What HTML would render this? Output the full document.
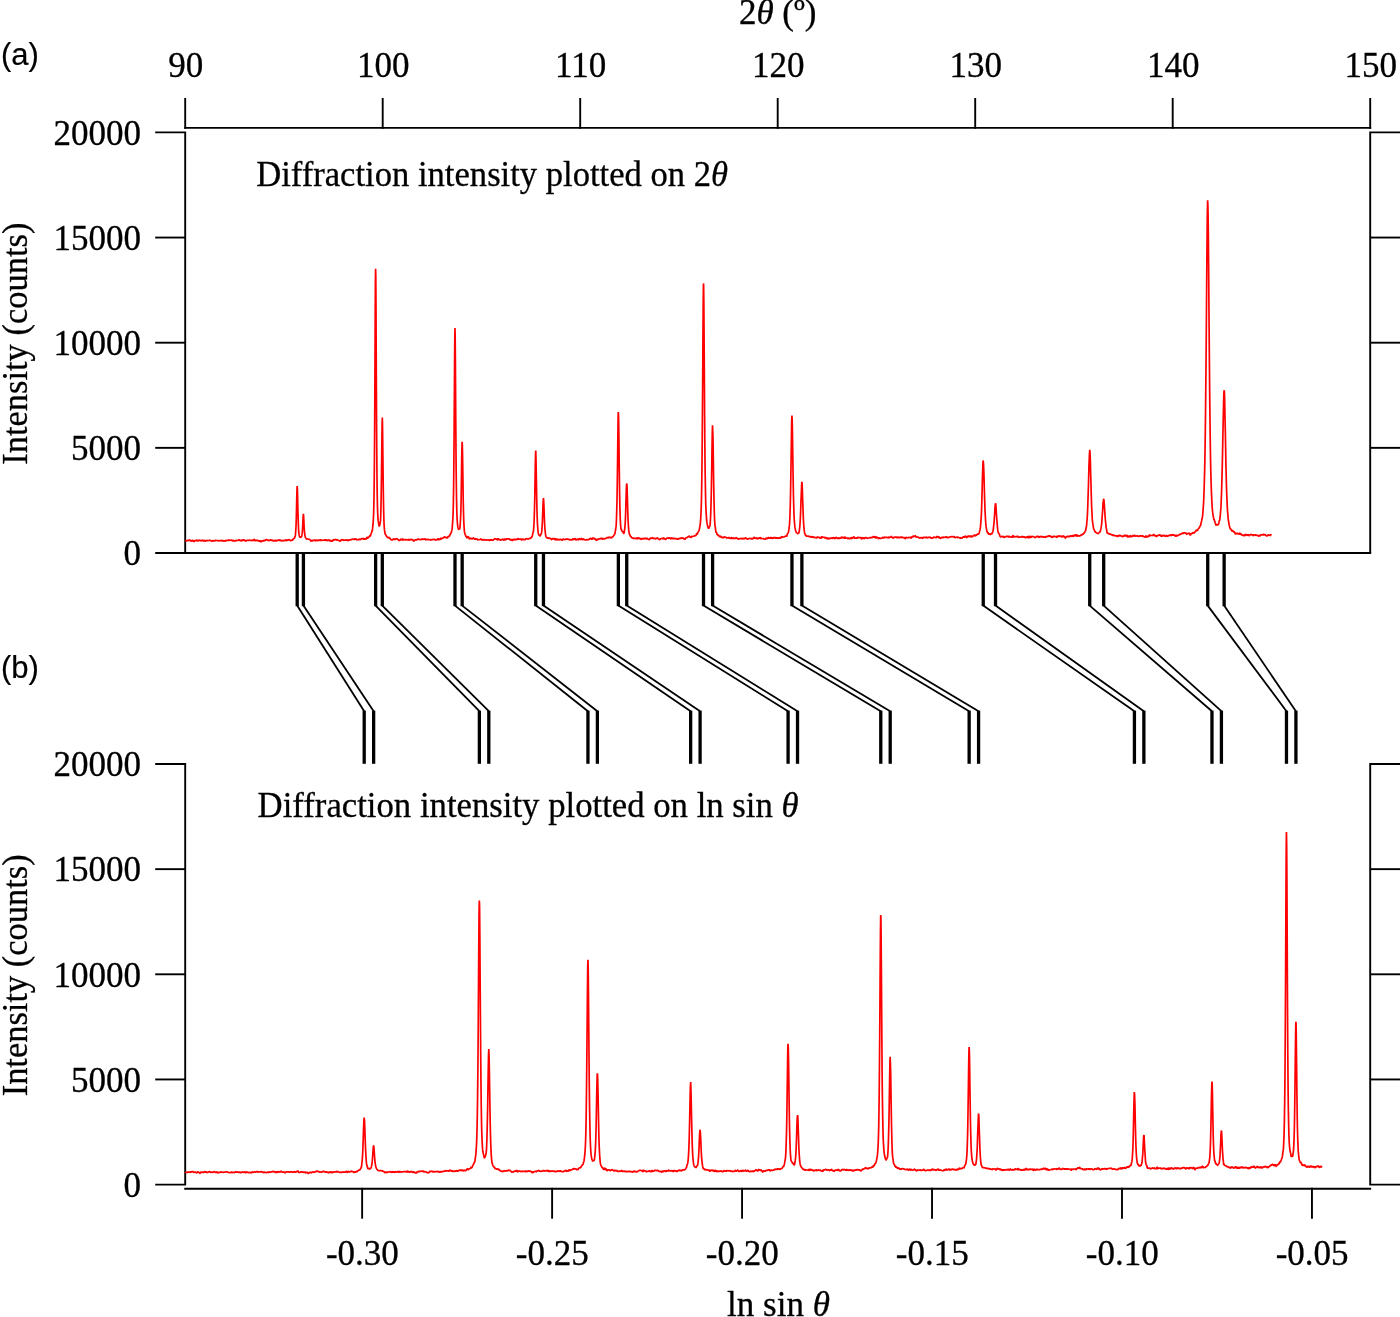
<!DOCTYPE html>
<html lang="en"><head><meta charset="utf-8"><title>Diffraction intensity plotted on 2θ and ln sin θ</title>
<style>html,body{margin:0;padding:0;background:#fff}body{width:1400px;height:1317px;overflow:hidden}svg{display:block}</style>
</head><body>
<svg width="1400" height="1317" viewBox="0 0 1400 1317">
<rect width="1400" height="1317" fill="#fff"/>
<path d="M184.25,127.90 L1371.15,127.90" stroke="#000" stroke-width="1.9" fill="none"/>
<path d="M185.20,128.85 L185.20,98.00" stroke="#000" stroke-width="1.9" fill="none"/>
<path d="M382.70,128.85 L382.70,98.00" stroke="#000" stroke-width="1.9" fill="none"/>
<path d="M580.20,128.85 L580.20,98.00" stroke="#000" stroke-width="1.9" fill="none"/>
<path d="M777.70,128.85 L777.70,98.00" stroke="#000" stroke-width="1.9" fill="none"/>
<path d="M975.20,128.85 L975.20,98.00" stroke="#000" stroke-width="1.9" fill="none"/>
<path d="M1172.70,128.85 L1172.70,98.00" stroke="#000" stroke-width="1.9" fill="none"/>
<path d="M1370.20,128.85 L1370.20,98.00" stroke="#000" stroke-width="1.9" fill="none"/>
<path d="M155.2,132.40 L185.20,132.40 L185.20,553.00" stroke="#000" stroke-width="1.9" fill="none"/>
<path d="M155.20,553.00 L1371.15,553.00" stroke="#000" stroke-width="1.9" fill="none"/>
<path d="M155.20,447.85 L185.20,447.85" stroke="#000" stroke-width="1.9" fill="none"/>
<path d="M155.20,342.70 L185.20,342.70" stroke="#000" stroke-width="1.9" fill="none"/>
<path d="M155.20,237.55 L185.20,237.55" stroke="#000" stroke-width="1.9" fill="none"/>
<path d="M1400,132.40 L1370.20,132.40 L1370.20,553.00" stroke="#000" stroke-width="1.9" fill="none"/>
<path d="M1370.20,447.85 L1400.00,447.85" stroke="#000" stroke-width="1.9" fill="none"/>
<path d="M1370.20,342.70 L1400.00,342.70" stroke="#000" stroke-width="1.9" fill="none"/>
<path d="M1370.20,237.55 L1400.00,237.55" stroke="#000" stroke-width="1.9" fill="none"/>
<path d="M155.2,764.00 L185.20,764.00 L185.20,1184.60 L155.2,1184.60" stroke="#000" stroke-width="1.9" fill="none"/>
<path d="M155.20,1079.45 L185.20,1079.45" stroke="#000" stroke-width="1.9" fill="none"/>
<path d="M155.20,974.30 L185.20,974.30" stroke="#000" stroke-width="1.9" fill="none"/>
<path d="M155.20,869.15 L185.20,869.15" stroke="#000" stroke-width="1.9" fill="none"/>
<path d="M1400,764.00 L1370.20,764.00 L1370.20,1184.60 L1400,1184.60" stroke="#000" stroke-width="1.9" fill="none"/>
<path d="M1370.20,1079.45 L1400.00,1079.45" stroke="#000" stroke-width="1.9" fill="none"/>
<path d="M1370.20,974.30 L1400.00,974.30" stroke="#000" stroke-width="1.9" fill="none"/>
<path d="M1370.20,869.15 L1400.00,869.15" stroke="#000" stroke-width="1.9" fill="none"/>
<path d="M184.25,1188.80 L1371.15,1188.80" stroke="#000" stroke-width="1.9" fill="none"/>
<path d="M362.14,1187.85 L362.14,1218.70" stroke="#000" stroke-width="1.9" fill="none"/>
<path d="M552.11,1187.85 L552.11,1218.70" stroke="#000" stroke-width="1.9" fill="none"/>
<path d="M742.07,1187.85 L742.07,1218.70" stroke="#000" stroke-width="1.9" fill="none"/>
<path d="M932.03,1187.85 L932.03,1218.70" stroke="#000" stroke-width="1.9" fill="none"/>
<path d="M1121.99,1187.85 L1121.99,1218.70" stroke="#000" stroke-width="1.9" fill="none"/>
<path d="M1311.95,1187.85 L1311.95,1218.70" stroke="#000" stroke-width="1.9" fill="none"/>
<path d="M297.19,553.00 L297.19,606.20" stroke="#000" stroke-width="3.3" fill="none"/>
<path d="M364.20,710.60 L364.20,763.80" stroke="#000" stroke-width="3.3" fill="none"/>
<path d="M297.19,605.60 L364.20,711.20" stroke="#000" stroke-width="1.8" fill="none"/>
<path d="M303.42,553.00 L303.42,606.20" stroke="#000" stroke-width="3.3" fill="none"/>
<path d="M373.64,710.60 L373.64,763.80" stroke="#000" stroke-width="3.3" fill="none"/>
<path d="M303.42,605.60 L373.64,711.20" stroke="#000" stroke-width="1.8" fill="none"/>
<path d="M375.62,553.00 L375.62,606.20" stroke="#000" stroke-width="3.3" fill="none"/>
<path d="M479.36,710.60 L479.36,763.80" stroke="#000" stroke-width="3.3" fill="none"/>
<path d="M375.62,605.60 L479.36,711.20" stroke="#000" stroke-width="1.8" fill="none"/>
<path d="M382.30,553.00 L382.30,606.20" stroke="#000" stroke-width="3.3" fill="none"/>
<path d="M488.80,710.60 L488.80,763.80" stroke="#000" stroke-width="3.3" fill="none"/>
<path d="M382.30,605.60 L488.80,711.20" stroke="#000" stroke-width="1.8" fill="none"/>
<path d="M454.99,553.00 L454.99,606.20" stroke="#000" stroke-width="3.3" fill="none"/>
<path d="M587.94,710.60 L587.94,763.80" stroke="#000" stroke-width="3.3" fill="none"/>
<path d="M454.99,605.60 L587.94,711.20" stroke="#000" stroke-width="1.8" fill="none"/>
<path d="M462.17,553.00 L462.17,606.20" stroke="#000" stroke-width="3.3" fill="none"/>
<path d="M597.38,710.60 L597.38,763.80" stroke="#000" stroke-width="3.3" fill="none"/>
<path d="M462.17,605.60 L597.38,711.20" stroke="#000" stroke-width="1.8" fill="none"/>
<path d="M535.73,553.00 L535.73,606.20" stroke="#000" stroke-width="3.3" fill="none"/>
<path d="M690.65,710.60 L690.65,763.80" stroke="#000" stroke-width="3.3" fill="none"/>
<path d="M535.73,605.60 L690.65,711.20" stroke="#000" stroke-width="1.8" fill="none"/>
<path d="M543.46,553.00 L543.46,606.20" stroke="#000" stroke-width="3.3" fill="none"/>
<path d="M700.09,710.60 L700.09,763.80" stroke="#000" stroke-width="3.3" fill="none"/>
<path d="M543.46,605.60 L700.09,711.20" stroke="#000" stroke-width="1.8" fill="none"/>
<path d="M618.36,553.00 L618.36,606.20" stroke="#000" stroke-width="3.3" fill="none"/>
<path d="M788.08,710.60 L788.08,763.80" stroke="#000" stroke-width="3.3" fill="none"/>
<path d="M618.36,605.60 L788.08,711.20" stroke="#000" stroke-width="1.8" fill="none"/>
<path d="M626.73,553.00 L626.73,606.20" stroke="#000" stroke-width="3.3" fill="none"/>
<path d="M797.53,710.60 L797.53,763.80" stroke="#000" stroke-width="3.3" fill="none"/>
<path d="M626.73,605.60 L797.53,711.20" stroke="#000" stroke-width="1.8" fill="none"/>
<path d="M703.51,553.00 L703.51,606.20" stroke="#000" stroke-width="3.3" fill="none"/>
<path d="M880.77,710.60 L880.77,763.80" stroke="#000" stroke-width="3.3" fill="none"/>
<path d="M703.51,605.60 L880.77,711.20" stroke="#000" stroke-width="1.8" fill="none"/>
<path d="M712.60,553.00 L712.60,606.20" stroke="#000" stroke-width="3.3" fill="none"/>
<path d="M890.21,710.60 L890.21,763.80" stroke="#000" stroke-width="3.3" fill="none"/>
<path d="M712.60,605.60 L890.21,711.20" stroke="#000" stroke-width="1.8" fill="none"/>
<path d="M791.95,553.00 L791.95,606.20" stroke="#000" stroke-width="3.3" fill="none"/>
<path d="M969.14,710.60 L969.14,763.80" stroke="#000" stroke-width="3.3" fill="none"/>
<path d="M791.95,605.60 L969.14,711.20" stroke="#000" stroke-width="1.8" fill="none"/>
<path d="M801.88,553.00 L801.88,606.20" stroke="#000" stroke-width="3.3" fill="none"/>
<path d="M978.58,710.60 L978.58,763.80" stroke="#000" stroke-width="3.3" fill="none"/>
<path d="M801.88,605.60 L978.58,711.20" stroke="#000" stroke-width="1.8" fill="none"/>
<path d="M983.24,553.00 L983.24,606.20" stroke="#000" stroke-width="3.3" fill="none"/>
<path d="M1134.42,710.60 L1134.42,763.80" stroke="#000" stroke-width="3.3" fill="none"/>
<path d="M983.24,605.60 L1134.42,711.20" stroke="#000" stroke-width="1.8" fill="none"/>
<path d="M995.51,553.00 L995.51,606.20" stroke="#000" stroke-width="3.3" fill="none"/>
<path d="M1143.87,710.60 L1143.87,763.80" stroke="#000" stroke-width="3.3" fill="none"/>
<path d="M995.51,605.60 L1143.87,711.20" stroke="#000" stroke-width="1.8" fill="none"/>
<path d="M1089.72,553.00 L1089.72,606.20" stroke="#000" stroke-width="3.3" fill="none"/>
<path d="M1211.97,710.60 L1211.97,763.80" stroke="#000" stroke-width="3.3" fill="none"/>
<path d="M1089.72,605.60 L1211.97,711.20" stroke="#000" stroke-width="1.8" fill="none"/>
<path d="M1103.69,553.00 L1103.69,606.20" stroke="#000" stroke-width="3.3" fill="none"/>
<path d="M1221.41,710.60 L1221.41,763.80" stroke="#000" stroke-width="3.3" fill="none"/>
<path d="M1103.69,605.60 L1221.41,711.20" stroke="#000" stroke-width="1.8" fill="none"/>
<path d="M1207.72,553.00 L1207.72,606.20" stroke="#000" stroke-width="3.3" fill="none"/>
<path d="M1286.47,710.60 L1286.47,763.80" stroke="#000" stroke-width="3.3" fill="none"/>
<path d="M1207.72,605.60 L1286.47,711.20" stroke="#000" stroke-width="1.8" fill="none"/>
<path d="M1224.14,553.00 L1224.14,606.20" stroke="#000" stroke-width="3.3" fill="none"/>
<path d="M1295.92,710.60 L1295.92,763.80" stroke="#000" stroke-width="3.3" fill="none"/>
<path d="M1224.14,605.60 L1295.92,711.20" stroke="#000" stroke-width="1.8" fill="none"/>
<path d="M185.20,540.36 L185.40,540.63 L185.60,540.72 L185.79,540.69 L185.99,540.84 L186.19,540.76 L186.39,540.87 L186.58,540.95 L186.78,540.49 L186.98,540.37 L187.18,540.67 L187.37,540.60 L187.57,540.43 L187.77,540.52 L187.97,540.74 L188.16,540.76 L188.36,540.41 L188.56,540.20 L188.76,540.42 L188.95,540.43 L189.15,540.01 L189.35,540.04 L189.55,540.06 L189.74,539.77 L189.94,540.19 L190.14,540.72 L190.34,540.90 L190.53,540.85 L190.73,540.44 L190.93,540.46 L191.13,540.53 L191.32,540.49 L191.52,540.72 L191.72,540.88 L191.92,541.13 L192.11,541.22 L192.31,540.86 L192.51,540.23 L192.71,540.12 L192.90,540.52 L193.10,540.66 L193.30,540.71 L193.50,540.85 L193.69,541.26 L193.89,541.73 L194.09,541.61 L194.29,540.82 L194.48,540.30 L194.68,540.67 L194.88,540.80 L195.08,540.44 L195.27,540.52 L195.47,540.69 L195.67,540.63 L195.87,540.64 L196.06,540.80 L196.26,540.78 L196.46,540.42 L196.66,540.10 L196.85,540.01 L197.05,540.45 L197.25,540.82 L197.45,540.33 L197.64,539.91 L197.84,540.33 L198.04,540.81 L198.24,540.97 L198.43,540.90 L198.63,540.83 L198.83,540.64 L199.03,540.31 L199.22,540.41 L199.42,540.39 L199.62,540.01 L199.82,540.06 L200.01,540.45 L200.21,540.49 L200.41,540.43 L200.61,540.83 L200.80,541.03 L201.00,540.55 L201.20,540.21 L201.40,540.47 L201.59,540.78 L201.79,540.82 L201.99,540.80 L202.19,540.58 L202.38,540.11 L202.58,539.99 L202.78,540.23 L202.98,540.40 L203.17,540.51 L203.37,540.71 L203.57,540.93 L203.77,541.04 L203.96,540.67 L204.16,540.17 L204.36,540.41 L204.56,540.94 L204.75,541.19 L204.95,541.14 L205.15,540.86 L205.35,540.92 L205.54,541.13 L205.74,540.98 L205.94,540.72 L206.14,540.47 L206.33,540.31 L206.53,540.33 L206.73,540.65 L206.93,540.79 L207.12,540.50 L207.32,540.27 L207.52,540.53 L207.72,540.87 L207.91,540.74 L208.11,540.64 L208.31,540.79 L208.51,540.57 L208.70,540.22 L208.90,540.51 L209.10,540.71 L209.30,540.43 L209.49,540.40 L209.69,540.42 L209.89,540.28 L210.09,540.28 L210.28,540.29 L210.48,540.26 L210.68,540.50 L210.88,540.80 L211.07,540.88 L211.27,540.79 L211.47,540.77 L211.67,541.10 L211.86,541.20 L212.06,540.95 L212.26,541.13 L212.46,541.14 L212.65,540.72 L212.85,540.52 L213.05,540.46 L213.25,540.63 L213.44,540.94 L213.64,540.95 L213.84,540.75 L214.04,540.68 L214.23,540.75 L214.43,540.87 L214.63,540.95 L214.83,540.97 L215.02,541.06 L215.22,540.78 L215.42,540.30 L215.62,540.02 L215.81,540.25 L216.01,540.75 L216.21,540.52 L216.41,540.14 L216.60,540.40 L216.80,540.77 L217.00,540.48 L217.20,540.36 L217.39,540.80 L217.59,540.63 L217.79,540.43 L217.99,540.65 L218.18,540.77 L218.38,541.00 L218.58,541.15 L218.78,540.98 L218.97,540.75 L219.17,540.55 L219.37,540.56 L219.57,540.80 L219.76,540.68 L219.96,540.32 L220.16,540.52 L220.36,540.80 L220.55,540.66 L220.75,540.58 L220.95,540.52 L221.15,540.31 L221.34,540.23 L221.54,540.67 L221.74,541.29 L221.94,541.15 L222.13,540.66 L222.33,540.47 L222.53,540.34 L222.73,540.53 L222.92,540.67 L223.12,540.58 L223.32,541.02 L223.52,541.07 L223.71,540.70 L223.91,540.90 L224.11,540.74 L224.31,540.46 L224.50,540.89 L224.70,541.14 L224.90,540.98 L225.10,541.25 L225.29,541.38 L225.49,540.91 L225.69,540.48 L225.89,540.33 L226.08,540.36 L226.28,540.53 L226.48,540.70 L226.68,540.77 L226.87,540.53 L227.07,540.27 L227.27,540.27 L227.47,540.32 L227.66,540.50 L227.86,540.56 L228.06,540.42 L228.26,540.29 L228.45,540.16 L228.65,539.94 L228.85,539.83 L229.05,540.12 L229.24,540.48 L229.44,540.54 L229.64,540.27 L229.84,540.14 L230.03,540.34 L230.23,540.25 L230.43,540.08 L230.63,540.28 L230.82,540.32 L231.02,540.13 L231.22,540.16 L231.42,540.13 L231.61,539.93 L231.81,540.08 L232.01,540.55 L232.21,540.73 L232.40,540.63 L232.60,540.90 L232.80,541.03 L233.00,540.60 L233.19,540.43 L233.39,540.66 L233.59,540.75 L233.79,540.59 L233.98,540.71 L234.18,541.01 L234.38,541.13 L234.58,541.00 L234.77,540.86 L234.97,540.78 L235.17,540.67 L235.37,540.57 L235.56,540.57 L235.76,540.90 L235.96,541.09 L236.16,540.80 L236.35,540.40 L236.55,540.17 L236.75,540.51 L236.95,540.92 L237.14,540.48 L237.34,540.02 L237.54,540.26 L237.74,540.41 L237.93,540.32 L238.13,540.22 L238.33,540.07 L238.53,539.89 L238.72,539.71 L238.92,539.92 L239.12,540.19 L239.32,539.97 L239.51,539.91 L239.71,540.24 L239.91,540.65 L240.11,540.70 L240.30,540.28 L240.50,540.44 L240.70,541.00 L240.90,540.90 L241.09,540.33 L241.29,540.00 L241.49,540.05 L241.69,540.26 L241.88,540.68 L242.08,540.69 L242.28,540.21 L242.48,540.10 L242.67,540.12 L242.87,540.13 L243.07,540.47 L243.27,540.42 L243.46,539.84 L243.66,539.66 L243.86,539.82 L244.06,539.93 L244.25,540.21 L244.45,540.37 L244.65,540.60 L244.85,540.84 L245.04,540.50 L245.24,540.26 L245.44,540.49 L245.64,540.45 L245.83,540.42 L246.03,540.98 L246.23,541.28 L246.43,541.15 L246.62,540.81 L246.82,540.31 L247.02,540.37 L247.22,540.74 L247.41,540.33 L247.61,539.80 L247.81,540.25 L248.01,540.58 L248.20,540.25 L248.40,540.06 L248.60,540.26 L248.80,540.65 L248.99,540.62 L249.19,540.27 L249.39,540.42 L249.59,540.55 L249.78,540.06 L249.98,539.93 L250.18,540.25 L250.38,540.32 L250.57,540.31 L250.77,540.57 L250.97,540.64 L251.17,540.51 L251.36,540.51 L251.56,540.49 L251.76,540.55 L251.96,540.42 L252.15,539.98 L252.35,539.84 L252.55,540.37 L252.75,540.72 L252.94,540.61 L253.14,540.55 L253.34,540.34 L253.54,539.95 L253.73,539.62 L253.93,539.69 L254.13,539.80 L254.33,539.35 L254.52,539.41 L254.72,540.41 L254.92,541.01 L255.12,540.72 L255.31,540.73 L255.51,541.04 L255.71,540.77 L255.91,540.59 L256.10,540.58 L256.30,540.21 L256.50,540.08 L256.70,540.30 L256.89,540.40 L257.09,540.53 L257.29,540.55 L257.49,540.28 L257.68,540.21 L257.88,540.70 L258.08,540.96 L258.28,540.80 L258.47,540.85 L258.67,540.55 L258.87,540.20 L259.07,540.69 L259.26,541.35 L259.46,541.28 L259.66,540.82 L259.86,540.74 L260.05,540.71 L260.25,540.67 L260.45,540.91 L260.65,541.19 L260.84,541.67 L261.04,542.11 L261.24,541.77 L261.44,541.18 L261.63,540.92 L261.83,540.84 L262.03,540.86 L262.23,540.75 L262.42,540.76 L262.62,541.04 L262.82,541.27 L263.02,541.19 L263.21,540.80 L263.41,540.64 L263.61,540.50 L263.81,540.20 L264.00,540.31 L264.20,540.51 L264.40,540.67 L264.60,540.82 L264.79,540.56 L264.99,540.52 L265.19,540.53 L265.39,540.14 L265.58,540.01 L265.78,539.97 L265.98,539.81 L266.18,539.47 L266.37,539.44 L266.57,540.02 L266.77,540.27 L266.97,539.84 L267.16,539.54 L267.36,539.77 L267.56,539.86 L267.76,540.06 L267.95,540.54 L268.15,540.56 L268.35,540.30 L268.55,540.15 L268.74,540.30 L268.94,540.49 L269.14,540.51 L269.34,540.53 L269.53,540.37 L269.73,540.30 L269.93,540.33 L270.13,540.14 L270.32,539.86 L270.52,539.83 L270.72,539.81 L270.92,539.93 L271.11,540.15 L271.31,540.05 L271.51,540.02 L271.71,540.25 L271.90,540.55 L272.10,540.59 L272.30,540.16 L272.50,540.09 L272.69,540.56 L272.89,540.73 L273.09,540.62 L273.29,540.44 L273.48,540.25 L273.68,540.60 L273.88,541.21 L274.08,541.15 L274.27,540.82 L274.47,540.71 L274.67,540.74 L274.87,540.63 L275.06,540.11 L275.26,540.25 L275.46,541.04 L275.66,540.93 L275.85,540.48 L276.05,540.54 L276.25,540.83 L276.45,541.10 L276.64,540.90 L276.84,540.34 L277.04,540.13 L277.24,540.43 L277.43,540.64 L277.63,540.50 L277.83,540.29 L278.03,540.12 L278.22,540.17 L278.42,540.27 L278.62,540.30 L278.82,540.28 L279.01,539.87 L279.21,539.84 L279.41,540.24 L279.61,540.35 L279.80,540.28 L280.00,539.99 L280.20,539.96 L280.40,540.18 L280.59,540.25 L280.79,540.56 L280.99,540.85 L281.19,540.85 L281.38,540.80 L281.58,540.76 L281.78,540.78 L281.98,540.75 L282.17,540.44 L282.37,540.37 L282.57,540.84 L282.77,540.98 L282.96,540.44 L283.16,540.18 L283.36,540.61 L283.56,540.86 L283.75,540.40 L283.95,540.29 L284.15,540.69 L284.35,540.59 L284.54,540.51 L284.74,540.53 L284.94,540.42 L285.14,540.44 L285.33,540.04 L285.53,539.64 L285.73,539.90 L285.93,540.41 L286.12,540.69 L286.32,540.72 L286.52,540.32 L286.72,539.70 L286.91,539.84 L287.11,540.34 L287.31,540.49 L287.51,540.37 L287.70,540.29 L287.90,540.07 L288.10,539.74 L288.30,540.03 L288.49,540.24 L288.69,539.82 L288.89,539.41 L289.09,539.57 L289.28,540.02 L289.48,540.13 L289.68,540.05 L289.88,540.06 L290.07,540.29 L290.27,540.75 L290.47,540.83 L290.67,540.68 L290.86,540.50 L291.06,540.14 L291.26,540.25 L291.46,540.55 L291.65,540.43 L291.85,540.22 L292.05,539.87 L292.25,539.71 L292.44,540.15 L292.64,540.15 L292.84,539.52 L293.04,539.16 L293.23,538.95 L293.43,538.75 L293.63,538.58 L293.83,538.46 L294.02,538.46 L294.22,538.33 L294.42,538.22 L294.62,537.84 L294.81,536.94 L295.01,536.52 L295.21,536.40 L295.41,535.15 L295.60,532.68 L295.80,529.88 L296.00,526.50 L296.20,521.68 L296.39,514.33 L296.59,504.96 L296.79,496.21 L296.99,489.30 L297.18,486.04 L297.38,488.51 L297.58,495.72 L297.78,504.66 L297.97,512.85 L298.17,519.69 L298.37,525.21 L298.57,529.66 L298.76,532.48 L298.96,533.74 L299.16,534.71 L299.36,535.90 L299.55,536.79 L299.75,537.17 L299.95,537.10 L300.15,536.78 L300.34,536.79 L300.54,537.04 L300.74,537.42 L300.94,537.52 L301.13,536.96 L301.33,536.52 L301.53,536.53 L301.73,536.13 L301.92,535.20 L302.12,533.90 L302.32,531.98 L302.52,529.59 L302.71,526.15 L302.91,521.61 L303.11,517.11 L303.31,514.26 L303.50,514.22 L303.70,517.35 L303.90,521.64 L304.10,526.18 L304.29,529.51 L304.49,531.94 L304.69,533.98 L304.89,535.10 L305.08,536.03 L305.28,536.97 L305.48,537.38 L305.68,537.74 L305.87,538.13 L306.07,538.41 L306.27,538.67 L306.47,538.93 L306.66,538.99 L306.86,539.08 L307.06,539.07 L307.26,538.90 L307.45,538.97 L307.65,538.99 L307.85,538.79 L308.05,538.95 L308.24,539.27 L308.44,539.03 L308.64,538.95 L308.84,539.22 L309.03,539.41 L309.23,539.45 L309.43,539.29 L309.63,539.50 L309.82,539.68 L310.02,539.67 L310.22,539.93 L310.42,540.30 L310.61,540.73 L310.81,541.05 L311.01,541.14 L311.21,540.83 L311.40,540.48 L311.60,540.46 L311.80,540.65 L312.00,541.04 L312.19,541.18 L312.39,540.87 L312.59,540.52 L312.79,540.44 L312.98,540.45 L313.18,540.39 L313.38,540.47 L313.58,540.33 L313.77,540.19 L313.97,540.40 L314.17,540.23 L314.37,539.94 L314.56,540.06 L314.76,540.27 L314.96,540.19 L315.16,540.23 L315.35,540.86 L315.55,541.10 L315.75,540.54 L315.95,539.95 L316.14,539.99 L316.34,540.44 L316.54,540.55 L316.74,540.26 L316.93,540.20 L317.13,540.56 L317.33,540.83 L317.53,540.66 L317.72,540.24 L317.92,540.07 L318.12,540.14 L318.32,540.44 L318.51,540.63 L318.71,540.48 L318.91,540.34 L319.11,540.11 L319.30,539.98 L319.50,540.26 L319.70,540.23 L319.90,539.83 L320.09,539.89 L320.29,540.59 L320.49,540.99 L320.69,540.45 L320.88,539.83 L321.08,539.87 L321.28,540.29 L321.48,540.49 L321.67,540.25 L321.87,540.13 L322.07,540.33 L322.27,540.41 L322.46,540.30 L322.66,540.33 L322.86,540.39 L323.06,540.24 L323.25,540.19 L323.45,540.15 L323.65,539.86 L323.85,540.00 L324.04,540.35 L324.24,540.10 L324.44,540.00 L324.64,540.09 L324.83,539.93 L325.03,539.89 L325.23,540.02 L325.43,540.42 L325.62,540.46 L325.82,539.79 L326.02,539.44 L326.22,539.67 L326.41,539.96 L326.61,540.38 L326.81,540.62 L327.01,540.17 L327.20,539.97 L327.40,540.43 L327.60,540.67 L327.80,540.56 L327.99,540.08 L328.19,539.86 L328.39,540.21 L328.59,540.04 L328.78,539.67 L328.98,540.01 L329.18,540.59 L329.38,540.94 L329.57,540.86 L329.77,540.52 L329.97,540.43 L330.17,540.30 L330.36,540.43 L330.56,540.95 L330.76,541.03 L330.96,540.80 L331.15,540.81 L331.35,541.13 L331.55,541.27 L331.75,541.04 L331.94,541.30 L332.14,541.62 L332.34,541.13 L332.54,540.30 L332.73,539.92 L332.93,540.38 L333.13,540.38 L333.33,539.72 L333.52,539.73 L333.72,540.12 L333.92,540.30 L334.12,539.99 L334.31,539.50 L334.51,539.65 L334.71,539.94 L334.91,539.70 L335.10,539.44 L335.30,539.60 L335.50,539.62 L335.70,539.57 L335.89,539.78 L336.09,539.87 L336.29,539.47 L336.49,539.22 L336.68,539.66 L336.88,540.18 L337.08,540.22 L337.28,539.98 L337.47,539.95 L337.67,540.05 L337.87,540.31 L338.07,540.52 L338.26,540.32 L338.46,540.34 L338.66,540.59 L338.86,540.56 L339.05,540.54 L339.25,540.87 L339.45,540.99 L339.65,540.78 L339.84,540.94 L340.04,541.29 L340.24,541.25 L340.44,540.96 L340.63,540.83 L340.83,540.55 L341.03,540.13 L341.23,539.84 L341.42,539.62 L341.62,539.68 L341.82,539.91 L342.02,539.98 L342.21,539.87 L342.41,539.69 L342.61,539.80 L342.81,539.88 L343.00,539.75 L343.20,539.91 L343.40,540.34 L343.60,540.45 L343.79,540.09 L343.99,539.90 L344.19,540.03 L344.39,540.23 L344.58,540.31 L344.78,540.12 L344.98,539.96 L345.18,540.00 L345.37,540.10 L345.57,540.09 L345.77,539.94 L345.97,540.01 L346.16,540.10 L346.36,539.84 L346.56,539.64 L346.76,539.78 L346.95,540.06 L347.15,540.36 L347.35,540.38 L347.55,540.39 L347.74,540.67 L347.94,540.57 L348.14,540.13 L348.34,539.88 L348.53,540.04 L348.73,540.44 L348.93,540.56 L349.13,540.29 L349.32,539.95 L349.52,539.87 L349.72,540.01 L349.92,540.11 L350.11,539.88 L350.31,539.77 L350.51,540.01 L350.71,539.75 L350.90,539.27 L351.10,539.44 L351.30,539.65 L351.50,539.61 L351.69,539.68 L351.89,539.40 L352.09,538.79 L352.29,538.95 L352.48,539.54 L352.68,539.20 L352.88,538.87 L353.08,539.27 L353.27,539.21 L353.47,539.03 L353.67,539.25 L353.87,539.31 L354.06,539.54 L354.26,539.77 L354.46,539.44 L354.66,539.08 L354.85,538.65 L355.05,538.35 L355.25,538.70 L355.45,539.06 L355.64,539.01 L355.84,538.86 L356.04,539.02 L356.24,539.57 L356.43,539.98 L356.63,539.85 L356.83,539.36 L357.03,539.27 L357.22,539.57 L357.42,539.69 L357.62,539.73 L357.82,539.76 L358.01,539.70 L358.21,539.44 L358.41,539.12 L358.61,539.35 L358.80,539.82 L359.00,539.68 L359.20,539.25 L359.40,539.22 L359.59,539.27 L359.79,538.98 L359.99,539.00 L360.19,539.51 L360.38,539.82 L360.58,539.61 L360.78,539.13 L360.98,539.00 L361.17,539.13 L361.37,538.92 L361.57,538.57 L361.77,538.61 L361.96,538.55 L362.16,538.41 L362.36,538.85 L362.56,538.70 L362.75,538.08 L362.95,538.45 L363.15,539.01 L363.35,539.07 L363.54,538.87 L363.74,538.61 L363.94,538.59 L364.14,538.84 L364.33,539.33 L364.53,539.58 L364.73,539.09 L364.93,538.54 L365.12,538.63 L365.32,538.85 L365.52,538.84 L365.72,538.89 L365.91,539.01 L366.11,539.03 L366.31,538.73 L366.51,538.38 L366.70,538.13 L366.90,537.62 L367.10,537.13 L367.30,537.27 L367.49,537.80 L367.69,538.08 L367.89,538.09 L368.09,537.95 L368.28,537.56 L368.48,537.23 L368.68,537.12 L368.88,537.02 L369.07,536.91 L369.27,536.92 L369.47,536.58 L369.67,535.81 L369.86,535.72 L370.06,536.19 L370.26,536.20 L370.46,535.73 L370.65,534.99 L370.85,534.21 L371.05,533.70 L371.25,533.28 L371.44,532.74 L371.64,532.20 L371.84,531.67 L372.04,531.11 L372.23,530.70 L372.43,529.96 L372.63,527.93 L372.83,525.69 L373.02,524.21 L373.22,521.76 L373.42,517.83 L373.62,513.26 L373.81,506.36 L374.01,495.70 L374.21,481.21 L374.41,461.66 L374.60,435.08 L374.80,400.49 L375.00,359.84 L375.20,317.50 L375.39,281.90 L375.59,268.84 L375.79,275.30 L375.99,306.54 L376.18,347.86 L376.38,388.07 L376.58,423.73 L376.78,453.85 L376.97,476.24 L377.17,491.92 L377.37,502.76 L377.57,509.62 L377.76,514.52 L377.96,518.33 L378.16,520.43 L378.36,521.62 L378.55,522.80 L378.75,524.09 L378.95,525.35 L379.15,526.17 L379.34,526.32 L379.54,525.65 L379.74,524.73 L379.94,524.14 L380.13,523.23 L380.33,522.16 L380.53,520.39 L380.73,516.20 L380.92,509.21 L381.12,499.17 L381.32,486.98 L381.52,472.80 L381.71,455.27 L381.91,437.26 L382.11,423.98 L382.31,417.48 L382.50,424.70 L382.70,438.75 L382.90,457.10 L383.10,474.76 L383.29,490.22 L383.49,502.56 L383.69,511.95 L383.89,519.56 L384.08,524.53 L384.28,527.50 L384.48,529.94 L384.68,531.54 L384.87,532.36 L385.07,533.27 L385.27,534.24 L385.47,534.60 L385.66,534.50 L385.86,535.03 L386.06,535.79 L386.26,535.65 L386.45,535.85 L386.65,536.82 L386.85,537.18 L387.05,537.00 L387.24,537.09 L387.44,537.14 L387.64,537.21 L387.84,537.57 L388.03,537.70 L388.23,537.61 L388.43,537.43 L388.63,537.22 L388.82,537.39 L389.02,537.95 L389.22,537.98 L389.42,537.60 L389.61,537.81 L389.81,538.42 L390.01,538.71 L390.21,538.72 L390.40,538.97 L390.60,539.35 L390.80,539.56 L391.00,539.48 L391.19,539.51 L391.39,539.85 L391.59,539.83 L391.79,539.69 L391.98,539.90 L392.18,539.99 L392.38,539.91 L392.58,539.69 L392.77,539.39 L392.97,539.28 L393.17,538.95 L393.37,538.94 L393.56,539.32 L393.76,539.34 L393.96,539.41 L394.16,539.56 L394.35,539.44 L394.55,539.19 L394.75,538.88 L394.95,538.97 L395.14,539.41 L395.34,539.37 L395.54,538.89 L395.74,539.03 L395.93,539.36 L396.13,538.96 L396.33,538.54 L396.53,538.47 L396.72,538.78 L396.92,539.00 L397.12,538.66 L397.32,538.41 L397.51,538.96 L397.71,539.45 L397.91,539.37 L398.11,539.64 L398.30,539.96 L398.50,540.17 L398.70,540.45 L398.90,540.48 L399.09,540.39 L399.29,540.26 L399.49,540.16 L399.69,540.36 L399.88,540.55 L400.08,540.19 L400.28,539.68 L400.48,539.62 L400.67,539.75 L400.87,539.65 L401.07,539.40 L401.27,539.14 L401.46,539.20 L401.66,539.64 L401.86,539.60 L402.06,539.03 L402.25,538.70 L402.45,539.16 L402.65,539.89 L402.85,540.22 L403.04,540.20 L403.24,539.63 L403.44,539.30 L403.64,539.47 L403.83,539.40 L404.03,539.34 L404.23,539.49 L404.43,539.49 L404.62,539.54 L404.82,539.70 L405.02,539.79 L405.22,540.05 L405.41,540.17 L405.61,539.81 L405.81,539.63 L406.01,539.69 L406.20,539.49 L406.40,539.56 L406.60,539.93 L406.80,539.92 L406.99,539.89 L407.19,539.89 L407.39,539.78 L407.59,539.91 L407.78,539.90 L407.98,539.70 L408.18,539.63 L408.38,539.42 L408.57,539.32 L408.77,539.75 L408.97,540.16 L409.17,540.24 L409.36,539.90 L409.56,539.47 L409.76,539.59 L409.96,540.01 L410.15,539.91 L410.35,539.57 L410.55,539.53 L410.75,539.64 L410.94,539.64 L411.14,539.26 L411.34,539.08 L411.54,539.43 L411.73,539.76 L411.93,539.74 L412.13,539.60 L412.33,539.65 L412.52,539.85 L412.72,539.98 L412.92,539.84 L413.12,540.04 L413.31,540.83 L413.51,541.22 L413.71,541.10 L413.91,541.04 L414.10,540.87 L414.30,540.39 L414.50,540.16 L414.70,540.29 L414.89,540.25 L415.09,539.99 L415.29,539.77 L415.49,539.80 L415.68,539.81 L415.88,539.80 L416.08,539.76 L416.28,539.83 L416.47,540.24 L416.67,540.17 L416.87,539.67 L417.07,539.48 L417.26,539.36 L417.46,539.23 L417.66,539.23 L417.86,538.96 L418.05,539.00 L418.25,539.33 L418.45,539.08 L418.65,538.77 L418.84,539.35 L419.04,539.94 L419.24,539.58 L419.44,539.62 L419.63,539.93 L419.83,539.78 L420.03,539.77 L420.23,539.61 L420.42,539.48 L420.62,539.49 L420.82,539.44 L421.02,539.51 L421.21,539.46 L421.41,539.41 L421.61,539.09 L421.81,538.69 L422.00,539.06 L422.20,539.50 L422.40,539.49 L422.60,539.43 L422.79,539.30 L422.99,539.17 L423.19,539.17 L423.39,539.26 L423.58,539.28 L423.78,538.99 L423.98,538.89 L424.18,539.17 L424.37,539.21 L424.57,538.92 L424.77,538.61 L424.97,538.76 L425.16,539.22 L425.36,539.52 L425.56,539.84 L425.76,539.85 L425.95,539.50 L426.15,539.22 L426.35,539.29 L426.55,539.78 L426.74,540.04 L426.94,539.80 L427.14,539.64 L427.34,539.60 L427.53,539.51 L427.73,539.40 L427.93,539.31 L428.13,539.45 L428.32,539.59 L428.52,539.59 L428.72,539.74 L428.92,539.57 L429.11,539.25 L429.31,539.67 L429.51,539.97 L429.71,539.56 L429.90,539.34 L430.10,539.53 L430.30,539.77 L430.50,539.95 L430.69,540.15 L430.89,540.03 L431.09,539.71 L431.29,539.90 L431.48,540.14 L431.68,539.78 L431.88,539.22 L432.08,539.29 L432.27,539.68 L432.47,539.64 L432.67,539.35 L432.87,539.48 L433.06,539.75 L433.26,539.54 L433.46,539.57 L433.66,539.83 L433.85,539.67 L434.05,539.21 L434.25,539.04 L434.45,539.34 L434.64,539.68 L434.84,539.86 L435.04,539.67 L435.24,539.73 L435.43,540.20 L435.63,540.06 L435.83,539.90 L436.03,540.20 L436.22,539.99 L436.42,539.80 L436.62,540.07 L436.82,539.91 L437.01,539.44 L437.21,539.40 L437.41,539.50 L437.61,539.21 L437.80,538.94 L438.00,538.77 L438.20,538.74 L438.40,538.92 L438.59,539.27 L438.79,539.78 L438.99,539.89 L439.19,539.60 L439.38,539.15 L439.58,539.03 L439.78,539.36 L439.98,539.44 L440.17,539.51 L440.37,539.27 L440.57,538.62 L440.77,538.34 L440.96,538.13 L441.16,538.31 L441.36,539.08 L441.56,539.03 L441.75,538.32 L441.95,538.50 L442.15,538.71 L442.35,538.26 L442.54,538.16 L442.74,538.31 L442.94,538.14 L443.14,537.83 L443.33,537.57 L443.53,537.44 L443.73,537.56 L443.93,537.50 L444.12,537.18 L444.32,536.95 L444.52,536.91 L444.72,537.14 L444.91,537.43 L445.11,537.32 L445.31,537.13 L445.51,537.38 L445.70,537.54 L445.90,537.50 L446.10,537.31 L446.30,537.44 L446.49,537.95 L446.69,538.18 L446.89,538.01 L447.09,537.60 L447.28,537.83 L447.48,538.25 L447.68,537.75 L447.88,536.84 L448.07,536.33 L448.27,536.45 L448.47,536.77 L448.67,536.37 L448.86,535.86 L449.06,536.03 L449.26,536.15 L449.46,536.12 L449.65,535.73 L449.85,534.92 L450.05,534.54 L450.25,534.42 L450.44,534.04 L450.64,533.43 L450.84,533.01 L451.04,532.97 L451.23,532.84 L451.43,532.04 L451.63,530.85 L451.83,530.21 L452.02,529.43 L452.22,527.63 L452.42,525.29 L452.62,522.47 L452.81,519.38 L453.01,515.65 L453.21,509.59 L453.41,500.57 L453.60,487.93 L453.80,470.07 L454.00,447.21 L454.20,421.08 L454.39,392.39 L454.59,361.63 L454.79,336.95 L454.99,328.11 L455.18,336.81 L455.38,359.82 L455.58,391.21 L455.78,422.09 L455.97,448.72 L456.17,470.86 L456.37,487.73 L456.57,500.05 L456.76,509.11 L456.96,515.20 L457.16,519.49 L457.36,522.58 L457.55,524.49 L457.75,526.19 L457.95,527.58 L458.15,528.10 L458.34,528.52 L458.54,529.40 L458.74,529.82 L458.94,529.28 L459.13,528.87 L459.33,528.85 L459.53,528.96 L459.73,528.77 L459.92,527.80 L460.12,525.81 L460.32,523.00 L460.52,519.77 L460.71,515.33 L460.91,509.13 L461.11,500.19 L461.31,487.93 L461.50,473.72 L461.70,459.64 L461.90,448.77 L462.10,441.75 L462.29,443.32 L462.49,451.51 L462.69,463.47 L462.89,476.99 L463.08,490.79 L463.28,502.81 L463.48,511.90 L463.68,517.92 L463.87,522.81 L464.07,526.84 L464.27,529.69 L464.47,531.69 L464.66,533.06 L464.86,533.87 L465.06,534.37 L465.26,534.70 L465.45,534.98 L465.65,535.57 L465.85,536.18 L466.05,536.28 L466.24,536.34 L466.44,536.75 L466.64,537.22 L466.84,537.84 L467.03,537.87 L467.23,537.46 L467.43,537.01 L467.63,536.26 L467.82,536.57 L468.02,537.82 L468.22,538.22 L468.42,537.68 L468.61,537.15 L468.81,537.25 L469.01,537.90 L469.21,538.51 L469.40,538.92 L469.60,539.26 L469.80,538.96 L470.00,538.23 L470.19,538.19 L470.39,538.59 L470.59,538.33 L470.79,537.97 L470.98,538.29 L471.18,538.57 L471.38,538.44 L471.58,538.44 L471.77,538.70 L471.97,538.95 L472.17,538.96 L472.37,538.91 L472.56,538.77 L472.76,538.40 L472.96,538.25 L473.16,538.15 L473.35,537.94 L473.55,537.98 L473.75,538.26 L473.95,538.67 L474.14,538.64 L474.34,538.45 L474.54,538.94 L474.74,539.39 L474.93,539.30 L475.13,539.01 L475.33,538.72 L475.53,538.70 L475.72,539.18 L475.92,539.51 L476.12,539.07 L476.32,538.75 L476.51,538.98 L476.71,539.11 L476.91,538.87 L477.11,538.80 L477.30,539.35 L477.50,539.88 L477.70,539.84 L477.90,539.89 L478.09,539.99 L478.29,539.76 L478.49,539.68 L478.69,539.61 L478.88,539.60 L479.08,539.51 L479.28,539.33 L479.48,539.66 L479.67,539.83 L479.87,539.46 L480.07,539.26 L480.27,539.52 L480.46,539.66 L480.66,539.32 L480.86,538.91 L481.06,538.84 L481.25,539.22 L481.45,539.55 L481.65,539.86 L481.85,540.04 L482.04,539.65 L482.24,539.50 L482.44,539.88 L482.64,540.13 L482.83,539.87 L483.03,539.51 L483.23,539.52 L483.43,539.64 L483.62,539.71 L483.82,539.72 L484.02,540.00 L484.22,540.22 L484.41,539.71 L484.61,539.61 L484.81,540.02 L485.01,539.92 L485.20,539.85 L485.40,539.99 L485.60,540.13 L485.80,540.23 L485.99,539.76 L486.19,539.58 L486.39,539.99 L486.59,539.82 L486.78,539.45 L486.98,539.71 L487.18,540.15 L487.38,540.22 L487.57,540.03 L487.77,539.88 L487.97,540.03 L488.17,540.18 L488.36,539.97 L488.56,539.89 L488.76,540.00 L488.96,540.32 L489.15,540.56 L489.35,540.49 L489.55,540.42 L489.75,540.16 L489.94,539.73 L490.14,539.57 L490.34,539.84 L490.54,540.14 L490.73,540.05 L490.93,539.65 L491.13,539.54 L491.33,539.82 L491.52,540.04 L491.72,540.05 L491.92,539.76 L492.12,539.95 L492.31,540.49 L492.51,540.26 L492.71,540.30 L492.91,540.54 L493.10,540.11 L493.30,539.77 L493.50,539.90 L493.70,539.77 L493.89,539.24 L494.09,539.28 L494.29,539.31 L494.49,538.87 L494.68,538.72 L494.88,538.65 L495.08,538.91 L495.28,539.21 L495.47,538.88 L495.67,538.85 L495.87,538.90 L496.07,538.91 L496.26,539.19 L496.46,539.12 L496.66,539.02 L496.86,539.15 L497.05,539.45 L497.25,539.93 L497.45,540.12 L497.65,539.85 L497.84,538.96 L498.04,538.29 L498.24,538.84 L498.44,539.42 L498.63,539.30 L498.83,539.03 L499.03,539.22 L499.23,539.48 L499.42,539.31 L499.62,539.21 L499.82,539.56 L500.02,540.21 L500.21,540.24 L500.41,539.97 L500.61,540.09 L500.81,539.88 L501.00,539.66 L501.20,539.74 L501.40,539.75 L501.60,539.74 L501.79,539.84 L501.99,540.00 L502.19,539.59 L502.39,538.94 L502.58,539.08 L502.78,539.47 L502.98,539.73 L503.18,539.90 L503.37,539.83 L503.57,539.64 L503.77,539.60 L503.97,540.13 L504.16,540.52 L504.36,540.01 L504.56,539.13 L504.76,538.61 L504.95,538.99 L505.15,539.58 L505.35,539.68 L505.55,539.60 L505.74,539.53 L505.94,539.67 L506.14,539.63 L506.34,539.15 L506.53,538.95 L506.73,538.99 L506.93,538.65 L507.13,538.36 L507.32,538.71 L507.52,538.92 L507.72,538.97 L507.92,539.14 L508.11,539.02 L508.31,539.10 L508.51,539.19 L508.71,538.72 L508.90,538.52 L509.10,538.78 L509.30,538.78 L509.50,539.03 L509.69,539.37 L509.89,539.31 L510.09,539.67 L510.29,540.09 L510.48,540.07 L510.68,539.86 L510.88,539.73 L511.08,539.65 L511.27,539.43 L511.47,539.63 L511.67,540.09 L511.87,540.10 L512.06,540.11 L512.26,540.58 L512.46,540.70 L512.66,540.10 L512.85,539.49 L513.05,539.35 L513.25,539.43 L513.45,539.73 L513.64,540.00 L513.84,539.94 L514.04,539.72 L514.24,539.32 L514.43,539.24 L514.63,539.35 L514.83,539.29 L515.03,539.31 L515.22,539.38 L515.42,539.53 L515.62,539.91 L515.82,540.02 L516.01,539.50 L516.21,538.99 L516.41,539.09 L516.61,539.33 L516.80,539.36 L517.00,539.37 L517.20,539.37 L517.40,539.39 L517.59,539.03 L517.79,538.55 L517.99,538.53 L518.19,538.82 L518.38,539.35 L518.58,539.58 L518.78,539.33 L518.98,539.20 L519.17,539.19 L519.37,539.19 L519.57,539.19 L519.77,538.93 L519.96,539.05 L520.16,539.43 L520.36,539.34 L520.56,539.12 L520.75,539.07 L520.95,539.18 L521.15,539.10 L521.35,539.35 L521.54,540.09 L521.74,540.01 L521.94,539.35 L522.14,538.98 L522.33,538.80 L522.53,539.08 L522.73,539.39 L522.93,539.31 L523.12,539.33 L523.32,539.39 L523.52,539.30 L523.72,539.36 L523.91,539.71 L524.11,540.04 L524.31,539.70 L524.51,539.05 L524.70,539.28 L524.90,539.70 L525.10,539.65 L525.30,539.47 L525.49,539.14 L525.69,538.82 L525.89,538.74 L526.09,538.85 L526.28,538.98 L526.48,538.76 L526.68,538.49 L526.88,538.60 L527.07,539.02 L527.27,539.28 L527.47,538.93 L527.67,538.50 L527.86,538.82 L528.06,539.41 L528.26,539.19 L528.46,538.77 L528.65,538.77 L528.85,538.76 L529.05,538.47 L529.25,538.21 L529.44,538.29 L529.64,538.39 L529.84,538.36 L530.04,538.26 L530.23,538.19 L530.43,538.46 L530.63,538.36 L530.83,537.89 L531.02,537.92 L531.22,537.87 L531.42,537.58 L531.62,537.26 L531.81,536.83 L532.01,536.39 L532.21,536.12 L532.41,535.64 L532.60,534.47 L532.80,533.38 L533.00,532.79 L533.20,532.26 L533.39,531.29 L533.59,529.39 L533.79,526.93 L533.99,523.74 L534.18,519.09 L534.38,513.12 L534.58,505.63 L534.78,496.44 L534.97,485.32 L535.17,472.85 L535.37,461.33 L535.57,453.90 L535.76,450.44 L535.96,457.24 L536.16,466.70 L536.36,478.54 L536.55,489.44 L536.75,499.78 L536.95,509.33 L537.15,516.53 L537.34,521.66 L537.54,525.32 L537.74,527.85 L537.94,530.37 L538.13,532.39 L538.33,533.21 L538.53,534.01 L538.73,534.74 L538.92,535.05 L539.12,535.20 L539.32,535.18 L539.52,535.13 L539.71,535.40 L539.91,535.93 L540.11,536.19 L540.31,535.84 L540.50,535.16 L540.70,534.45 L540.90,534.26 L541.10,534.45 L541.29,533.90 L541.49,532.88 L541.69,531.57 L541.89,529.60 L542.08,527.09 L542.28,523.90 L542.48,519.62 L542.68,514.09 L542.87,507.91 L543.07,502.76 L543.27,499.96 L543.47,498.11 L543.66,500.57 L543.86,504.21 L544.06,509.16 L544.26,514.89 L544.45,520.29 L544.65,524.75 L544.85,527.98 L545.05,530.00 L545.24,531.79 L545.44,533.57 L545.64,535.03 L545.84,536.26 L546.03,536.89 L546.23,537.03 L546.43,537.11 L546.63,537.06 L546.82,537.46 L547.02,537.99 L547.22,538.10 L547.42,537.96 L547.61,537.65 L547.81,537.75 L548.01,538.11 L548.21,538.23 L548.40,538.24 L548.60,538.33 L548.80,538.35 L549.00,538.14 L549.19,538.06 L549.39,538.17 L549.59,538.30 L549.79,538.49 L549.98,538.25 L550.18,537.89 L550.38,538.51 L550.58,538.89 L550.77,538.45 L550.97,538.49 L551.17,539.17 L551.37,539.68 L551.56,539.67 L551.76,539.50 L551.96,539.30 L552.16,538.93 L552.35,538.51 L552.55,538.57 L552.75,538.90 L552.95,538.78 L553.14,538.47 L553.34,538.53 L553.54,539.01 L553.74,539.23 L553.93,538.83 L554.13,538.75 L554.33,538.92 L554.53,538.59 L554.72,538.62 L554.92,539.43 L555.12,539.97 L555.32,539.86 L555.51,539.54 L555.71,539.57 L555.91,539.49 L556.11,538.67 L556.30,538.57 L556.50,539.63 L556.70,540.18 L556.90,539.83 L557.09,539.34 L557.29,539.13 L557.49,539.34 L557.69,539.96 L557.88,540.25 L558.08,539.76 L558.28,539.46 L558.48,539.64 L558.67,539.61 L558.87,539.58 L559.07,539.80 L559.27,539.86 L559.46,539.78 L559.66,539.63 L559.86,539.37 L560.06,539.39 L560.25,539.47 L560.45,539.45 L560.65,539.39 L560.85,539.30 L561.04,539.37 L561.24,539.78 L561.44,540.04 L561.64,539.82 L561.83,539.85 L562.03,540.10 L562.23,540.19 L562.43,540.12 L562.62,539.83 L562.82,539.65 L563.02,539.23 L563.22,538.76 L563.41,539.02 L563.61,539.24 L563.81,539.21 L564.01,539.43 L564.20,539.43 L564.40,539.04 L564.60,539.32 L564.80,540.00 L564.99,539.79 L565.19,539.46 L565.39,539.27 L565.59,539.02 L565.78,539.04 L565.98,539.06 L566.18,539.20 L566.38,539.17 L566.57,539.00 L566.77,539.15 L566.97,539.30 L567.17,539.45 L567.36,539.30 L567.56,538.85 L567.76,538.94 L567.96,539.50 L568.15,539.30 L568.35,538.79 L568.55,539.28 L568.75,539.69 L568.94,539.62 L569.14,539.82 L569.34,539.79 L569.54,539.43 L569.73,539.45 L569.93,539.59 L570.13,539.56 L570.33,539.78 L570.52,539.98 L570.72,539.96 L570.92,539.87 L571.12,539.68 L571.31,539.74 L571.51,539.89 L571.71,539.81 L571.91,539.82 L572.10,539.81 L572.30,539.47 L572.50,539.13 L572.70,538.99 L572.89,538.75 L573.09,538.73 L573.29,539.20 L573.49,539.61 L573.68,539.59 L573.88,539.24 L574.08,538.82 L574.28,538.94 L574.47,539.33 L574.67,539.08 L574.87,538.52 L575.07,538.42 L575.26,538.87 L575.46,539.45 L575.66,539.80 L575.86,539.85 L576.05,539.84 L576.25,539.86 L576.45,539.92 L576.65,539.90 L576.84,539.54 L577.04,539.16 L577.24,539.11 L577.44,539.14 L577.63,538.92 L577.83,539.11 L578.03,539.64 L578.23,539.78 L578.42,539.83 L578.62,539.73 L578.82,539.41 L579.02,539.13 L579.21,538.66 L579.41,538.53 L579.61,539.02 L579.81,539.43 L580.00,539.50 L580.20,539.38 L580.40,539.38 L580.60,539.45 L580.79,539.34 L580.99,539.14 L581.19,538.78 L581.39,538.38 L581.58,538.42 L581.78,538.99 L581.98,539.58 L582.18,539.60 L582.37,539.39 L582.57,539.55 L582.77,539.61 L582.97,539.42 L583.16,539.24 L583.36,538.76 L583.56,538.56 L583.76,539.00 L583.95,539.49 L584.15,539.76 L584.35,539.70 L584.55,539.79 L584.74,540.16 L584.94,539.96 L585.14,539.56 L585.34,539.94 L585.53,540.13 L585.73,539.73 L585.93,539.51 L586.13,539.54 L586.32,539.77 L586.52,539.87 L586.72,539.64 L586.92,539.80 L587.11,539.89 L587.31,539.50 L587.51,539.39 L587.71,539.58 L587.90,539.97 L588.10,540.08 L588.30,539.82 L588.50,539.47 L588.69,539.32 L588.89,539.51 L589.09,539.48 L589.29,539.29 L589.48,539.00 L589.68,538.90 L589.88,538.69 L590.08,538.26 L590.27,538.28 L590.47,538.56 L590.67,538.87 L590.87,538.81 L591.06,538.55 L591.26,538.57 L591.46,538.77 L591.66,539.30 L591.85,539.66 L592.05,539.32 L592.25,538.97 L592.45,538.67 L592.64,538.07 L592.84,537.77 L593.04,537.99 L593.24,538.16 L593.43,538.21 L593.63,538.29 L593.83,538.48 L594.03,538.80 L594.22,538.92 L594.42,538.61 L594.62,538.32 L594.82,538.36 L595.01,538.76 L595.21,539.31 L595.41,539.33 L595.61,539.11 L595.80,539.38 L596.00,540.01 L596.20,540.48 L596.40,540.42 L596.59,539.60 L596.79,538.89 L596.99,539.30 L597.19,539.77 L597.38,539.60 L597.58,539.46 L597.78,539.47 L597.98,539.65 L598.17,539.82 L598.37,539.50 L598.57,539.06 L598.77,538.84 L598.96,538.94 L599.16,539.13 L599.36,538.98 L599.56,538.92 L599.75,538.84 L599.95,538.68 L600.15,538.82 L600.35,538.80 L600.54,538.57 L600.74,538.42 L600.94,538.24 L601.14,538.13 L601.33,538.37 L601.53,538.32 L601.73,537.97 L601.93,538.21 L602.12,538.63 L602.32,539.12 L602.52,539.53 L602.72,539.26 L602.91,538.80 L603.11,538.67 L603.31,538.67 L603.51,538.52 L603.70,538.37 L603.90,538.49 L604.10,538.74 L604.30,538.87 L604.49,538.99 L604.69,538.82 L604.89,538.56 L605.09,538.73 L605.28,538.63 L605.48,538.61 L605.68,538.72 L605.88,538.29 L606.07,538.01 L606.27,538.00 L606.47,538.18 L606.67,538.30 L606.86,537.95 L607.06,537.58 L607.26,537.40 L607.46,537.74 L607.65,538.05 L607.85,537.62 L608.05,537.32 L608.25,537.42 L608.44,537.67 L608.64,537.85 L608.84,537.76 L609.04,537.31 L609.23,536.88 L609.43,537.38 L609.63,537.91 L609.83,537.50 L610.02,537.13 L610.22,537.73 L610.42,538.00 L610.62,537.32 L610.81,537.24 L611.01,537.50 L611.21,537.52 L611.41,537.87 L611.60,537.84 L611.80,537.41 L612.00,537.28 L612.20,537.15 L612.39,536.88 L612.59,536.65 L612.79,536.89 L612.99,537.05 L613.18,536.51 L613.38,536.00 L613.58,535.63 L613.78,535.19 L613.97,534.88 L614.17,535.18 L614.37,535.37 L614.57,534.52 L614.76,533.61 L614.96,533.19 L615.16,532.32 L615.36,531.08 L615.55,530.00 L615.75,528.61 L615.95,527.19 L616.15,525.41 L616.34,522.01 L616.54,516.85 L616.74,510.42 L616.94,502.72 L617.13,492.69 L617.33,479.53 L617.53,464.16 L617.73,447.81 L617.92,430.77 L618.12,416.58 L618.32,412.10 L618.52,414.91 L618.71,424.13 L618.91,437.75 L619.11,454.65 L619.31,471.82 L619.50,486.91 L619.70,498.64 L619.90,507.06 L620.10,513.89 L620.29,519.59 L620.49,523.23 L620.69,525.70 L620.89,528.08 L621.08,529.38 L621.28,529.60 L621.48,529.92 L621.68,530.41 L621.87,530.63 L622.07,530.84 L622.27,531.50 L622.47,531.87 L622.66,531.53 L622.86,531.55 L623.06,532.25 L623.26,532.79 L623.45,533.08 L623.65,533.32 L623.85,533.33 L624.05,533.12 L624.24,532.04 L624.44,530.62 L624.64,529.31 L624.84,527.58 L625.03,525.59 L625.23,522.83 L625.43,518.71 L625.63,513.43 L625.82,507.06 L626.02,499.56 L626.22,492.34 L626.42,487.32 L626.61,484.30 L626.81,483.54 L627.01,485.48 L627.21,491.49 L627.40,498.64 L627.60,505.28 L627.80,512.20 L628.00,518.44 L628.19,522.13 L628.39,525.11 L628.59,528.23 L628.79,530.52 L628.98,531.86 L629.18,533.07 L629.38,534.19 L629.58,534.58 L629.77,534.75 L629.97,534.98 L630.17,535.49 L630.37,536.13 L630.56,536.32 L630.76,536.37 L630.96,536.52 L631.16,536.78 L631.35,537.29 L631.55,537.64 L631.75,537.74 L631.95,537.89 L632.14,537.76 L632.34,537.72 L632.54,538.19 L632.74,538.19 L632.93,537.84 L633.13,537.95 L633.33,538.26 L633.53,538.60 L633.72,538.69 L633.92,538.24 L634.12,537.80 L634.32,538.24 L634.51,538.77 L634.71,538.45 L634.91,538.08 L635.11,538.38 L635.30,538.82 L635.50,538.44 L635.70,538.06 L635.90,538.40 L636.09,538.57 L636.29,538.72 L636.49,538.83 L636.69,538.40 L636.88,537.79 L637.08,537.80 L637.28,538.29 L637.48,538.53 L637.67,538.78 L637.87,538.83 L638.07,538.13 L638.27,537.53 L638.46,537.73 L638.66,538.09 L638.86,537.93 L639.06,537.98 L639.25,538.40 L639.45,538.59 L639.65,538.57 L639.85,538.24 L640.04,538.11 L640.24,538.73 L640.44,538.93 L640.64,538.52 L640.83,538.77 L641.03,539.35 L641.23,539.38 L641.43,539.21 L641.62,539.02 L641.82,538.65 L642.02,538.51 L642.22,538.71 L642.41,538.92 L642.61,538.88 L642.81,538.44 L643.01,538.31 L643.20,538.77 L643.40,538.72 L643.60,538.12 L643.80,538.27 L643.99,539.04 L644.19,539.29 L644.39,538.75 L644.59,538.34 L644.78,538.55 L644.98,538.71 L645.18,538.55 L645.38,538.13 L645.57,538.13 L645.77,538.64 L645.97,538.74 L646.17,538.66 L646.36,538.89 L646.56,538.88 L646.76,538.55 L646.96,538.45 L647.15,538.37 L647.35,538.43 L647.55,538.82 L647.75,539.05 L647.94,539.23 L648.14,539.27 L648.34,539.21 L648.54,539.49 L648.73,539.50 L648.93,538.98 L649.13,539.06 L649.33,539.70 L649.52,539.79 L649.72,539.12 L649.92,538.45 L650.12,538.13 L650.31,538.15 L650.51,538.30 L650.71,538.43 L650.91,538.57 L651.10,538.20 L651.30,537.89 L651.50,538.09 L651.70,538.11 L651.89,537.94 L652.09,537.70 L652.29,537.70 L652.49,537.93 L652.68,538.02 L652.88,538.39 L653.08,538.68 L653.28,538.59 L653.47,538.54 L653.67,538.48 L653.87,538.38 L654.07,538.11 L654.26,537.86 L654.46,538.19 L654.66,538.57 L654.86,538.47 L655.05,538.45 L655.25,538.77 L655.45,539.10 L655.65,538.98 L655.84,538.54 L656.04,538.23 L656.24,538.29 L656.44,538.38 L656.63,538.40 L656.83,538.49 L657.03,538.25 L657.23,537.87 L657.42,537.79 L657.62,538.05 L657.82,538.48 L658.02,538.80 L658.21,538.86 L658.41,538.75 L658.61,539.06 L658.81,539.46 L659.00,539.30 L659.20,539.38 L659.40,539.90 L659.60,539.71 L659.79,539.06 L659.99,538.99 L660.19,539.36 L660.39,539.33 L660.58,538.67 L660.78,538.35 L660.98,538.69 L661.18,538.92 L661.37,538.51 L661.57,538.22 L661.77,538.45 L661.97,538.59 L662.16,538.43 L662.36,538.24 L662.56,538.32 L662.76,538.63 L662.95,539.02 L663.15,538.91 L663.35,538.16 L663.55,537.77 L663.74,537.87 L663.94,538.17 L664.14,538.67 L664.34,538.83 L664.53,538.80 L664.73,538.71 L664.93,538.76 L665.13,539.29 L665.32,539.51 L665.52,539.40 L665.72,539.25 L665.92,539.24 L666.11,539.34 L666.31,538.83 L666.51,538.46 L666.71,538.42 L666.90,537.97 L667.10,537.75 L667.30,538.04 L667.50,538.13 L667.69,538.02 L667.89,538.08 L668.09,538.30 L668.29,538.26 L668.48,538.04 L668.68,537.95 L668.88,537.73 L669.08,537.78 L669.27,538.09 L669.47,538.13 L669.67,538.19 L669.87,538.16 L670.06,538.04 L670.26,538.18 L670.46,538.63 L670.66,538.88 L670.85,538.77 L671.05,538.85 L671.25,538.55 L671.45,537.81 L671.64,537.78 L671.84,538.49 L672.04,538.81 L672.24,538.57 L672.43,538.46 L672.63,538.62 L672.83,538.66 L673.03,538.15 L673.22,538.12 L673.42,538.82 L673.62,539.03 L673.82,538.67 L674.01,538.58 L674.21,538.77 L674.41,538.52 L674.61,538.34 L674.80,538.29 L675.00,538.29 L675.20,538.76 L675.40,538.92 L675.59,538.53 L675.79,538.27 L675.99,538.56 L676.19,538.81 L676.38,538.79 L676.58,539.05 L676.78,539.31 L676.98,539.24 L677.17,538.75 L677.37,538.56 L677.57,539.12 L677.77,539.31 L677.96,539.20 L678.16,538.96 L678.36,538.48 L678.56,538.35 L678.75,538.55 L678.95,538.84 L679.15,538.85 L679.35,538.57 L679.54,538.53 L679.74,538.46 L679.94,538.36 L680.14,538.62 L680.33,538.51 L680.53,538.12 L680.73,538.05 L680.93,538.19 L681.12,538.32 L681.32,538.32 L681.52,538.25 L681.72,537.98 L681.91,537.93 L682.11,537.99 L682.31,537.94 L682.51,538.31 L682.70,538.47 L682.90,538.18 L683.10,538.10 L683.30,538.19 L683.49,538.24 L683.69,538.40 L683.89,538.89 L684.09,539.32 L684.28,539.10 L684.48,538.87 L684.68,539.29 L684.88,539.55 L685.07,539.13 L685.27,538.51 L685.47,538.33 L685.67,538.35 L685.86,538.04 L686.06,537.71 L686.26,537.45 L686.46,537.53 L686.65,537.81 L686.85,537.73 L687.05,537.52 L687.25,537.33 L687.44,537.25 L687.64,537.15 L687.84,536.98 L688.04,536.88 L688.23,536.79 L688.43,536.84 L688.63,536.75 L688.83,536.38 L689.02,536.09 L689.22,536.04 L689.42,536.27 L689.62,536.54 L689.81,536.55 L690.01,536.81 L690.21,537.33 L690.41,537.08 L690.60,536.48 L690.80,537.05 L691.00,537.79 L691.20,537.40 L691.39,537.16 L691.59,537.03 L691.79,536.35 L691.99,536.19 L692.18,536.56 L692.38,536.73 L692.58,536.52 L692.78,536.25 L692.97,536.35 L693.17,536.51 L693.37,536.31 L693.57,536.08 L693.76,536.16 L693.96,536.27 L694.16,536.06 L694.36,535.85 L694.55,535.77 L694.75,535.94 L694.95,536.02 L695.15,535.49 L695.34,535.38 L695.54,535.73 L695.74,535.64 L695.94,535.46 L696.13,535.04 L696.33,534.40 L696.53,533.88 L696.73,533.57 L696.92,533.90 L697.12,534.14 L697.32,534.08 L697.52,533.73 L697.71,532.69 L697.91,532.12 L698.11,531.99 L698.31,531.84 L698.50,531.68 L698.70,531.25 L698.90,530.78 L699.10,530.06 L699.29,529.31 L699.49,528.39 L699.69,527.20 L699.89,526.24 L700.08,525.01 L700.28,523.78 L700.48,522.06 L700.68,519.11 L700.87,515.81 L701.07,511.85 L701.27,506.45 L701.47,498.90 L701.66,488.65 L701.86,475.42 L702.06,457.75 L702.26,436.32 L702.45,411.99 L702.65,383.21 L702.85,351.89 L703.05,322.34 L703.24,298.19 L703.44,283.40 L703.64,284.96 L703.84,302.10 L704.03,328.79 L704.23,357.69 L704.43,387.46 L704.63,416.71 L704.82,442.16 L705.02,461.60 L705.22,475.77 L705.42,487.78 L705.61,498.30 L705.81,505.75 L706.01,510.38 L706.21,513.82 L706.40,516.78 L706.60,519.44 L706.80,521.40 L707.00,522.71 L707.19,523.92 L707.39,524.96 L707.59,525.69 L707.79,526.65 L707.98,527.34 L708.18,527.35 L708.38,527.93 L708.58,528.66 L708.77,528.36 L708.97,527.83 L709.17,527.21 L709.37,526.63 L709.56,526.61 L709.76,526.37 L709.96,525.69 L710.16,524.10 L710.35,521.28 L710.55,517.73 L710.75,513.11 L710.95,506.90 L711.14,499.09 L711.34,489.97 L711.54,479.32 L711.74,467.15 L711.93,454.11 L712.13,440.96 L712.33,430.74 L712.53,425.24 L712.72,430.28 L712.92,435.30 L713.12,444.24 L713.32,458.61 L713.51,473.17 L713.71,484.86 L713.91,494.89 L714.11,503.98 L714.30,511.73 L714.50,517.54 L714.70,521.60 L714.90,524.49 L715.09,526.12 L715.29,527.19 L715.49,528.78 L715.69,530.57 L715.88,531.89 L716.08,532.45 L716.28,532.41 L716.48,532.48 L716.67,532.85 L716.87,533.56 L717.07,534.55 L717.27,534.81 L717.46,534.49 L717.66,534.42 L717.86,534.70 L718.06,535.56 L718.25,536.02 L718.45,535.78 L718.65,535.46 L718.85,535.47 L719.04,535.74 L719.24,535.98 L719.44,536.38 L719.64,536.65 L719.83,536.77 L720.03,536.81 L720.23,536.72 L720.43,536.11 L720.62,535.88 L720.82,536.82 L721.02,537.20 L721.22,536.98 L721.41,536.94 L721.61,537.09 L721.81,537.43 L722.01,537.54 L722.20,537.52 L722.40,537.37 L722.60,537.28 L722.80,537.43 L722.99,537.79 L723.19,538.10 L723.39,537.73 L723.59,537.16 L723.78,536.98 L723.98,537.10 L724.18,537.26 L724.38,536.95 L724.57,537.06 L724.77,537.63 L724.97,537.18 L725.17,536.79 L725.36,537.15 L725.56,537.22 L725.76,537.16 L725.96,537.27 L726.15,537.60 L726.35,537.86 L726.55,537.81 L726.75,537.79 L726.94,537.91 L727.14,537.75 L727.34,537.49 L727.54,537.81 L727.73,538.22 L727.93,538.06 L728.13,538.03 L728.33,538.25 L728.52,537.85 L728.72,537.35 L728.92,537.45 L729.12,537.98 L729.31,538.25 L729.51,538.07 L729.71,537.81 L729.91,537.70 L730.10,538.00 L730.30,538.47 L730.50,538.65 L730.70,538.40 L730.89,537.97 L731.09,537.74 L731.29,537.69 L731.49,537.48 L731.68,537.61 L731.88,538.26 L732.08,538.60 L732.28,538.46 L732.47,538.38 L732.67,538.30 L732.87,537.98 L733.07,537.73 L733.26,537.74 L733.46,538.07 L733.66,538.33 L733.86,538.40 L734.05,538.54 L734.25,538.57 L734.45,538.42 L734.65,538.55 L734.84,538.87 L735.04,538.38 L735.24,537.97 L735.44,538.15 L735.63,538.17 L735.83,537.98 L736.03,537.62 L736.23,537.60 L736.42,537.81 L736.62,537.94 L736.82,538.25 L737.02,538.32 L737.21,538.46 L737.41,538.76 L737.61,538.74 L737.81,538.62 L738.00,538.61 L738.20,539.03 L738.40,539.47 L738.60,539.27 L738.79,538.78 L738.99,538.49 L739.19,538.58 L739.39,538.65 L739.58,538.54 L739.78,538.63 L739.98,538.54 L740.18,538.29 L740.37,538.69 L740.57,538.97 L740.77,538.58 L740.97,538.48 L741.16,538.48 L741.36,538.36 L741.56,538.53 L741.76,538.55 L741.95,538.20 L742.15,538.24 L742.35,538.90 L742.55,538.96 L742.74,538.53 L742.94,538.49 L743.14,538.82 L743.34,538.76 L743.53,538.41 L743.73,538.47 L743.93,538.50 L744.13,538.36 L744.32,538.47 L744.52,538.73 L744.72,538.63 L744.92,538.32 L745.11,538.04 L745.31,537.81 L745.51,537.83 L745.71,538.01 L745.90,538.03 L746.10,538.05 L746.30,538.38 L746.50,538.77 L746.69,539.10 L746.89,538.97 L747.09,538.56 L747.29,538.86 L747.48,539.30 L747.68,539.10 L747.88,539.04 L748.08,539.12 L748.27,538.89 L748.47,538.79 L748.67,538.62 L748.87,538.49 L749.06,538.53 L749.26,538.42 L749.46,538.54 L749.66,538.49 L749.85,538.16 L750.05,538.31 L750.25,538.62 L750.45,538.60 L750.64,538.69 L750.84,538.82 L751.04,538.54 L751.24,538.61 L751.43,539.02 L751.63,538.84 L751.83,538.56 L752.03,538.41 L752.22,538.17 L752.42,538.38 L752.62,538.82 L752.82,539.00 L753.01,538.67 L753.21,538.21 L753.41,537.93 L753.61,537.86 L753.80,537.62 L754.00,537.12 L754.20,537.35 L754.40,537.82 L754.59,538.21 L754.79,538.70 L754.99,538.30 L755.19,537.77 L755.38,538.01 L755.58,538.33 L755.78,538.40 L755.98,538.19 L756.17,538.18 L756.37,538.22 L756.57,537.90 L756.77,537.71 L756.96,538.23 L757.16,538.78 L757.36,538.53 L757.56,538.43 L757.75,538.88 L757.95,538.98 L758.15,538.60 L758.35,538.28 L758.54,538.20 L758.74,538.15 L758.94,537.89 L759.14,537.76 L759.33,537.78 L759.53,537.81 L759.73,538.16 L759.93,538.41 L760.12,538.04 L760.32,537.38 L760.52,537.52 L760.72,538.51 L760.91,538.88 L761.11,538.67 L761.31,538.62 L761.51,538.70 L761.70,538.49 L761.90,538.37 L762.10,538.68 L762.30,538.52 L762.49,538.06 L762.69,538.41 L762.89,538.74 L763.09,538.46 L763.28,538.60 L763.48,538.84 L763.68,538.93 L763.88,539.09 L764.07,538.99 L764.27,538.85 L764.47,539.14 L764.67,539.39 L764.86,539.17 L765.06,539.19 L765.26,539.27 L765.46,538.93 L765.65,538.71 L765.85,538.36 L766.05,538.04 L766.25,538.13 L766.44,538.28 L766.64,538.47 L766.84,538.77 L767.04,538.83 L767.23,538.50 L767.43,538.56 L767.63,538.73 L767.83,538.02 L768.02,537.43 L768.22,537.46 L768.42,537.62 L768.62,538.05 L768.81,538.33 L769.01,538.19 L769.21,538.28 L769.41,538.25 L769.60,537.86 L769.80,537.90 L770.00,538.14 L770.20,538.05 L770.39,537.91 L770.59,537.59 L770.79,537.52 L770.99,538.11 L771.18,538.23 L771.38,537.42 L771.58,537.20 L771.78,537.98 L771.97,538.55 L772.17,538.51 L772.37,538.19 L772.57,538.03 L772.76,537.96 L772.96,537.93 L773.16,538.22 L773.36,538.48 L773.55,538.24 L773.75,537.60 L773.95,537.25 L774.15,537.53 L774.34,537.78 L774.54,537.59 L774.74,537.49 L774.94,537.52 L775.13,537.60 L775.33,537.83 L775.53,538.09 L775.73,538.30 L775.92,538.15 L776.12,538.03 L776.32,538.08 L776.52,537.69 L776.71,537.46 L776.91,537.92 L777.11,538.36 L777.31,538.31 L777.50,537.83 L777.70,537.51 L777.90,537.81 L778.10,538.30 L778.29,538.49 L778.49,538.18 L778.69,538.02 L778.89,538.21 L779.08,538.32 L779.28,538.22 L779.48,537.78 L779.68,537.49 L779.87,537.61 L780.07,537.71 L780.27,537.85 L780.47,538.05 L780.66,538.03 L780.86,537.76 L781.06,537.46 L781.26,537.17 L781.45,536.84 L781.65,536.60 L781.85,536.47 L782.05,536.69 L782.24,537.02 L782.44,537.31 L782.64,537.27 L782.84,536.86 L783.03,537.00 L783.23,536.92 L783.43,536.63 L783.63,537.06 L783.82,537.24 L784.02,537.05 L784.22,536.98 L784.42,536.79 L784.61,536.53 L784.81,536.45 L785.01,536.44 L785.21,536.39 L785.40,536.35 L785.60,536.01 L785.80,536.00 L786.00,536.42 L786.19,536.13 L786.39,535.87 L786.59,536.39 L786.79,536.27 L786.98,535.24 L787.18,534.46 L787.38,533.95 L787.58,533.63 L787.77,533.46 L787.97,533.09 L788.17,532.71 L788.37,532.37 L788.56,531.50 L788.76,530.30 L788.96,529.19 L789.16,527.73 L789.35,525.92 L789.55,523.72 L789.75,520.25 L789.95,515.50 L790.14,509.78 L790.34,502.77 L790.54,493.94 L790.74,482.52 L790.93,469.78 L791.13,457.22 L791.33,443.90 L791.53,430.32 L791.72,420.31 L791.92,415.53 L792.12,418.35 L792.32,425.25 L792.51,437.18 L792.71,450.82 L792.91,463.92 L793.11,476.96 L793.30,488.43 L793.50,497.58 L793.70,505.28 L793.90,511.57 L794.09,516.63 L794.29,520.10 L794.49,522.52 L794.69,524.82 L794.88,526.66 L795.08,527.92 L795.28,528.99 L795.48,529.99 L795.67,530.83 L795.87,531.23 L796.07,531.58 L796.27,532.29 L796.46,532.83 L796.66,533.16 L796.86,533.03 L797.06,533.05 L797.25,533.34 L797.45,533.28 L797.65,533.67 L797.85,533.81 L798.04,533.53 L798.24,533.28 L798.44,532.65 L798.64,532.66 L798.83,533.15 L799.03,532.52 L799.23,531.03 L799.43,529.67 L799.62,528.48 L799.82,526.44 L800.02,523.68 L800.22,520.65 L800.41,516.92 L800.61,512.19 L800.81,505.95 L801.01,499.93 L801.20,495.50 L801.40,491.09 L801.60,485.81 L801.80,482.32 L801.99,482.13 L802.19,485.37 L802.39,491.17 L802.59,497.43 L802.78,502.79 L802.98,508.21 L803.18,514.03 L803.38,518.96 L803.57,522.37 L803.77,525.14 L803.97,527.56 L804.17,529.68 L804.36,531.29 L804.56,532.68 L804.76,533.81 L804.96,533.84 L805.15,533.73 L805.35,534.48 L805.55,535.51 L805.75,535.78 L805.94,535.50 L806.14,535.77 L806.34,536.07 L806.54,536.15 L806.73,536.35 L806.93,536.16 L807.13,536.01 L807.33,536.09 L807.52,535.95 L807.72,536.10 L807.92,536.29 L808.12,536.14 L808.31,536.05 L808.51,536.11 L808.71,536.43 L808.91,536.54 L809.10,536.34 L809.30,536.68 L809.50,536.93 L809.70,536.59 L809.89,536.55 L810.09,536.80 L810.29,536.82 L810.49,536.47 L810.68,536.31 L810.88,536.87 L811.08,537.41 L811.28,537.21 L811.47,536.89 L811.67,537.01 L811.87,537.04 L812.07,536.71 L812.26,536.64 L812.46,536.86 L812.66,537.00 L812.86,537.20 L813.05,537.29 L813.25,537.36 L813.45,537.38 L813.65,537.11 L813.84,537.06 L814.04,537.19 L814.24,537.11 L814.44,537.19 L814.63,537.49 L814.83,537.67 L815.03,537.46 L815.23,537.37 L815.42,537.76 L815.62,537.63 L815.82,537.42 L816.02,537.81 L816.21,538.02 L816.41,538.07 L816.61,537.80 L816.81,537.19 L817.00,537.22 L817.20,537.55 L817.40,537.36 L817.60,537.10 L817.79,537.19 L817.99,537.23 L818.19,537.13 L818.39,537.31 L818.58,537.36 L818.78,537.35 L818.98,537.51 L819.18,537.63 L819.37,537.37 L819.57,537.08 L819.77,537.45 L819.97,537.90 L820.16,538.30 L820.36,538.51 L820.56,538.31 L820.76,538.22 L820.95,538.18 L821.15,537.90 L821.35,537.37 L821.55,536.83 L821.74,536.85 L821.94,537.05 L822.14,536.76 L822.34,536.81 L822.53,537.42 L822.73,537.62 L822.93,537.16 L823.13,536.80 L823.32,537.13 L823.52,537.24 L823.72,537.02 L823.92,537.25 L824.11,537.38 L824.31,537.24 L824.51,537.65 L824.71,538.31 L824.90,538.09 L825.10,537.70 L825.30,537.70 L825.50,537.48 L825.69,537.50 L825.89,537.67 L826.09,538.00 L826.29,538.52 L826.48,538.64 L826.68,538.48 L826.88,538.04 L827.08,537.79 L827.27,538.12 L827.47,538.63 L827.67,538.98 L827.87,538.83 L828.06,538.58 L828.26,538.45 L828.46,538.11 L828.66,537.97 L828.85,538.20 L829.05,538.56 L829.25,538.73 L829.45,538.45 L829.64,538.54 L829.84,538.82 L830.04,538.60 L830.24,538.33 L830.43,538.06 L830.63,538.02 L830.83,537.96 L831.03,537.79 L831.22,538.09 L831.42,538.32 L831.62,538.19 L831.82,538.23 L832.01,538.26 L832.21,537.99 L832.41,537.96 L832.61,538.41 L832.80,538.48 L833.00,537.85 L833.20,537.52 L833.40,537.66 L833.59,537.63 L833.79,537.64 L833.99,537.80 L834.19,537.92 L834.38,538.38 L834.58,538.73 L834.78,538.63 L834.98,538.48 L835.17,538.08 L835.37,537.76 L835.57,537.84 L835.77,537.65 L835.96,537.23 L836.16,537.34 L836.36,537.91 L836.56,537.90 L836.75,537.58 L836.95,538.15 L837.15,538.82 L837.35,538.49 L837.54,537.99 L837.74,538.16 L837.94,538.24 L838.14,537.90 L838.33,537.96 L838.53,538.43 L838.73,538.47 L838.93,538.12 L839.12,538.06 L839.32,538.33 L839.52,538.49 L839.72,538.33 L839.91,537.95 L840.11,537.89 L840.31,538.04 L840.51,538.14 L840.70,538.25 L840.90,538.13 L841.10,538.03 L841.30,537.77 L841.49,537.09 L841.69,536.82 L841.89,537.29 L842.09,537.73 L842.28,537.72 L842.48,537.62 L842.68,537.61 L842.88,537.36 L843.07,537.19 L843.27,537.52 L843.47,537.76 L843.67,537.74 L843.86,538.10 L844.06,538.14 L844.26,537.28 L844.46,536.66 L844.65,536.93 L844.85,537.94 L845.05,538.69 L845.25,538.19 L845.44,537.60 L845.64,537.49 L845.84,537.51 L846.04,537.77 L846.23,537.80 L846.43,537.74 L846.63,538.05 L846.83,538.37 L847.02,538.19 L847.22,538.01 L847.42,538.30 L847.62,538.58 L847.81,538.57 L848.01,538.45 L848.21,538.10 L848.41,537.89 L848.60,538.04 L848.80,538.26 L849.00,538.40 L849.20,538.72 L849.39,539.01 L849.59,538.60 L849.79,538.24 L849.99,538.31 L850.18,538.41 L850.38,538.57 L850.58,538.39 L850.78,538.05 L850.97,537.85 L851.17,537.46 L851.37,537.61 L851.57,538.56 L851.76,538.66 L851.96,537.99 L852.16,537.69 L852.36,537.73 L852.55,537.91 L852.75,538.09 L852.95,538.05 L853.15,537.51 L853.34,537.09 L853.54,536.93 L853.74,536.54 L853.94,536.80 L854.13,537.38 L854.33,537.33 L854.53,537.54 L854.73,538.33 L854.92,538.41 L855.12,538.00 L855.32,538.06 L855.52,537.96 L855.71,538.14 L855.91,538.56 L856.11,538.26 L856.31,537.86 L856.50,537.86 L856.70,538.06 L856.90,538.10 L857.10,538.11 L857.29,537.97 L857.49,537.55 L857.69,537.32 L857.89,537.35 L858.08,537.42 L858.28,537.59 L858.48,537.97 L858.68,537.88 L858.87,537.46 L859.07,537.55 L859.27,537.65 L859.47,537.73 L859.66,537.89 L859.86,537.58 L860.06,537.36 L860.26,537.70 L860.45,537.68 L860.65,537.20 L860.85,537.45 L861.05,538.07 L861.24,538.37 L861.44,538.68 L861.64,538.94 L861.84,538.88 L862.03,538.42 L862.23,537.86 L862.43,537.72 L862.63,537.76 L862.82,537.64 L863.02,537.87 L863.22,538.43 L863.42,538.45 L863.61,538.04 L863.81,537.72 L864.01,537.92 L864.21,538.68 L864.40,538.63 L864.60,537.88 L864.80,537.77 L865.00,537.85 L865.19,538.14 L865.39,538.27 L865.59,537.78 L865.79,537.48 L865.98,537.45 L866.18,537.80 L866.38,538.27 L866.58,538.09 L866.77,537.91 L866.97,538.14 L867.17,538.00 L867.37,537.93 L867.56,538.36 L867.76,538.37 L867.96,537.94 L868.16,537.76 L868.35,538.02 L868.55,538.14 L868.75,538.01 L868.95,538.00 L869.14,537.87 L869.34,537.80 L869.54,537.80 L869.74,537.50 L869.93,537.58 L870.13,537.95 L870.33,537.82 L870.53,537.72 L870.72,537.74 L870.92,537.43 L871.12,537.19 L871.32,537.40 L871.51,537.75 L871.71,537.87 L871.91,537.64 L872.11,537.56 L872.30,537.71 L872.50,537.53 L872.70,537.05 L872.90,536.89 L873.09,536.89 L873.29,536.60 L873.49,536.55 L873.69,536.77 L873.88,536.93 L874.08,537.23 L874.28,537.45 L874.48,537.40 L874.67,537.30 L874.87,537.09 L875.07,536.65 L875.27,536.58 L875.46,536.94 L875.66,537.33 L875.86,538.01 L876.06,538.42 L876.25,538.06 L876.45,537.56 L876.65,537.07 L876.85,536.96 L877.04,537.33 L877.24,537.41 L877.44,537.50 L877.64,537.75 L877.83,537.82 L878.03,537.74 L878.23,537.88 L878.43,538.70 L878.62,539.11 L878.82,538.47 L879.02,537.85 L879.22,537.91 L879.41,538.17 L879.61,538.22 L879.81,538.17 L880.01,538.12 L880.20,538.35 L880.40,538.32 L880.60,538.07 L880.80,538.41 L880.99,538.43 L881.19,537.87 L881.39,538.06 L881.59,538.33 L881.78,537.99 L881.98,538.06 L882.18,538.13 L882.38,537.60 L882.57,537.23 L882.77,537.38 L882.97,537.56 L883.17,537.62 L883.36,537.84 L883.56,538.06 L883.76,537.97 L883.96,537.94 L884.15,537.90 L884.35,537.40 L884.55,537.01 L884.75,537.14 L884.94,537.26 L885.14,537.31 L885.34,537.46 L885.54,537.26 L885.73,537.07 L885.93,537.23 L886.13,537.31 L886.33,537.32 L886.52,537.43 L886.72,537.31 L886.92,537.40 L887.12,537.62 L887.31,537.24 L887.51,537.10 L887.71,537.51 L887.91,537.86 L888.10,537.92 L888.30,537.70 L888.50,537.33 L888.70,537.03 L888.89,536.98 L889.09,537.45 L889.29,537.98 L889.49,537.80 L889.68,537.28 L889.88,537.19 L890.08,537.38 L890.28,537.19 L890.47,537.01 L890.67,537.11 L890.87,536.75 L891.07,536.35 L891.26,536.43 L891.46,536.51 L891.66,536.95 L891.86,537.38 L892.05,537.37 L892.25,537.49 L892.45,537.91 L892.65,538.16 L892.84,537.89 L893.04,537.54 L893.24,537.32 L893.44,537.42 L893.63,537.79 L893.83,537.88 L894.03,537.69 L894.23,537.69 L894.42,537.46 L894.62,537.03 L894.82,537.08 L895.02,536.99 L895.21,536.83 L895.41,537.04 L895.61,537.16 L895.81,537.11 L896.00,537.05 L896.20,537.10 L896.40,537.22 L896.60,537.40 L896.79,537.60 L896.99,537.67 L897.19,537.56 L897.39,537.15 L897.58,536.99 L897.78,537.41 L897.98,537.68 L898.18,537.59 L898.37,537.21 L898.57,536.97 L898.77,537.14 L898.97,537.56 L899.16,537.96 L899.36,537.65 L899.56,537.35 L899.76,537.76 L899.95,537.94 L900.15,537.57 L900.35,537.15 L900.55,537.01 L900.74,537.34 L900.94,537.58 L901.14,537.49 L901.34,537.64 L901.53,537.65 L901.73,537.10 L901.93,536.98 L902.13,537.38 L902.32,537.44 L902.52,537.26 L902.72,537.33 L902.92,537.58 L903.11,537.59 L903.31,537.55 L903.51,537.71 L903.71,537.84 L903.90,537.86 L904.10,538.00 L904.30,538.23 L904.50,538.08 L904.69,537.60 L904.89,537.42 L905.09,538.14 L905.29,539.00 L905.48,538.65 L905.68,537.62 L905.88,537.07 L906.08,537.25 L906.27,537.77 L906.47,538.05 L906.67,537.79 L906.87,537.40 L907.06,537.69 L907.26,537.96 L907.46,537.58 L907.66,537.71 L907.85,538.31 L908.05,538.02 L908.25,537.28 L908.45,537.32 L908.64,537.72 L908.84,537.50 L909.04,537.10 L909.24,537.32 L909.43,537.67 L909.63,537.50 L909.83,537.16 L910.03,537.31 L910.22,537.29 L910.42,536.85 L910.62,537.24 L910.82,537.89 L911.01,538.15 L911.21,538.37 L911.41,538.00 L911.61,537.11 L911.80,536.56 L912.00,536.77 L912.20,536.92 L912.40,536.77 L912.59,536.90 L912.79,536.83 L912.99,536.39 L913.19,536.09 L913.38,535.88 L913.58,536.09 L913.78,536.60 L913.98,536.68 L914.17,536.53 L914.37,536.35 L914.57,536.17 L914.77,536.31 L914.96,536.25 L915.16,535.70 L915.36,535.63 L915.56,536.26 L915.75,536.78 L915.95,536.92 L916.15,537.01 L916.35,537.18 L916.54,537.15 L916.74,536.90 L916.94,536.78 L917.14,537.03 L917.33,537.32 L917.53,536.99 L917.73,536.65 L917.93,537.09 L918.12,537.15 L918.32,536.76 L918.52,537.23 L918.72,537.72 L918.91,537.72 L919.11,537.98 L919.31,537.97 L919.51,537.80 L919.70,538.22 L919.90,538.41 L920.10,537.88 L920.30,537.83 L920.49,538.28 L920.69,538.06 L920.89,537.57 L921.09,537.47 L921.28,537.51 L921.48,537.71 L921.68,537.93 L921.88,537.88 L922.07,537.66 L922.27,537.84 L922.47,538.43 L922.67,538.29 L922.86,537.47 L923.06,537.14 L923.26,537.29 L923.46,537.41 L923.65,537.64 L923.85,537.64 L924.05,537.26 L924.25,537.17 L924.44,537.47 L924.64,537.61 L924.84,537.40 L925.04,537.34 L925.23,537.47 L925.43,537.58 L925.63,537.58 L925.83,537.45 L926.02,537.22 L926.22,536.94 L926.42,537.09 L926.62,537.76 L926.81,538.05 L927.01,537.86 L927.21,537.63 L927.41,537.61 L927.60,537.99 L927.80,537.80 L928.00,537.26 L928.20,537.27 L928.39,537.24 L928.59,537.27 L928.79,537.37 L928.99,537.35 L929.18,537.54 L929.38,537.26 L929.58,536.79 L929.78,537.03 L929.97,537.42 L930.17,537.43 L930.37,537.30 L930.57,537.62 L930.76,537.91 L930.96,537.94 L931.16,538.12 L931.36,538.18 L931.55,537.98 L931.75,537.84 L931.95,537.90 L932.15,538.10 L932.34,538.12 L932.54,537.89 L932.74,537.83 L932.94,537.91 L933.13,537.79 L933.33,537.50 L933.53,537.19 L933.73,537.11 L933.92,537.11 L934.12,537.20 L934.32,537.29 L934.52,537.11 L934.71,537.24 L934.91,537.46 L935.11,537.50 L935.31,537.36 L935.50,536.93 L935.70,537.17 L935.90,537.79 L936.10,537.79 L936.29,537.50 L936.49,537.22 L936.69,536.82 L936.89,536.48 L937.08,536.42 L937.28,536.72 L937.48,536.91 L937.68,536.52 L937.87,536.66 L938.07,537.38 L938.27,537.44 L938.47,537.28 L938.66,537.16 L938.86,536.83 L939.06,536.85 L939.26,537.29 L939.45,537.90 L939.65,538.23 L939.85,538.07 L940.05,537.95 L940.24,538.18 L940.44,538.49 L940.64,538.37 L940.84,537.86 L941.03,537.60 L941.23,537.68 L941.43,537.68 L941.63,537.57 L941.82,537.35 L942.02,537.26 L942.22,537.51 L942.42,537.73 L942.61,537.67 L942.81,537.24 L943.01,536.97 L943.21,537.08 L943.40,537.31 L943.60,537.64 L943.80,537.74 L944.00,537.26 L944.19,537.29 L944.39,537.64 L944.59,537.28 L944.79,537.16 L944.98,537.34 L945.18,537.43 L945.38,537.29 L945.58,537.07 L945.77,536.94 L945.97,536.77 L946.17,536.91 L946.37,537.18 L946.56,537.44 L946.76,537.57 L946.96,537.39 L947.16,536.94 L947.35,536.71 L947.55,537.22 L947.75,537.75 L947.95,537.87 L948.14,537.73 L948.34,537.38 L948.54,537.40 L948.74,537.68 L948.93,537.43 L949.13,537.01 L949.33,537.08 L949.53,537.24 L949.72,537.03 L949.92,537.05 L950.12,537.24 L950.32,536.89 L950.51,536.69 L950.71,536.97 L950.91,536.91 L951.11,536.79 L951.30,536.72 L951.50,536.65 L951.70,536.74 L951.90,536.82 L952.09,536.71 L952.29,536.51 L952.49,536.76 L952.69,537.08 L952.88,536.71 L953.08,536.28 L953.28,536.42 L953.48,537.02 L953.67,537.40 L953.87,537.03 L954.07,536.58 L954.27,536.72 L954.46,537.23 L954.66,537.44 L954.86,537.40 L955.06,537.60 L955.25,537.81 L955.45,537.66 L955.65,537.47 L955.85,537.17 L956.04,536.91 L956.24,537.25 L956.44,537.30 L956.64,537.07 L956.83,537.09 L957.03,536.94 L957.23,537.07 L957.43,537.53 L957.62,537.60 L957.82,537.43 L958.02,537.38 L958.22,537.46 L958.41,537.45 L958.61,537.40 L958.81,537.59 L959.01,537.69 L959.20,537.75 L959.40,537.91 L959.60,537.81 L959.80,537.86 L959.99,538.30 L960.19,538.19 L960.39,537.62 L960.59,537.65 L960.78,537.96 L960.98,537.81 L961.18,537.54 L961.38,538.01 L961.57,538.43 L961.77,538.22 L961.97,538.10 L962.17,537.96 L962.36,537.66 L962.56,537.37 L962.76,537.44 L962.96,537.44 L963.15,536.74 L963.35,536.47 L963.55,536.90 L963.75,536.92 L963.94,536.80 L964.14,537.06 L964.34,537.43 L964.54,537.18 L964.73,536.56 L964.93,536.62 L965.13,536.61 L965.33,536.07 L965.52,535.94 L965.72,536.42 L965.92,536.88 L966.12,536.67 L966.31,536.67 L966.51,537.51 L966.71,537.86 L966.91,537.38 L967.10,536.92 L967.30,536.89 L967.50,536.99 L967.70,537.04 L967.89,536.90 L968.09,536.16 L968.29,535.66 L968.49,536.01 L968.68,536.37 L968.88,536.36 L969.08,536.14 L969.28,536.18 L969.47,536.41 L969.67,536.58 L969.87,536.71 L970.07,536.74 L970.26,536.89 L970.46,536.59 L970.66,535.93 L970.86,535.82 L971.05,535.97 L971.25,536.35 L971.45,536.80 L971.65,536.80 L971.84,536.85 L972.04,536.84 L972.24,536.56 L972.44,536.35 L972.63,536.28 L972.83,536.30 L973.03,536.32 L973.23,536.05 L973.42,535.43 L973.62,535.06 L973.82,535.40 L974.02,535.83 L974.21,535.71 L974.41,535.39 L974.61,535.20 L974.81,535.06 L975.00,535.09 L975.20,535.37 L975.40,535.83 L975.60,535.83 L975.79,535.19 L975.99,535.07 L976.19,535.37 L976.39,535.31 L976.58,535.24 L976.78,534.90 L976.98,534.48 L977.18,534.28 L977.37,534.06 L977.57,534.44 L977.77,534.80 L977.97,534.10 L978.16,533.46 L978.36,533.60 L978.56,533.99 L978.76,534.01 L978.95,533.48 L979.15,533.02 L979.35,532.17 L979.55,531.15 L979.74,530.60 L979.94,529.89 L980.14,529.07 L980.34,527.91 L980.53,525.93 L980.73,523.66 L980.93,521.37 L981.13,518.66 L981.32,515.42 L981.52,510.89 L981.72,504.79 L981.92,498.12 L982.11,490.78 L982.31,482.87 L982.51,475.92 L982.71,469.89 L982.90,464.13 L983.10,460.47 L983.30,461.44 L983.50,463.93 L983.69,467.82 L983.89,472.68 L984.09,479.27 L984.29,487.25 L984.48,494.48 L984.68,500.15 L984.88,506.05 L985.08,511.45 L985.27,515.33 L985.47,518.76 L985.67,522.04 L985.87,524.72 L986.06,526.39 L986.26,527.50 L986.46,528.63 L986.66,529.93 L986.85,531.15 L987.05,531.66 L987.25,531.88 L987.45,532.56 L987.64,533.17 L987.84,532.89 L988.04,532.44 L988.24,532.90 L988.43,533.63 L988.63,534.12 L988.83,534.26 L989.03,534.15 L989.22,534.28 L989.42,534.21 L989.62,533.80 L989.82,533.69 L990.01,534.22 L990.21,534.87 L990.41,534.62 L990.61,534.26 L990.80,534.32 L991.00,534.05 L991.20,533.81 L991.40,533.79 L991.59,534.03 L991.79,534.25 L991.99,533.65 L992.19,532.77 L992.38,532.71 L992.58,532.47 L992.78,531.72 L992.98,531.18 L993.17,530.04 L993.37,528.38 L993.57,526.76 L993.77,524.98 L993.96,523.51 L994.16,521.55 L994.36,518.16 L994.56,514.73 L994.75,511.63 L994.95,508.36 L995.15,505.78 L995.35,504.07 L995.54,503.83 L995.74,503.36 L995.94,506.09 L996.14,509.64 L996.33,512.74 L996.53,515.68 L996.73,518.56 L996.93,520.56 L997.12,522.96 L997.32,525.71 L997.52,527.71 L997.72,529.66 L997.91,530.97 L998.11,531.69 L998.31,532.59 L998.51,533.19 L998.70,533.35 L998.90,533.49 L999.10,533.78 L999.30,533.98 L999.49,534.51 L999.69,535.42 L999.89,536.13 L1000.09,536.30 L1000.28,536.33 L1000.48,536.68 L1000.68,536.84 L1000.88,536.84 L1001.07,536.40 L1001.27,536.03 L1001.47,536.34 L1001.67,536.56 L1001.86,536.45 L1002.06,536.57 L1002.26,536.83 L1002.46,536.72 L1002.65,536.76 L1002.85,537.13 L1003.05,536.96 L1003.25,536.38 L1003.44,536.25 L1003.64,536.62 L1003.84,536.97 L1004.04,537.15 L1004.23,537.42 L1004.43,537.48 L1004.63,537.14 L1004.83,537.04 L1005.02,537.21 L1005.22,537.02 L1005.42,536.61 L1005.62,536.75 L1005.81,536.63 L1006.01,536.25 L1006.21,536.54 L1006.41,536.71 L1006.60,536.55 L1006.80,536.34 L1007.00,536.16 L1007.20,536.17 L1007.39,536.51 L1007.59,536.61 L1007.79,536.33 L1007.99,536.54 L1008.18,536.86 L1008.38,537.02 L1008.58,537.07 L1008.78,536.68 L1008.97,536.18 L1009.17,536.24 L1009.37,536.59 L1009.57,536.66 L1009.76,536.79 L1009.96,536.86 L1010.16,536.61 L1010.36,536.98 L1010.55,537.42 L1010.75,537.23 L1010.95,537.14 L1011.15,536.93 L1011.34,536.76 L1011.54,536.87 L1011.74,536.62 L1011.94,536.54 L1012.13,537.18 L1012.33,537.39 L1012.53,536.85 L1012.73,536.17 L1012.92,535.58 L1013.12,535.58 L1013.32,535.96 L1013.52,536.50 L1013.71,537.09 L1013.91,537.08 L1014.11,536.68 L1014.31,536.53 L1014.50,536.63 L1014.70,536.52 L1014.90,536.51 L1015.10,536.82 L1015.29,537.02 L1015.49,536.78 L1015.69,536.64 L1015.89,536.84 L1016.08,536.45 L1016.28,536.38 L1016.48,536.93 L1016.68,536.63 L1016.87,536.23 L1017.07,536.57 L1017.27,536.73 L1017.47,536.37 L1017.66,536.04 L1017.86,536.30 L1018.06,536.97 L1018.26,537.44 L1018.45,537.35 L1018.65,537.22 L1018.85,537.47 L1019.05,537.20 L1019.24,536.88 L1019.44,537.11 L1019.64,537.08 L1019.84,536.75 L1020.03,536.77 L1020.23,537.07 L1020.43,537.00 L1020.63,536.82 L1020.82,537.07 L1021.02,537.27 L1021.22,537.13 L1021.42,537.14 L1021.61,537.25 L1021.81,536.96 L1022.01,536.52 L1022.21,536.35 L1022.40,536.43 L1022.60,536.90 L1022.80,536.95 L1023.00,536.66 L1023.19,536.85 L1023.39,536.81 L1023.59,536.75 L1023.79,537.21 L1023.98,537.53 L1024.18,537.31 L1024.38,537.00 L1024.58,536.89 L1024.77,536.97 L1024.97,537.33 L1025.17,537.71 L1025.37,537.77 L1025.56,537.62 L1025.76,537.45 L1025.96,537.43 L1026.16,537.53 L1026.35,537.49 L1026.55,537.12 L1026.75,536.85 L1026.95,537.09 L1027.14,537.12 L1027.34,536.63 L1027.54,536.54 L1027.74,536.99 L1027.93,537.46 L1028.13,537.89 L1028.33,537.82 L1028.53,537.11 L1028.72,536.38 L1028.92,536.20 L1029.12,536.65 L1029.32,537.06 L1029.51,537.28 L1029.71,537.53 L1029.91,537.59 L1030.11,537.54 L1030.30,537.14 L1030.50,536.42 L1030.70,536.27 L1030.90,536.71 L1031.09,537.25 L1031.29,537.67 L1031.49,537.32 L1031.69,536.53 L1031.88,536.31 L1032.08,536.47 L1032.28,536.39 L1032.48,536.32 L1032.67,536.65 L1032.87,536.43 L1033.07,536.06 L1033.27,536.53 L1033.46,536.84 L1033.66,536.67 L1033.86,536.56 L1034.06,536.90 L1034.25,537.27 L1034.45,537.17 L1034.65,537.15 L1034.85,537.64 L1035.04,537.86 L1035.24,537.53 L1035.44,537.21 L1035.64,537.05 L1035.83,537.13 L1036.03,537.12 L1036.23,536.77 L1036.43,536.40 L1036.62,536.26 L1036.82,536.67 L1037.02,537.07 L1037.22,536.77 L1037.41,536.50 L1037.61,536.43 L1037.81,536.41 L1038.01,536.39 L1038.20,536.34 L1038.40,536.34 L1038.60,536.46 L1038.80,537.18 L1038.99,537.75 L1039.19,536.95 L1039.39,536.07 L1039.59,536.42 L1039.78,536.80 L1039.98,536.79 L1040.18,536.87 L1040.38,536.82 L1040.57,536.50 L1040.77,536.10 L1040.97,536.24 L1041.17,536.62 L1041.36,536.66 L1041.56,536.89 L1041.76,537.09 L1041.96,536.94 L1042.15,536.91 L1042.35,536.84 L1042.55,536.70 L1042.75,536.48 L1042.94,536.34 L1043.14,536.68 L1043.34,537.11 L1043.54,537.09 L1043.73,536.95 L1043.93,537.11 L1044.13,537.20 L1044.33,537.13 L1044.52,537.01 L1044.72,536.90 L1044.92,536.95 L1045.12,537.01 L1045.31,537.29 L1045.51,537.28 L1045.71,536.58 L1045.91,536.31 L1046.10,536.48 L1046.30,536.34 L1046.50,536.48 L1046.70,536.62 L1046.89,536.59 L1047.09,536.89 L1047.29,536.66 L1047.49,536.39 L1047.68,536.40 L1047.88,536.16 L1048.08,536.11 L1048.28,536.08 L1048.47,536.09 L1048.67,536.15 L1048.87,535.88 L1049.07,535.57 L1049.26,535.74 L1049.46,535.94 L1049.66,536.07 L1049.86,536.40 L1050.05,536.57 L1050.25,536.39 L1050.45,536.15 L1050.65,536.16 L1050.84,536.40 L1051.04,536.54 L1051.24,536.65 L1051.44,536.90 L1051.63,537.19 L1051.83,537.47 L1052.03,537.31 L1052.23,537.17 L1052.42,537.47 L1052.62,537.29 L1052.82,536.70 L1053.02,536.43 L1053.21,536.30 L1053.41,536.25 L1053.61,536.35 L1053.81,536.42 L1054.00,536.37 L1054.20,536.54 L1054.40,537.01 L1054.60,536.81 L1054.79,536.25 L1054.99,536.23 L1055.19,536.55 L1055.39,536.60 L1055.58,536.46 L1055.78,536.73 L1055.98,536.82 L1056.18,536.49 L1056.37,536.51 L1056.57,536.82 L1056.77,537.39 L1056.97,537.44 L1057.16,536.42 L1057.36,536.13 L1057.56,536.82 L1057.76,536.66 L1057.95,536.07 L1058.15,536.01 L1058.35,536.10 L1058.55,536.29 L1058.74,536.29 L1058.94,535.86 L1059.14,535.72 L1059.34,536.39 L1059.53,536.75 L1059.73,536.28 L1059.93,536.17 L1060.13,536.10 L1060.32,535.72 L1060.52,535.93 L1060.72,536.28 L1060.92,536.20 L1061.11,536.32 L1061.31,536.61 L1061.51,536.82 L1061.71,537.22 L1061.90,537.16 L1062.10,536.38 L1062.30,536.11 L1062.50,536.33 L1062.69,536.21 L1062.89,535.97 L1063.09,535.99 L1063.29,535.92 L1063.48,535.65 L1063.68,536.05 L1063.88,536.60 L1064.08,536.92 L1064.27,537.19 L1064.47,536.98 L1064.67,536.77 L1064.87,536.78 L1065.06,537.31 L1065.26,538.18 L1065.46,538.23 L1065.66,537.71 L1065.85,537.26 L1066.05,536.97 L1066.25,536.98 L1066.45,536.87 L1066.64,536.52 L1066.84,536.28 L1067.04,536.41 L1067.24,536.77 L1067.43,536.89 L1067.63,536.59 L1067.83,536.40 L1068.03,536.47 L1068.22,536.59 L1068.42,536.86 L1068.62,536.75 L1068.82,536.51 L1069.01,536.35 L1069.21,536.01 L1069.41,536.09 L1069.61,536.55 L1069.80,536.63 L1070.00,536.43 L1070.20,536.40 L1070.40,536.46 L1070.59,536.30 L1070.79,535.88 L1070.99,535.73 L1071.19,535.70 L1071.38,536.01 L1071.58,536.55 L1071.78,536.38 L1071.98,535.99 L1072.17,535.81 L1072.37,535.74 L1072.57,535.65 L1072.77,535.90 L1072.96,536.61 L1073.16,536.46 L1073.36,535.54 L1073.56,535.40 L1073.75,535.68 L1073.95,535.39 L1074.15,535.43 L1074.35,535.96 L1074.54,535.86 L1074.74,535.45 L1074.94,535.10 L1075.14,534.74 L1075.33,534.77 L1075.53,535.11 L1075.73,535.65 L1075.93,535.99 L1076.12,535.60 L1076.32,534.83 L1076.52,534.82 L1076.72,535.52 L1076.91,536.13 L1077.11,536.21 L1077.31,535.84 L1077.51,535.75 L1077.70,535.45 L1077.90,535.44 L1078.10,536.17 L1078.30,536.22 L1078.49,535.58 L1078.69,535.45 L1078.89,536.04 L1079.09,536.29 L1079.28,535.78 L1079.48,535.62 L1079.68,536.13 L1079.88,536.04 L1080.07,535.45 L1080.27,535.52 L1080.47,535.76 L1080.67,535.48 L1080.86,535.00 L1081.06,534.75 L1081.26,534.84 L1081.46,535.22 L1081.65,535.35 L1081.85,534.80 L1082.05,534.39 L1082.25,534.41 L1082.44,534.39 L1082.64,534.11 L1082.84,533.89 L1083.04,534.17 L1083.23,534.14 L1083.43,533.62 L1083.63,533.48 L1083.83,533.34 L1084.02,532.99 L1084.22,532.84 L1084.42,532.82 L1084.62,532.45 L1084.81,531.94 L1085.01,531.62 L1085.21,531.19 L1085.41,531.06 L1085.60,530.71 L1085.80,529.60 L1086.00,528.38 L1086.20,527.53 L1086.39,526.86 L1086.59,525.35 L1086.79,522.96 L1086.99,520.55 L1087.18,517.95 L1087.38,514.88 L1087.58,510.90 L1087.78,505.79 L1087.97,500.03 L1088.17,493.78 L1088.37,487.85 L1088.57,481.21 L1088.76,473.07 L1088.96,465.63 L1089.16,460.52 L1089.36,456.63 L1089.55,452.30 L1089.75,449.87 L1089.95,451.66 L1090.15,455.19 L1090.34,460.64 L1090.54,468.17 L1090.74,475.96 L1090.94,482.80 L1091.13,489.66 L1091.33,497.01 L1091.53,503.71 L1091.73,508.37 L1091.92,511.79 L1092.12,515.80 L1092.32,519.42 L1092.52,521.47 L1092.71,522.89 L1092.91,524.24 L1093.11,525.49 L1093.31,526.79 L1093.50,528.21 L1093.70,529.23 L1093.90,529.21 L1094.10,529.30 L1094.29,529.98 L1094.49,530.46 L1094.69,531.21 L1094.89,531.66 L1095.08,531.61 L1095.28,531.89 L1095.48,532.28 L1095.68,532.53 L1095.87,532.34 L1096.07,532.46 L1096.27,532.95 L1096.47,532.82 L1096.66,532.58 L1096.86,533.06 L1097.06,533.55 L1097.26,533.38 L1097.45,533.41 L1097.65,533.50 L1097.85,533.51 L1098.05,533.71 L1098.24,533.71 L1098.44,533.45 L1098.64,532.98 L1098.84,532.75 L1099.03,532.72 L1099.23,532.51 L1099.43,532.22 L1099.63,532.22 L1099.82,532.40 L1100.02,532.04 L1100.22,531.43 L1100.42,530.87 L1100.61,530.04 L1100.81,529.16 L1101.01,528.26 L1101.21,527.19 L1101.40,525.94 L1101.60,524.41 L1101.80,522.20 L1102.00,519.31 L1102.19,516.33 L1102.39,513.71 L1102.59,511.33 L1102.79,507.83 L1102.98,503.77 L1103.18,501.84 L1103.38,500.93 L1103.58,499.35 L1103.77,498.93 L1103.97,500.37 L1104.17,502.50 L1104.37,505.20 L1104.56,508.15 L1104.76,511.37 L1104.96,514.50 L1105.16,517.27 L1105.35,519.67 L1105.55,521.48 L1105.75,523.40 L1105.95,525.70 L1106.14,527.39 L1106.34,528.50 L1106.54,529.28 L1106.74,530.35 L1106.93,532.25 L1107.13,533.31 L1107.33,533.02 L1107.53,532.60 L1107.72,532.77 L1107.92,533.33 L1108.12,533.67 L1108.32,533.76 L1108.51,533.48 L1108.71,533.68 L1108.91,534.20 L1109.11,533.70 L1109.30,533.61 L1109.50,534.14 L1109.70,534.19 L1109.90,534.14 L1110.09,534.07 L1110.29,533.94 L1110.49,534.14 L1110.69,534.44 L1110.88,534.45 L1111.08,534.60 L1111.28,534.59 L1111.48,534.48 L1111.67,534.70 L1111.87,534.78 L1112.07,534.82 L1112.27,535.23 L1112.46,535.54 L1112.66,535.37 L1112.86,534.97 L1113.06,534.96 L1113.25,535.38 L1113.45,535.50 L1113.65,535.62 L1113.85,535.49 L1114.04,535.12 L1114.24,535.23 L1114.44,535.33 L1114.64,535.57 L1114.83,535.92 L1115.03,535.94 L1115.23,535.93 L1115.43,535.65 L1115.62,535.28 L1115.82,535.83 L1116.02,536.27 L1116.22,535.82 L1116.41,535.73 L1116.61,535.77 L1116.81,535.90 L1117.01,536.39 L1117.20,536.47 L1117.40,536.45 L1117.60,536.52 L1117.80,536.40 L1117.99,536.01 L1118.19,535.57 L1118.39,535.51 L1118.59,535.49 L1118.78,535.75 L1118.98,536.29 L1119.18,536.02 L1119.38,535.56 L1119.57,535.37 L1119.77,535.27 L1119.97,535.34 L1120.17,535.46 L1120.36,535.68 L1120.56,535.81 L1120.76,535.96 L1120.96,536.09 L1121.15,535.94 L1121.35,536.05 L1121.55,536.22 L1121.75,536.06 L1121.94,536.08 L1122.14,536.56 L1122.34,536.91 L1122.54,536.76 L1122.73,536.45 L1122.93,536.08 L1123.13,536.06 L1123.33,536.12 L1123.52,536.12 L1123.72,536.20 L1123.92,536.12 L1124.12,536.11 L1124.31,535.81 L1124.51,535.24 L1124.71,534.92 L1124.91,535.07 L1125.10,535.70 L1125.30,535.99 L1125.50,535.53 L1125.70,535.40 L1125.89,535.69 L1126.09,535.65 L1126.29,536.20 L1126.49,536.81 L1126.68,536.10 L1126.88,535.31 L1127.08,535.34 L1127.28,535.52 L1127.47,536.01 L1127.67,536.88 L1127.87,537.24 L1128.07,536.86 L1128.26,536.58 L1128.46,536.68 L1128.66,536.50 L1128.86,535.90 L1129.05,535.97 L1129.25,536.77 L1129.45,536.94 L1129.65,536.58 L1129.84,536.82 L1130.04,536.69 L1130.24,535.74 L1130.44,535.66 L1130.63,536.46 L1130.83,536.86 L1131.03,536.73 L1131.23,536.54 L1131.42,536.23 L1131.62,536.03 L1131.82,536.03 L1132.02,536.05 L1132.21,536.14 L1132.41,536.41 L1132.61,536.57 L1132.81,536.09 L1133.00,535.44 L1133.20,535.09 L1133.40,535.79 L1133.60,536.33 L1133.79,535.86 L1133.99,536.04 L1134.19,536.37 L1134.39,535.90 L1134.58,535.23 L1134.78,535.20 L1134.98,535.74 L1135.18,535.92 L1135.37,535.97 L1135.57,536.23 L1135.77,536.27 L1135.97,536.12 L1136.16,535.87 L1136.36,535.97 L1136.56,536.35 L1136.76,536.08 L1136.95,535.58 L1137.15,535.55 L1137.35,535.93 L1137.55,536.12 L1137.74,536.07 L1137.94,536.20 L1138.14,536.31 L1138.34,536.33 L1138.53,536.39 L1138.73,536.43 L1138.93,536.37 L1139.13,536.35 L1139.32,536.45 L1139.52,536.27 L1139.72,535.74 L1139.92,535.63 L1140.11,536.00 L1140.31,536.11 L1140.51,535.88 L1140.71,535.87 L1140.90,535.96 L1141.10,535.94 L1141.30,535.85 L1141.50,535.87 L1141.69,536.29 L1141.89,536.46 L1142.09,536.31 L1142.29,536.25 L1142.48,536.08 L1142.68,535.83 L1142.88,535.75 L1143.08,536.05 L1143.27,536.52 L1143.47,536.74 L1143.67,536.57 L1143.87,536.36 L1144.06,536.66 L1144.26,537.11 L1144.46,536.98 L1144.66,536.70 L1144.85,537.18 L1145.05,537.44 L1145.25,536.70 L1145.45,536.19 L1145.64,536.04 L1145.84,535.92 L1146.04,536.01 L1146.24,536.12 L1146.43,536.34 L1146.63,536.83 L1146.83,537.33 L1147.03,537.11 L1147.22,536.30 L1147.42,535.93 L1147.62,536.23 L1147.82,536.38 L1148.01,536.15 L1148.21,536.11 L1148.41,536.21 L1148.61,536.39 L1148.80,536.61 L1149.00,536.39 L1149.20,535.66 L1149.40,534.97 L1149.59,534.97 L1149.79,535.40 L1149.99,535.55 L1150.19,535.56 L1150.38,535.51 L1150.58,535.30 L1150.78,535.41 L1150.98,535.51 L1151.17,535.21 L1151.37,535.46 L1151.57,535.48 L1151.77,535.04 L1151.96,535.35 L1152.16,535.63 L1152.36,535.35 L1152.56,535.40 L1152.75,535.78 L1152.95,535.70 L1153.15,535.31 L1153.35,534.54 L1153.54,534.09 L1153.74,534.68 L1153.94,535.14 L1154.14,534.71 L1154.33,534.47 L1154.53,535.10 L1154.73,535.41 L1154.93,535.46 L1155.12,535.97 L1155.32,536.12 L1155.52,535.92 L1155.72,535.72 L1155.91,535.62 L1156.11,536.02 L1156.31,536.55 L1156.51,536.58 L1156.70,536.10 L1156.90,535.58 L1157.10,535.32 L1157.30,535.60 L1157.49,535.90 L1157.69,535.73 L1157.89,535.44 L1158.09,535.22 L1158.28,535.36 L1158.48,535.61 L1158.68,535.43 L1158.88,535.15 L1159.07,534.80 L1159.27,534.34 L1159.47,534.76 L1159.67,535.59 L1159.86,535.45 L1160.06,535.00 L1160.26,534.96 L1160.46,535.13 L1160.65,535.57 L1160.85,536.19 L1161.05,536.11 L1161.25,535.61 L1161.44,535.60 L1161.64,535.53 L1161.84,535.63 L1162.04,536.32 L1162.23,536.32 L1162.43,535.72 L1162.63,535.64 L1162.83,535.49 L1163.02,535.19 L1163.22,535.36 L1163.42,535.47 L1163.62,535.66 L1163.81,535.72 L1164.01,535.21 L1164.21,535.28 L1164.41,535.58 L1164.60,535.58 L1164.80,535.97 L1165.00,536.33 L1165.20,536.32 L1165.39,536.17 L1165.59,536.00 L1165.79,535.88 L1165.99,535.85 L1166.18,535.66 L1166.38,535.47 L1166.58,535.48 L1166.78,535.56 L1166.97,535.84 L1167.17,536.40 L1167.37,536.58 L1167.57,536.34 L1167.76,536.26 L1167.96,536.04 L1168.16,535.86 L1168.36,535.87 L1168.55,535.71 L1168.75,535.72 L1168.95,535.87 L1169.15,535.55 L1169.34,535.12 L1169.54,535.03 L1169.74,535.19 L1169.94,535.54 L1170.13,535.39 L1170.33,534.95 L1170.53,535.10 L1170.73,535.25 L1170.92,535.32 L1171.12,535.63 L1171.32,535.54 L1171.52,535.25 L1171.71,535.00 L1171.91,534.68 L1172.11,534.63 L1172.31,534.88 L1172.50,535.19 L1172.70,535.20 L1172.90,535.01 L1173.10,534.89 L1173.29,534.96 L1173.49,535.11 L1173.69,534.85 L1173.89,534.70 L1174.08,535.32 L1174.28,535.66 L1174.48,535.21 L1174.68,535.11 L1174.87,535.41 L1175.07,535.89 L1175.27,536.35 L1175.47,536.15 L1175.66,535.58 L1175.86,535.22 L1176.06,535.19 L1176.26,535.27 L1176.45,535.63 L1176.65,535.98 L1176.85,536.14 L1177.05,536.24 L1177.24,535.84 L1177.44,535.59 L1177.64,535.86 L1177.84,535.55 L1178.03,535.05 L1178.23,535.05 L1178.43,535.05 L1178.63,534.94 L1178.82,535.19 L1179.02,535.28 L1179.22,534.63 L1179.42,534.46 L1179.61,534.75 L1179.81,534.64 L1180.01,534.26 L1180.21,534.13 L1180.40,534.48 L1180.60,534.69 L1180.80,534.24 L1181.00,533.72 L1181.19,533.68 L1181.39,533.76 L1181.59,533.75 L1181.79,533.60 L1181.98,533.55 L1182.18,533.34 L1182.38,532.89 L1182.58,533.07 L1182.77,533.01 L1182.97,532.61 L1183.17,533.18 L1183.37,533.89 L1183.56,533.54 L1183.76,532.76 L1183.96,532.67 L1184.16,532.76 L1184.35,532.69 L1184.55,532.84 L1184.75,532.71 L1184.95,532.60 L1185.14,532.90 L1185.34,533.11 L1185.54,533.28 L1185.74,533.23 L1185.93,532.99 L1186.13,533.11 L1186.33,533.71 L1186.53,534.30 L1186.72,534.29 L1186.92,533.96 L1187.12,533.64 L1187.32,533.44 L1187.51,533.50 L1187.71,533.56 L1187.91,533.45 L1188.11,533.28 L1188.30,533.55 L1188.50,533.89 L1188.70,533.28 L1188.90,532.69 L1189.09,533.09 L1189.29,533.86 L1189.49,534.18 L1189.69,533.80 L1189.88,533.41 L1190.08,533.94 L1190.28,535.09 L1190.48,535.31 L1190.67,533.98 L1190.87,533.29 L1191.07,534.02 L1191.27,534.17 L1191.46,533.65 L1191.66,533.25 L1191.86,533.32 L1192.06,533.65 L1192.25,533.52 L1192.45,533.14 L1192.65,532.74 L1192.85,532.43 L1193.04,532.57 L1193.24,533.14 L1193.44,533.36 L1193.64,533.08 L1193.83,532.88 L1194.03,532.90 L1194.23,532.89 L1194.43,532.78 L1194.62,532.41 L1194.82,531.77 L1195.02,531.78 L1195.22,531.89 L1195.41,531.68 L1195.61,531.56 L1195.81,531.19 L1196.01,530.63 L1196.20,530.14 L1196.40,530.33 L1196.60,530.61 L1196.80,530.27 L1196.99,530.00 L1197.19,530.44 L1197.39,531.02 L1197.59,530.51 L1197.78,529.46 L1197.98,528.99 L1198.18,529.00 L1198.38,528.72 L1198.57,528.60 L1198.77,528.72 L1198.97,528.17 L1199.17,527.48 L1199.36,527.28 L1199.56,527.11 L1199.76,526.73 L1199.96,526.27 L1200.15,525.84 L1200.35,525.80 L1200.55,525.68 L1200.75,524.82 L1200.94,523.47 L1201.14,522.59 L1201.34,522.00 L1201.54,521.00 L1201.73,519.87 L1201.93,519.07 L1202.13,518.59 L1202.33,517.71 L1202.52,516.55 L1202.72,514.67 L1202.92,511.83 L1203.12,509.23 L1203.31,506.79 L1203.51,503.86 L1203.71,499.93 L1203.91,495.25 L1204.10,490.00 L1204.30,483.06 L1204.50,476.02 L1204.70,468.79 L1204.89,458.95 L1205.09,446.57 L1205.29,432.10 L1205.49,415.77 L1205.68,397.91 L1205.88,379.25 L1206.08,358.78 L1206.28,335.44 L1206.47,309.95 L1206.67,284.36 L1206.87,260.22 L1207.07,237.66 L1207.26,219.04 L1207.46,207.28 L1207.66,200.37 L1207.86,204.64 L1208.05,212.77 L1208.25,226.26 L1208.45,244.26 L1208.65,267.57 L1208.84,293.52 L1209.04,318.72 L1209.24,342.95 L1209.44,366.10 L1209.63,387.58 L1209.83,406.07 L1210.03,422.82 L1210.23,438.16 L1210.42,451.63 L1210.62,463.19 L1210.82,472.21 L1211.02,479.65 L1211.21,486.00 L1211.41,491.33 L1211.61,495.94 L1211.81,500.56 L1212.00,504.47 L1212.20,507.20 L1212.40,509.94 L1212.60,512.00 L1212.79,513.41 L1212.99,515.00 L1213.19,515.94 L1213.39,516.64 L1213.58,518.05 L1213.78,519.45 L1213.98,519.50 L1214.18,519.14 L1214.37,520.15 L1214.57,521.19 L1214.77,521.36 L1214.97,521.74 L1215.16,522.73 L1215.36,523.52 L1215.56,523.83 L1215.76,524.36 L1215.95,525.09 L1216.15,525.25 L1216.35,524.85 L1216.55,524.42 L1216.74,524.27 L1216.94,524.72 L1217.14,524.75 L1217.34,524.67 L1217.53,524.99 L1217.73,524.83 L1217.93,524.93 L1218.13,524.91 L1218.32,524.17 L1218.52,523.92 L1218.72,523.81 L1218.92,522.73 L1219.11,521.44 L1219.31,520.89 L1219.51,520.61 L1219.71,519.90 L1219.90,518.47 L1220.10,516.79 L1220.30,515.05 L1220.50,512.62 L1220.69,510.27 L1220.89,507.89 L1221.09,503.92 L1221.29,499.20 L1221.48,494.58 L1221.68,488.47 L1221.88,481.00 L1222.08,473.72 L1222.27,465.94 L1222.47,456.96 L1222.67,447.11 L1222.87,436.67 L1223.06,426.74 L1223.26,417.87 L1223.46,408.96 L1223.66,400.29 L1223.85,394.14 L1224.05,390.75 L1224.25,390.26 L1224.45,393.28 L1224.64,399.15 L1224.84,408.42 L1225.04,419.15 L1225.24,427.78 L1225.43,436.88 L1225.63,447.94 L1225.83,458.82 L1226.03,468.32 L1226.22,476.49 L1226.42,484.51 L1226.62,491.37 L1226.82,496.06 L1227.01,500.49 L1227.21,505.23 L1227.41,509.27 L1227.61,512.07 L1227.80,514.04 L1228.00,516.44 L1228.20,518.90 L1228.40,520.51 L1228.59,521.46 L1228.79,522.47 L1228.99,524.04 L1229.19,525.18 L1229.38,525.69 L1229.58,526.64 L1229.78,527.67 L1229.98,528.08 L1230.17,528.48 L1230.37,528.95 L1230.57,529.18 L1230.77,529.15 L1230.96,529.12 L1231.16,529.46 L1231.36,530.02 L1231.56,530.54 L1231.75,530.88 L1231.95,531.16 L1232.15,531.13 L1232.35,530.46 L1232.54,530.08 L1232.74,530.52 L1232.94,530.98 L1233.14,531.07 L1233.33,531.25 L1233.53,531.65 L1233.73,531.84 L1233.93,531.59 L1234.12,531.55 L1234.32,532.34 L1234.52,532.91 L1234.72,532.60 L1234.91,532.66 L1235.11,533.20 L1235.31,533.86 L1235.51,534.33 L1235.70,533.91 L1235.90,533.27 L1236.10,533.10 L1236.30,533.39 L1236.49,533.75 L1236.69,533.69 L1236.89,533.40 L1237.09,533.23 L1237.28,533.17 L1237.48,533.52 L1237.68,534.02 L1237.88,533.79 L1238.07,533.65 L1238.27,533.88 L1238.47,533.84 L1238.67,534.02 L1238.86,534.39 L1239.06,534.23 L1239.26,533.62 L1239.46,533.21 L1239.65,533.08 L1239.85,533.15 L1240.05,533.56 L1240.25,534.01 L1240.44,534.06 L1240.64,533.67 L1240.84,533.54 L1241.04,534.33 L1241.23,535.05 L1241.43,534.87 L1241.63,534.60 L1241.83,534.73 L1242.02,534.88 L1242.22,534.91 L1242.42,535.11 L1242.62,535.57 L1242.81,535.50 L1243.01,535.14 L1243.21,535.36 L1243.41,535.33 L1243.60,535.14 L1243.80,535.59 L1244.00,535.54 L1244.20,534.71 L1244.39,534.46 L1244.59,535.10 L1244.79,535.75 L1244.99,535.85 L1245.18,535.56 L1245.38,534.98 L1245.58,534.45 L1245.78,534.33 L1245.97,534.62 L1246.17,534.90 L1246.37,534.77 L1246.57,534.60 L1246.76,534.78 L1246.96,535.18 L1247.16,535.28 L1247.36,534.86 L1247.55,534.83 L1247.75,535.29 L1247.95,535.30 L1248.15,534.91 L1248.34,534.60 L1248.54,534.69 L1248.74,534.93 L1248.94,535.11 L1249.13,535.76 L1249.33,536.08 L1249.53,535.44 L1249.73,535.10 L1249.92,535.26 L1250.12,535.00 L1250.32,534.67 L1250.52,534.61 L1250.71,534.42 L1250.91,534.34 L1251.11,534.72 L1251.31,534.91 L1251.50,534.60 L1251.70,534.59 L1251.90,534.77 L1252.10,534.59 L1252.29,534.73 L1252.49,535.16 L1252.69,535.35 L1252.89,535.30 L1253.08,535.02 L1253.28,534.63 L1253.48,534.80 L1253.68,535.67 L1253.87,535.80 L1254.07,535.15 L1254.27,534.81 L1254.47,534.96 L1254.66,535.03 L1254.86,534.87 L1255.06,534.87 L1255.26,534.73 L1255.45,534.45 L1255.65,534.78 L1255.85,535.50 L1256.05,535.53 L1256.24,535.21 L1256.44,535.39 L1256.64,535.53 L1256.84,535.35 L1257.03,535.30 L1257.23,535.25 L1257.43,535.30 L1257.63,535.44 L1257.82,535.34 L1258.02,535.38 L1258.22,535.36 L1258.42,535.51 L1258.61,536.20 L1258.81,536.51 L1259.01,536.01 L1259.21,535.37 L1259.40,535.34 L1259.60,535.70 L1259.80,536.02 L1260.00,535.96 L1260.19,535.47 L1260.39,535.18 L1260.59,535.02 L1260.79,534.90 L1260.98,534.85 L1261.18,534.89 L1261.38,534.96 L1261.58,534.78 L1261.77,534.93 L1261.97,535.23 L1262.17,534.78 L1262.37,534.50 L1262.56,535.08 L1262.76,535.30 L1262.96,534.98 L1263.16,534.72 L1263.35,534.33 L1263.55,534.08 L1263.75,534.29 L1263.95,534.53 L1264.14,534.87 L1264.34,535.13 L1264.54,535.00 L1264.74,534.81 L1264.93,534.52 L1265.13,534.55 L1265.33,534.86 L1265.53,535.10 L1265.72,535.19 L1265.92,535.27 L1266.12,535.79 L1266.32,535.96 L1266.51,535.74 L1266.71,535.98 L1266.91,536.05 L1267.11,535.85 L1267.30,535.75 L1267.50,535.72 L1267.70,535.69 L1267.90,535.22 L1268.09,534.84 L1268.29,534.78 L1268.49,534.77 L1268.69,534.98 L1268.88,534.89 L1269.08,534.81 L1269.28,535.18 L1269.48,535.28 L1269.67,535.17 L1269.87,535.20 L1270.07,535.58 L1270.27,535.90 L1270.46,535.45 L1270.66,534.84 L1270.86,534.56 L1271.06,534.75 L1271.25,535.19 L1271.45,535.25" stroke="#ff0000" stroke-width="1.7" fill="none" stroke-linejoin="bevel"/>
<path d="M185.20,1171.96 L185.53,1172.23 L185.86,1172.32 L186.19,1172.29 L186.53,1172.44 L186.86,1172.36 L187.19,1172.47 L187.52,1172.55 L187.85,1172.09 L188.18,1171.97 L188.51,1172.27 L188.84,1172.20 L189.17,1172.03 L189.51,1172.12 L189.84,1172.34 L190.17,1172.36 L190.50,1172.01 L190.83,1171.80 L191.16,1172.02 L191.49,1172.03 L191.82,1171.61 L192.15,1171.64 L192.48,1171.66 L192.81,1171.37 L193.14,1171.79 L193.47,1172.32 L193.80,1172.50 L194.13,1172.45 L194.46,1172.04 L194.79,1172.06 L195.12,1172.13 L195.45,1172.09 L195.78,1172.32 L196.11,1172.48 L196.44,1172.73 L196.77,1172.82 L197.10,1172.46 L197.43,1171.83 L197.76,1171.72 L198.09,1172.12 L198.42,1172.26 L198.74,1172.31 L199.07,1172.45 L199.40,1172.86 L199.73,1173.33 L200.06,1173.21 L200.39,1172.42 L200.72,1171.90 L201.05,1172.27 L201.38,1172.40 L201.71,1172.04 L202.03,1172.12 L202.36,1172.29 L202.69,1172.23 L203.02,1172.24 L203.35,1172.40 L203.68,1172.38 L204.00,1172.02 L204.33,1171.70 L204.66,1171.61 L204.99,1172.05 L205.32,1172.42 L205.64,1171.93 L205.97,1171.51 L206.30,1171.93 L206.63,1172.41 L206.96,1172.57 L207.28,1172.50 L207.61,1172.43 L207.94,1172.24 L208.27,1171.91 L208.59,1172.01 L208.92,1171.99 L209.25,1171.61 L209.58,1171.66 L209.90,1172.05 L210.23,1172.09 L210.56,1172.03 L210.89,1172.43 L211.21,1172.63 L211.54,1172.15 L211.87,1171.81 L212.19,1172.07 L212.52,1172.38 L212.85,1172.42 L213.17,1172.40 L213.50,1172.18 L213.83,1171.71 L214.15,1171.59 L214.48,1171.83 L214.81,1172.00 L215.13,1172.11 L215.46,1172.31 L215.78,1172.53 L216.11,1172.64 L216.44,1172.27 L216.76,1171.77 L217.09,1172.01 L217.42,1172.54 L217.74,1172.79 L218.07,1172.74 L218.39,1172.46 L218.72,1172.52 L219.04,1172.73 L219.37,1172.58 L219.70,1172.32 L220.02,1172.07 L220.35,1171.91 L220.67,1171.93 L221.00,1172.25 L221.32,1172.39 L221.65,1172.10 L221.97,1171.87 L222.30,1172.13 L222.62,1172.47 L222.95,1172.34 L223.27,1172.24 L223.60,1172.39 L223.92,1172.17 L224.25,1171.82 L224.57,1172.11 L224.90,1172.31 L225.22,1172.03 L225.55,1172.00 L225.87,1172.02 L226.19,1171.88 L226.52,1171.88 L226.84,1171.89 L227.17,1171.86 L227.49,1172.10 L227.82,1172.40 L228.14,1172.48 L228.46,1172.39 L228.79,1172.37 L229.11,1172.70 L229.44,1172.80 L229.76,1172.55 L230.08,1172.73 L230.41,1172.74 L230.73,1172.32 L231.05,1172.12 L231.38,1172.06 L231.70,1172.23 L232.02,1172.54 L232.35,1172.55 L232.67,1172.35 L232.99,1172.28 L233.32,1172.35 L233.64,1172.47 L233.96,1172.55 L234.29,1172.57 L234.61,1172.66 L234.93,1172.38 L235.26,1171.90 L235.58,1171.62 L235.90,1171.85 L236.22,1172.35 L236.55,1172.12 L236.87,1171.74 L237.19,1172.00 L237.51,1172.37 L237.84,1172.08 L238.16,1171.96 L238.48,1172.40 L238.80,1172.23 L239.12,1172.03 L239.45,1172.25 L239.77,1172.37 L240.09,1172.60 L240.41,1172.75 L240.73,1172.58 L241.06,1172.35 L241.38,1172.15 L241.70,1172.16 L242.02,1172.40 L242.34,1172.28 L242.66,1171.92 L242.99,1172.12 L243.31,1172.40 L243.63,1172.26 L243.95,1172.18 L244.27,1172.12 L244.59,1171.91 L244.91,1171.83 L245.24,1172.27 L245.56,1172.89 L245.88,1172.75 L246.20,1172.26 L246.52,1172.07 L246.84,1171.94 L247.16,1172.13 L247.48,1172.27 L247.80,1172.18 L248.12,1172.62 L248.44,1172.67 L248.76,1172.30 L249.08,1172.50 L249.40,1172.34 L249.72,1172.06 L250.04,1172.49 L250.36,1172.74 L250.69,1172.58 L251.01,1172.85 L251.33,1172.98 L251.65,1172.51 L251.97,1172.08 L252.28,1171.93 L252.60,1171.96 L252.92,1172.13 L253.24,1172.30 L253.56,1172.37 L253.88,1172.13 L254.20,1171.87 L254.52,1171.87 L254.84,1171.92 L255.16,1172.10 L255.48,1172.16 L255.80,1172.02 L256.12,1171.89 L256.44,1171.76 L256.76,1171.54 L257.08,1171.43 L257.40,1171.72 L257.71,1172.08 L258.03,1172.14 L258.35,1171.87 L258.67,1171.74 L258.99,1171.94 L259.31,1171.85 L259.63,1171.68 L259.94,1171.88 L260.26,1171.92 L260.58,1171.73 L260.90,1171.76 L261.22,1171.73 L261.54,1171.53 L261.85,1171.68 L262.17,1172.15 L262.49,1172.33 L262.81,1172.23 L263.13,1172.50 L263.45,1172.63 L263.76,1172.20 L264.08,1172.03 L264.40,1172.26 L264.72,1172.35 L265.03,1172.19 L265.35,1172.31 L265.67,1172.61 L265.99,1172.73 L266.30,1172.60 L266.62,1172.46 L266.94,1172.38 L267.26,1172.27 L267.57,1172.17 L267.89,1172.17 L268.21,1172.50 L268.52,1172.69 L268.84,1172.40 L269.16,1172.00 L269.47,1171.77 L269.79,1172.11 L270.11,1172.52 L270.43,1172.08 L270.74,1171.62 L271.06,1171.86 L271.37,1172.01 L271.69,1171.92 L272.01,1171.82 L272.32,1171.67 L272.64,1171.49 L272.96,1171.31 L273.27,1171.52 L273.59,1171.79 L273.91,1171.57 L274.22,1171.51 L274.54,1171.84 L274.85,1172.25 L275.17,1172.30 L275.48,1171.88 L275.80,1172.04 L276.12,1172.60 L276.43,1172.50 L276.75,1171.93 L277.06,1171.60 L277.38,1171.65 L277.69,1171.86 L278.01,1172.28 L278.32,1172.29 L278.64,1171.81 L278.95,1171.70 L279.27,1171.72 L279.59,1171.73 L279.90,1172.07 L280.22,1172.02 L280.53,1171.44 L280.84,1171.26 L281.16,1171.42 L281.47,1171.53 L281.79,1171.81 L282.10,1171.97 L282.42,1172.20 L282.73,1172.44 L283.05,1172.10 L283.36,1171.86 L283.68,1172.09 L283.99,1172.05 L284.30,1172.02 L284.62,1172.58 L284.93,1172.88 L285.25,1172.75 L285.56,1172.41 L285.88,1171.91 L286.19,1171.97 L286.50,1172.34 L286.82,1171.93 L287.13,1171.40 L287.44,1171.85 L287.76,1172.18 L288.07,1171.85 L288.39,1171.66 L288.70,1171.86 L289.01,1172.25 L289.33,1172.22 L289.64,1171.87 L289.95,1172.02 L290.27,1172.15 L290.58,1171.66 L290.89,1171.53 L291.20,1171.85 L291.52,1171.92 L291.83,1171.91 L292.14,1172.17 L292.46,1172.24 L292.77,1172.11 L293.08,1172.11 L293.39,1172.09 L293.71,1172.15 L294.02,1172.02 L294.33,1171.58 L294.65,1171.44 L294.96,1171.97 L295.27,1172.32 L295.58,1172.21 L295.89,1172.15 L296.21,1171.94 L296.52,1171.55 L296.83,1171.22 L297.14,1171.29 L297.45,1171.40 L297.77,1170.95 L298.08,1171.01 L298.39,1172.01 L298.70,1172.61 L299.01,1172.32 L299.33,1172.33 L299.64,1172.64 L299.95,1172.37 L300.26,1172.19 L300.57,1172.18 L300.88,1171.81 L301.19,1171.68 L301.51,1171.90 L301.82,1172.00 L302.13,1172.13 L302.44,1172.15 L302.75,1171.88 L303.06,1171.81 L303.37,1172.30 L303.68,1172.56 L303.99,1172.40 L304.30,1172.45 L304.61,1172.15 L304.93,1171.80 L305.24,1172.29 L305.55,1172.95 L305.86,1172.88 L306.17,1172.42 L306.48,1172.34 L306.79,1172.31 L307.10,1172.27 L307.41,1172.51 L307.72,1172.79 L308.03,1173.27 L308.34,1173.71 L308.65,1173.37 L308.96,1172.78 L309.27,1172.52 L309.58,1172.44 L309.89,1172.46 L310.20,1172.35 L310.51,1172.36 L310.82,1172.64 L311.13,1172.87 L311.44,1172.79 L311.75,1172.40 L312.06,1172.24 L312.37,1172.10 L312.67,1171.80 L312.98,1171.91 L313.29,1172.11 L313.60,1172.27 L313.91,1172.42 L314.22,1172.16 L314.53,1172.12 L314.84,1172.13 L315.15,1171.74 L315.46,1171.61 L315.76,1171.57 L316.07,1171.41 L316.38,1171.07 L316.69,1171.04 L317.00,1171.62 L317.31,1171.87 L317.62,1171.44 L317.92,1171.14 L318.23,1171.37 L318.54,1171.46 L318.85,1171.66 L319.16,1172.14 L319.47,1172.16 L319.77,1171.90 L320.08,1171.75 L320.39,1171.90 L320.70,1172.09 L321.01,1172.11 L321.31,1172.13 L321.62,1171.97 L321.93,1171.90 L322.24,1171.93 L322.54,1171.74 L322.85,1171.46 L323.16,1171.43 L323.47,1171.41 L323.77,1171.53 L324.08,1171.75 L324.39,1171.65 L324.70,1171.62 L325.00,1171.85 L325.31,1172.15 L325.62,1172.19 L325.92,1171.76 L326.23,1171.69 L326.54,1172.16 L326.84,1172.33 L327.15,1172.22 L327.46,1172.04 L327.76,1171.85 L328.07,1172.20 L328.38,1172.81 L328.68,1172.75 L328.99,1172.42 L329.30,1172.31 L329.60,1172.34 L329.91,1172.23 L330.22,1171.71 L330.52,1171.85 L330.83,1172.64 L331.13,1172.53 L331.44,1172.08 L331.75,1172.14 L332.05,1172.43 L332.36,1172.70 L332.66,1172.50 L332.97,1171.94 L333.28,1171.73 L333.58,1172.03 L333.89,1172.24 L334.19,1172.10 L334.50,1171.89 L334.80,1171.72 L335.11,1171.77 L335.41,1171.87 L335.72,1171.90 L336.02,1171.88 L336.33,1171.47 L336.63,1171.44 L336.94,1171.84 L337.24,1171.95 L337.55,1171.88 L337.85,1171.59 L338.16,1171.56 L338.46,1171.78 L338.77,1171.85 L339.07,1172.16 L339.38,1172.45 L339.68,1172.45 L339.99,1172.40 L340.29,1172.36 L340.60,1172.38 L340.90,1172.35 L341.20,1172.04 L341.51,1171.97 L341.81,1172.44 L342.12,1172.58 L342.42,1172.04 L342.73,1171.78 L343.03,1172.21 L343.33,1172.46 L343.64,1172.00 L343.94,1171.89 L344.24,1172.29 L344.55,1172.19 L344.85,1172.11 L345.16,1172.13 L345.46,1172.02 L345.76,1172.04 L346.07,1171.64 L346.37,1171.24 L346.67,1171.50 L346.98,1172.01 L347.28,1172.29 L347.58,1172.32 L347.89,1171.92 L348.19,1171.30 L348.49,1171.44 L348.80,1171.94 L349.10,1172.09 L349.40,1171.97 L349.70,1171.89 L350.01,1171.67 L350.31,1171.34 L350.61,1171.63 L350.91,1171.84 L351.22,1171.42 L351.52,1171.01 L351.82,1171.17 L352.12,1171.62 L352.43,1171.73 L352.73,1171.65 L353.03,1171.66 L353.33,1171.89 L353.64,1172.35 L353.94,1172.43 L354.24,1172.28 L354.54,1172.10 L354.84,1171.74 L355.15,1171.85 L355.45,1172.15 L355.75,1172.03 L356.05,1171.82 L356.35,1171.47 L356.65,1171.31 L356.96,1171.75 L357.26,1171.75 L357.56,1171.12 L357.86,1170.76 L358.16,1170.55 L358.46,1170.35 L358.76,1170.18 L359.06,1170.06 L359.37,1170.06 L359.67,1169.93 L359.97,1169.82 L360.27,1169.44 L360.57,1168.54 L360.87,1168.12 L361.17,1168.00 L361.47,1166.75 L361.77,1164.28 L362.07,1161.48 L362.37,1158.10 L362.68,1153.28 L362.98,1145.93 L363.28,1136.56 L363.58,1127.81 L363.88,1120.90 L364.18,1117.64 L364.48,1120.11 L364.78,1127.32 L365.08,1136.26 L365.38,1144.45 L365.68,1151.29 L365.98,1156.81 L366.28,1161.26 L366.58,1164.08 L366.88,1165.34 L367.18,1166.31 L367.48,1167.50 L367.78,1168.39 L368.08,1168.77 L368.38,1168.70 L368.67,1168.38 L368.97,1168.39 L369.27,1168.64 L369.57,1169.02 L369.87,1169.12 L370.17,1168.56 L370.47,1168.12 L370.77,1168.13 L371.07,1167.73 L371.37,1166.80 L371.67,1165.50 L371.97,1163.58 L372.26,1161.19 L372.56,1157.75 L372.86,1153.21 L373.16,1148.71 L373.46,1145.86 L373.76,1145.82 L374.06,1148.95 L374.36,1153.24 L374.65,1157.78 L374.95,1161.11 L375.25,1163.54 L375.55,1165.58 L375.85,1166.70 L376.15,1167.63 L376.44,1168.57 L376.74,1168.98 L377.04,1169.34 L377.34,1169.73 L377.64,1170.01 L377.93,1170.27 L378.23,1170.53 L378.53,1170.59 L378.83,1170.68 L379.12,1170.67 L379.42,1170.50 L379.72,1170.57 L380.02,1170.59 L380.31,1170.39 L380.61,1170.55 L380.91,1170.87 L381.21,1170.63 L381.50,1170.55 L381.80,1170.82 L382.10,1171.01 L382.40,1171.05 L382.69,1170.89 L382.99,1171.10 L383.29,1171.28 L383.58,1171.27 L383.88,1171.53 L384.18,1171.90 L384.47,1172.33 L384.77,1172.65 L385.07,1172.74 L385.36,1172.43 L385.66,1172.08 L385.96,1172.06 L386.25,1172.25 L386.55,1172.64 L386.85,1172.78 L387.14,1172.47 L387.44,1172.12 L387.73,1172.04 L388.03,1172.05 L388.33,1171.99 L388.62,1172.07 L388.92,1171.93 L389.21,1171.79 L389.51,1172.00 L389.81,1171.83 L390.10,1171.54 L390.40,1171.66 L390.69,1171.87 L390.99,1171.79 L391.28,1171.83 L391.58,1172.46 L391.87,1172.70 L392.17,1172.14 L392.47,1171.55 L392.76,1171.59 L393.06,1172.04 L393.35,1172.15 L393.65,1171.86 L393.94,1171.80 L394.24,1172.16 L394.53,1172.43 L394.83,1172.26 L395.12,1171.84 L395.42,1171.67 L395.71,1171.74 L396.00,1172.04 L396.30,1172.23 L396.59,1172.08 L396.89,1171.94 L397.18,1171.71 L397.48,1171.58 L397.77,1171.86 L398.07,1171.83 L398.36,1171.43 L398.65,1171.49 L398.95,1172.19 L399.24,1172.59 L399.54,1172.05 L399.83,1171.43 L400.13,1171.47 L400.42,1171.89 L400.71,1172.09 L401.01,1171.85 L401.30,1171.73 L401.59,1171.93 L401.89,1172.01 L402.18,1171.90 L402.48,1171.93 L402.77,1171.99 L403.06,1171.84 L403.36,1171.79 L403.65,1171.75 L403.94,1171.46 L404.24,1171.60 L404.53,1171.95 L404.82,1171.70 L405.11,1171.60 L405.41,1171.69 L405.70,1171.53 L405.99,1171.49 L406.29,1171.62 L406.58,1172.02 L406.87,1172.06 L407.16,1171.39 L407.46,1171.04 L407.75,1171.27 L408.04,1171.56 L408.34,1171.98 L408.63,1172.22 L408.92,1171.77 L409.21,1171.57 L409.50,1172.03 L409.80,1172.27 L410.09,1172.16 L410.38,1171.68 L410.67,1171.46 L410.97,1171.81 L411.26,1171.64 L411.55,1171.27 L411.84,1171.61 L412.13,1172.19 L412.43,1172.54 L412.72,1172.46 L413.01,1172.12 L413.30,1172.03 L413.59,1171.90 L413.88,1172.03 L414.18,1172.55 L414.47,1172.63 L414.76,1172.40 L415.05,1172.41 L415.34,1172.73 L415.63,1172.87 L415.92,1172.64 L416.21,1172.90 L416.51,1173.22 L416.80,1172.73 L417.09,1171.90 L417.38,1171.52 L417.67,1171.98 L417.96,1171.98 L418.25,1171.32 L418.54,1171.33 L418.83,1171.72 L419.12,1171.90 L419.41,1171.59 L419.70,1171.10 L419.99,1171.25 L420.28,1171.54 L420.58,1171.30 L420.87,1171.04 L421.16,1171.20 L421.45,1171.22 L421.74,1171.17 L422.03,1171.38 L422.32,1171.47 L422.61,1171.07 L422.90,1170.82 L423.19,1171.26 L423.48,1171.78 L423.77,1171.82 L424.06,1171.58 L424.35,1171.55 L424.64,1171.65 L424.92,1171.91 L425.21,1172.12 L425.50,1171.92 L425.79,1171.94 L426.08,1172.19 L426.37,1172.16 L426.66,1172.14 L426.95,1172.47 L427.24,1172.59 L427.53,1172.38 L427.82,1172.54 L428.11,1172.89 L428.40,1172.85 L428.68,1172.56 L428.97,1172.43 L429.26,1172.15 L429.55,1171.73 L429.84,1171.44 L430.13,1171.22 L430.42,1171.28 L430.71,1171.51 L430.99,1171.58 L431.28,1171.47 L431.57,1171.29 L431.86,1171.40 L432.15,1171.48 L432.44,1171.35 L432.72,1171.51 L433.01,1171.94 L433.30,1172.05 L433.59,1171.69 L433.88,1171.50 L434.17,1171.63 L434.45,1171.83 L434.74,1171.91 L435.03,1171.72 L435.32,1171.56 L435.60,1171.60 L435.89,1171.70 L436.18,1171.69 L436.47,1171.54 L436.75,1171.61 L437.04,1171.70 L437.33,1171.44 L437.62,1171.24 L437.90,1171.38 L438.19,1171.66 L438.48,1171.96 L438.77,1171.98 L439.05,1171.99 L439.34,1172.27 L439.63,1172.17 L439.91,1171.73 L440.20,1171.48 L440.49,1171.64 L440.77,1172.04 L441.06,1172.16 L441.35,1171.89 L441.63,1171.55 L441.92,1171.47 L442.21,1171.61 L442.49,1171.71 L442.78,1171.48 L443.07,1171.37 L443.35,1171.61 L443.64,1171.35 L443.93,1170.87 L444.21,1171.04 L444.50,1171.25 L444.78,1171.21 L445.07,1171.28 L445.36,1171.00 L445.64,1170.39 L445.93,1170.55 L446.21,1171.14 L446.50,1170.80 L446.79,1170.47 L447.07,1170.87 L447.36,1170.81 L447.64,1170.63 L447.93,1170.85 L448.21,1170.91 L448.50,1171.14 L448.79,1171.37 L449.07,1171.04 L449.36,1170.68 L449.64,1170.25 L449.93,1169.95 L450.21,1170.30 L450.50,1170.66 L450.78,1170.61 L451.07,1170.46 L451.35,1170.62 L451.64,1171.17 L451.92,1171.58 L452.21,1171.45 L452.49,1170.96 L452.78,1170.87 L453.06,1171.17 L453.34,1171.29 L453.63,1171.33 L453.91,1171.36 L454.20,1171.30 L454.48,1171.04 L454.77,1170.72 L455.05,1170.95 L455.34,1171.42 L455.62,1171.28 L455.90,1170.85 L456.19,1170.82 L456.47,1170.87 L456.76,1170.58 L457.04,1170.60 L457.32,1171.11 L457.61,1171.42 L457.89,1171.21 L458.18,1170.73 L458.46,1170.60 L458.74,1170.73 L459.03,1170.52 L459.31,1170.17 L459.59,1170.21 L459.88,1170.15 L460.16,1170.01 L460.44,1170.45 L460.73,1170.30 L461.01,1169.68 L461.29,1170.05 L461.58,1170.61 L461.86,1170.67 L462.14,1170.47 L462.43,1170.21 L462.71,1170.19 L462.99,1170.44 L463.27,1170.93 L463.56,1171.18 L463.84,1170.69 L464.12,1170.14 L464.40,1170.23 L464.69,1170.45 L464.97,1170.44 L465.25,1170.49 L465.53,1170.61 L465.82,1170.63 L466.10,1170.33 L466.38,1169.98 L466.66,1169.73 L466.95,1169.22 L467.23,1168.73 L467.51,1168.87 L467.79,1169.40 L468.07,1169.68 L468.36,1169.69 L468.64,1169.55 L468.92,1169.16 L469.20,1168.83 L469.48,1168.72 L469.77,1168.62 L470.05,1168.51 L470.33,1168.52 L470.61,1168.18 L470.89,1167.41 L471.17,1167.32 L471.45,1167.79 L471.74,1167.80 L472.02,1167.33 L472.30,1166.59 L472.58,1165.81 L472.86,1165.30 L473.14,1164.88 L473.42,1164.34 L473.70,1163.80 L473.98,1163.27 L474.27,1162.71 L474.55,1162.30 L474.83,1161.56 L475.11,1159.53 L475.39,1157.29 L475.67,1155.81 L475.95,1153.36 L476.23,1149.43 L476.51,1144.86 L476.79,1137.96 L477.07,1127.30 L477.35,1112.81 L477.63,1093.26 L477.91,1066.68 L478.19,1032.09 L478.47,991.44 L478.75,949.10 L479.03,913.50 L479.31,900.44 L479.59,906.90 L479.87,938.14 L480.15,979.46 L480.43,1019.67 L480.71,1055.33 L480.99,1085.45 L481.27,1107.84 L481.55,1123.52 L481.83,1134.36 L482.11,1141.22 L482.39,1146.12 L482.67,1149.93 L482.95,1152.03 L483.23,1153.22 L483.51,1154.40 L483.79,1155.69 L484.07,1156.95 L484.35,1157.77 L484.62,1157.92 L484.90,1157.25 L485.18,1156.33 L485.46,1155.74 L485.74,1154.83 L486.02,1153.76 L486.30,1151.99 L486.58,1147.80 L486.85,1140.81 L487.13,1130.77 L487.41,1118.58 L487.69,1104.40 L487.97,1086.87 L488.25,1068.86 L488.53,1055.58 L488.80,1049.08 L489.08,1056.30 L489.36,1070.35 L489.64,1088.70 L489.92,1106.36 L490.19,1121.82 L490.47,1134.16 L490.75,1143.55 L491.03,1151.16 L491.31,1156.13 L491.58,1159.10 L491.86,1161.54 L492.14,1163.14 L492.42,1163.96 L492.70,1164.87 L492.97,1165.84 L493.25,1166.20 L493.53,1166.10 L493.81,1166.63 L494.08,1167.39 L494.36,1167.25 L494.64,1167.45 L494.91,1168.42 L495.19,1168.78 L495.47,1168.60 L495.75,1168.69 L496.02,1168.74 L496.30,1168.81 L496.58,1169.17 L496.85,1169.30 L497.13,1169.21 L497.41,1169.03 L497.68,1168.82 L497.96,1168.99 L498.24,1169.55 L498.51,1169.58 L498.79,1169.20 L499.07,1169.41 L499.34,1170.02 L499.62,1170.31 L499.90,1170.32 L500.17,1170.57 L500.45,1170.95 L500.73,1171.16 L501.00,1171.08 L501.28,1171.11 L501.55,1171.45 L501.83,1171.43 L502.11,1171.29 L502.38,1171.50 L502.66,1171.59 L502.93,1171.51 L503.21,1171.29 L503.48,1170.99 L503.76,1170.88 L504.04,1170.55 L504.31,1170.54 L504.59,1170.92 L504.86,1170.94 L505.14,1171.01 L505.41,1171.16 L505.69,1171.04 L505.96,1170.79 L506.24,1170.48 L506.51,1170.57 L506.79,1171.01 L507.06,1170.97 L507.34,1170.49 L507.61,1170.63 L507.89,1170.96 L508.16,1170.56 L508.44,1170.14 L508.71,1170.07 L508.99,1170.38 L509.26,1170.60 L509.54,1170.26 L509.81,1170.01 L510.09,1170.56 L510.36,1171.05 L510.64,1170.97 L510.91,1171.24 L511.19,1171.56 L511.46,1171.77 L511.73,1172.05 L512.01,1172.08 L512.28,1171.99 L512.56,1171.86 L512.83,1171.76 L513.10,1171.96 L513.38,1172.15 L513.65,1171.79 L513.93,1171.28 L514.20,1171.22 L514.47,1171.35 L514.75,1171.25 L515.02,1171.00 L515.29,1170.74 L515.57,1170.80 L515.84,1171.24 L516.12,1171.20 L516.39,1170.63 L516.66,1170.30 L516.94,1170.76 L517.21,1171.49 L517.48,1171.82 L517.75,1171.80 L518.03,1171.23 L518.30,1170.90 L518.57,1171.07 L518.85,1171.00 L519.12,1170.94 L519.39,1171.09 L519.67,1171.09 L519.94,1171.14 L520.21,1171.30 L520.48,1171.39 L520.76,1171.65 L521.03,1171.77 L521.30,1171.41 L521.57,1171.23 L521.85,1171.29 L522.12,1171.09 L522.39,1171.16 L522.66,1171.53 L522.94,1171.52 L523.21,1171.49 L523.48,1171.49 L523.75,1171.38 L524.02,1171.51 L524.30,1171.50 L524.57,1171.30 L524.84,1171.23 L525.11,1171.02 L525.38,1170.92 L525.66,1171.35 L525.93,1171.76 L526.20,1171.84 L526.47,1171.50 L526.74,1171.07 L527.01,1171.19 L527.29,1171.61 L527.56,1171.51 L527.83,1171.17 L528.10,1171.13 L528.37,1171.24 L528.64,1171.24 L528.91,1170.86 L529.18,1170.68 L529.46,1171.03 L529.73,1171.36 L530.00,1171.34 L530.27,1171.20 L530.54,1171.25 L530.81,1171.45 L531.08,1171.58 L531.35,1171.44 L531.62,1171.64 L531.89,1172.43 L532.16,1172.82 L532.43,1172.70 L532.71,1172.64 L532.98,1172.47 L533.25,1171.99 L533.52,1171.76 L533.79,1171.89 L534.06,1171.85 L534.33,1171.59 L534.60,1171.37 L534.87,1171.40 L535.14,1171.41 L535.41,1171.40 L535.68,1171.36 L535.95,1171.43 L536.22,1171.84 L536.49,1171.77 L536.76,1171.27 L537.03,1171.08 L537.30,1170.96 L537.57,1170.83 L537.84,1170.83 L538.11,1170.56 L538.38,1170.60 L538.64,1170.93 L538.91,1170.68 L539.18,1170.37 L539.45,1170.95 L539.72,1171.54 L539.99,1171.18 L540.26,1171.22 L540.53,1171.53 L540.80,1171.38 L541.07,1171.37 L541.34,1171.21 L541.61,1171.08 L541.87,1171.09 L542.14,1171.04 L542.41,1171.11 L542.68,1171.06 L542.95,1171.01 L543.22,1170.69 L543.49,1170.29 L543.76,1170.66 L544.02,1171.10 L544.29,1171.09 L544.56,1171.03 L544.83,1170.90 L545.10,1170.77 L545.37,1170.77 L545.63,1170.86 L545.90,1170.88 L546.17,1170.59 L546.44,1170.49 L546.71,1170.77 L546.97,1170.81 L547.24,1170.52 L547.51,1170.21 L547.78,1170.36 L548.05,1170.82 L548.31,1171.12 L548.58,1171.44 L548.85,1171.45 L549.12,1171.10 L549.38,1170.82 L549.65,1170.89 L549.92,1171.38 L550.19,1171.64 L550.45,1171.40 L550.72,1171.24 L550.99,1171.20 L551.26,1171.11 L551.52,1171.00 L551.79,1170.91 L552.06,1171.05 L552.32,1171.19 L552.59,1171.19 L552.86,1171.34 L553.12,1171.17 L553.39,1170.85 L553.66,1171.27 L553.92,1171.57 L554.19,1171.16 L554.46,1170.94 L554.72,1171.13 L554.99,1171.37 L555.26,1171.55 L555.52,1171.75 L555.79,1171.63 L556.06,1171.31 L556.32,1171.50 L556.59,1171.74 L556.86,1171.38 L557.12,1170.82 L557.39,1170.89 L557.65,1171.28 L557.92,1171.24 L558.19,1170.95 L558.45,1171.08 L558.72,1171.35 L558.98,1171.14 L559.25,1171.17 L559.52,1171.43 L559.78,1171.27 L560.05,1170.81 L560.31,1170.64 L560.58,1170.94 L560.84,1171.28 L561.11,1171.46 L561.37,1171.27 L561.64,1171.33 L561.90,1171.80 L562.17,1171.66 L562.44,1171.50 L562.70,1171.80 L562.97,1171.59 L563.23,1171.40 L563.50,1171.67 L563.76,1171.51 L564.03,1171.04 L564.29,1171.00 L564.56,1171.10 L564.82,1170.81 L565.08,1170.54 L565.35,1170.37 L565.61,1170.34 L565.88,1170.52 L566.14,1170.87 L566.41,1171.38 L566.67,1171.49 L566.94,1171.20 L567.20,1170.75 L567.47,1170.63 L567.73,1170.96 L567.99,1171.04 L568.26,1171.11 L568.52,1170.87 L568.79,1170.22 L569.05,1169.94 L569.31,1169.73 L569.58,1169.91 L569.84,1170.68 L570.11,1170.63 L570.37,1169.92 L570.63,1170.10 L570.90,1170.31 L571.16,1169.86 L571.42,1169.76 L571.69,1169.91 L571.95,1169.74 L572.21,1169.43 L572.48,1169.17 L572.74,1169.04 L573.01,1169.16 L573.27,1169.10 L573.53,1168.78 L573.79,1168.55 L574.06,1168.51 L574.32,1168.74 L574.58,1169.03 L574.85,1168.92 L575.11,1168.73 L575.37,1168.98 L575.64,1169.14 L575.90,1169.10 L576.16,1168.91 L576.42,1169.04 L576.69,1169.55 L576.95,1169.78 L577.21,1169.61 L577.47,1169.20 L577.74,1169.43 L578.00,1169.85 L578.26,1169.35 L578.52,1168.44 L578.79,1167.93 L579.05,1168.05 L579.31,1168.37 L579.57,1167.97 L579.83,1167.46 L580.10,1167.63 L580.36,1167.75 L580.62,1167.72 L580.88,1167.33 L581.14,1166.52 L581.41,1166.14 L581.67,1166.02 L581.93,1165.64 L582.19,1165.03 L582.45,1164.61 L582.71,1164.57 L582.98,1164.44 L583.24,1163.64 L583.50,1162.45 L583.76,1161.81 L584.02,1161.03 L584.28,1159.23 L584.54,1156.89 L584.81,1154.07 L585.07,1150.98 L585.33,1147.25 L585.59,1141.19 L585.85,1132.17 L586.11,1119.53 L586.37,1101.67 L586.63,1078.81 L586.89,1052.68 L587.15,1023.99 L587.42,993.23 L587.68,968.55 L587.94,959.71 L588.20,968.41 L588.46,991.42 L588.72,1022.81 L588.98,1053.69 L589.24,1080.32 L589.50,1102.46 L589.76,1119.33 L590.02,1131.65 L590.28,1140.71 L590.54,1146.80 L590.80,1151.09 L591.06,1154.18 L591.32,1156.09 L591.58,1157.79 L591.84,1159.18 L592.10,1159.70 L592.36,1160.12 L592.62,1161.00 L592.88,1161.42 L593.14,1160.88 L593.40,1160.47 L593.66,1160.45 L593.92,1160.56 L594.18,1160.37 L594.44,1159.40 L594.70,1157.41 L594.96,1154.60 L595.22,1151.37 L595.47,1146.93 L595.73,1140.73 L595.99,1131.79 L596.25,1119.53 L596.51,1105.32 L596.77,1091.24 L597.03,1080.37 L597.29,1073.35 L597.55,1074.92 L597.81,1083.11 L598.07,1095.07 L598.32,1108.59 L598.58,1122.39 L598.84,1134.41 L599.10,1143.50 L599.36,1149.52 L599.62,1154.41 L599.88,1158.44 L600.13,1161.29 L600.39,1163.29 L600.65,1164.66 L600.91,1165.47 L601.17,1165.97 L601.43,1166.30 L601.68,1166.58 L601.94,1167.17 L602.20,1167.78 L602.46,1167.88 L602.72,1167.94 L602.97,1168.35 L603.23,1168.82 L603.49,1169.44 L603.75,1169.47 L604.01,1169.06 L604.26,1168.61 L604.52,1167.86 L604.78,1168.17 L605.04,1169.42 L605.29,1169.82 L605.55,1169.28 L605.81,1168.75 L606.07,1168.85 L606.32,1169.50 L606.58,1170.11 L606.84,1170.52 L607.09,1170.86 L607.35,1170.56 L607.61,1169.83 L607.87,1169.79 L608.12,1170.19 L608.38,1169.93 L608.64,1169.57 L608.89,1169.89 L609.15,1170.17 L609.41,1170.04 L609.66,1170.04 L609.92,1170.30 L610.18,1170.55 L610.43,1170.56 L610.69,1170.51 L610.95,1170.37 L611.20,1170.00 L611.46,1169.85 L611.72,1169.75 L611.97,1169.54 L612.23,1169.58 L612.49,1169.86 L612.74,1170.27 L613.00,1170.24 L613.25,1170.05 L613.51,1170.54 L613.77,1170.99 L614.02,1170.90 L614.28,1170.61 L614.53,1170.32 L614.79,1170.30 L615.04,1170.78 L615.30,1171.11 L615.56,1170.67 L615.81,1170.35 L616.07,1170.58 L616.32,1170.71 L616.58,1170.47 L616.83,1170.40 L617.09,1170.95 L617.34,1171.48 L617.60,1171.44 L617.86,1171.49 L618.11,1171.59 L618.37,1171.36 L618.62,1171.28 L618.88,1171.21 L619.13,1171.20 L619.39,1171.11 L619.64,1170.93 L619.90,1171.26 L620.15,1171.43 L620.41,1171.06 L620.66,1170.86 L620.91,1171.12 L621.17,1171.26 L621.42,1170.92 L621.68,1170.51 L621.93,1170.44 L622.19,1170.82 L622.44,1171.15 L622.70,1171.46 L622.95,1171.64 L623.20,1171.25 L623.46,1171.10 L623.71,1171.48 L623.97,1171.73 L624.22,1171.47 L624.48,1171.11 L624.73,1171.12 L624.98,1171.24 L625.24,1171.31 L625.49,1171.32 L625.75,1171.60 L626.00,1171.82 L626.25,1171.31 L626.51,1171.21 L626.76,1171.62 L627.01,1171.52 L627.27,1171.45 L627.52,1171.59 L627.77,1171.73 L628.03,1171.83 L628.28,1171.36 L628.53,1171.18 L628.79,1171.59 L629.04,1171.42 L629.29,1171.05 L629.55,1171.31 L629.80,1171.75 L630.05,1171.82 L630.31,1171.63 L630.56,1171.48 L630.81,1171.63 L631.07,1171.78 L631.32,1171.57 L631.57,1171.49 L631.82,1171.60 L632.08,1171.92 L632.33,1172.16 L632.58,1172.09 L632.83,1172.02 L633.09,1171.76 L633.34,1171.33 L633.59,1171.17 L633.84,1171.44 L634.10,1171.74 L634.35,1171.65 L634.60,1171.25 L634.85,1171.14 L635.10,1171.42 L635.36,1171.64 L635.61,1171.65 L635.86,1171.36 L636.11,1171.55 L636.36,1172.09 L636.62,1171.86 L636.87,1171.90 L637.12,1172.14 L637.37,1171.71 L637.62,1171.37 L637.88,1171.50 L638.13,1171.37 L638.38,1170.84 L638.63,1170.88 L638.88,1170.91 L639.13,1170.47 L639.38,1170.32 L639.64,1170.25 L639.89,1170.51 L640.14,1170.81 L640.39,1170.48 L640.64,1170.45 L640.89,1170.50 L641.14,1170.51 L641.39,1170.79 L641.64,1170.72 L641.90,1170.62 L642.15,1170.75 L642.40,1171.05 L642.65,1171.53 L642.90,1171.72 L643.15,1171.45 L643.40,1170.56 L643.65,1169.89 L643.90,1170.44 L644.15,1171.02 L644.40,1170.90 L644.65,1170.63 L644.90,1170.82 L645.15,1171.08 L645.40,1170.91 L645.65,1170.81 L645.90,1171.16 L646.15,1171.81 L646.40,1171.84 L646.65,1171.57 L646.90,1171.69 L647.15,1171.48 L647.40,1171.26 L647.65,1171.34 L647.90,1171.35 L648.15,1171.34 L648.40,1171.44 L648.65,1171.60 L648.90,1171.19 L649.15,1170.54 L649.40,1170.68 L649.65,1171.07 L649.90,1171.33 L650.15,1171.50 L650.40,1171.43 L650.65,1171.24 L650.90,1171.20 L651.15,1171.73 L651.40,1172.12 L651.65,1171.61 L651.89,1170.73 L652.14,1170.21 L652.39,1170.59 L652.64,1171.18 L652.89,1171.28 L653.14,1171.20 L653.39,1171.13 L653.64,1171.27 L653.89,1171.23 L654.13,1170.75 L654.38,1170.55 L654.63,1170.59 L654.88,1170.25 L655.13,1169.96 L655.38,1170.31 L655.63,1170.52 L655.87,1170.57 L656.12,1170.74 L656.37,1170.62 L656.62,1170.70 L656.87,1170.79 L657.11,1170.32 L657.36,1170.12 L657.61,1170.38 L657.86,1170.38 L658.11,1170.63 L658.35,1170.97 L658.60,1170.91 L658.85,1171.27 L659.10,1171.69 L659.35,1171.67 L659.59,1171.46 L659.84,1171.33 L660.09,1171.25 L660.34,1171.03 L660.58,1171.23 L660.83,1171.69 L661.08,1171.70 L661.33,1171.71 L661.57,1172.18 L661.82,1172.30 L662.07,1171.70 L662.32,1171.09 L662.56,1170.95 L662.81,1171.03 L663.06,1171.33 L663.30,1171.60 L663.55,1171.54 L663.80,1171.32 L664.04,1170.92 L664.29,1170.84 L664.54,1170.95 L664.78,1170.89 L665.03,1170.91 L665.28,1170.98 L665.52,1171.13 L665.77,1171.51 L666.02,1171.62 L666.26,1171.10 L666.51,1170.59 L666.76,1170.69 L667.00,1170.93 L667.25,1170.96 L667.50,1170.97 L667.74,1170.97 L667.99,1170.99 L668.23,1170.63 L668.48,1170.15 L668.73,1170.13 L668.97,1170.42 L669.22,1170.95 L669.46,1171.18 L669.71,1170.93 L669.96,1170.80 L670.20,1170.79 L670.45,1170.79 L670.69,1170.79 L670.94,1170.53 L671.18,1170.65 L671.43,1171.03 L671.68,1170.94 L671.92,1170.72 L672.17,1170.67 L672.41,1170.78 L672.66,1170.70 L672.90,1170.95 L673.15,1171.69 L673.39,1171.61 L673.64,1170.95 L673.88,1170.58 L674.13,1170.40 L674.37,1170.68 L674.62,1170.99 L674.86,1170.91 L675.11,1170.93 L675.35,1170.99 L675.60,1170.90 L675.84,1170.96 L676.09,1171.31 L676.33,1171.64 L676.58,1171.30 L676.82,1170.65 L677.06,1170.88 L677.31,1171.30 L677.55,1171.25 L677.80,1171.07 L678.04,1170.74 L678.29,1170.42 L678.53,1170.34 L678.77,1170.45 L679.02,1170.58 L679.26,1170.36 L679.51,1170.09 L679.75,1170.20 L680.00,1170.62 L680.24,1170.88 L680.48,1170.53 L680.73,1170.10 L680.97,1170.42 L681.21,1171.01 L681.46,1170.79 L681.70,1170.37 L681.95,1170.37 L682.19,1170.36 L682.43,1170.07 L682.68,1169.81 L682.92,1169.89 L683.16,1169.99 L683.41,1169.96 L683.65,1169.86 L683.89,1169.79 L684.14,1170.06 L684.38,1169.96 L684.62,1169.49 L684.87,1169.52 L685.11,1169.47 L685.35,1169.18 L685.59,1168.86 L685.84,1168.43 L686.08,1167.99 L686.32,1167.72 L686.57,1167.24 L686.81,1166.07 L687.05,1164.98 L687.29,1164.39 L687.54,1163.86 L687.78,1162.89 L688.02,1160.99 L688.26,1158.53 L688.51,1155.34 L688.75,1150.69 L688.99,1144.72 L689.23,1137.23 L689.48,1128.04 L689.72,1116.92 L689.96,1104.45 L690.20,1092.93 L690.44,1085.50 L690.69,1082.04 L690.93,1088.84 L691.17,1098.30 L691.41,1110.14 L691.65,1121.04 L691.90,1131.38 L692.14,1140.93 L692.38,1148.13 L692.62,1153.26 L692.86,1156.92 L693.10,1159.45 L693.34,1161.97 L693.59,1163.99 L693.83,1164.81 L694.07,1165.61 L694.31,1166.34 L694.55,1166.65 L694.79,1166.80 L695.03,1166.78 L695.28,1166.73 L695.52,1167.00 L695.76,1167.53 L696.00,1167.79 L696.24,1167.44 L696.48,1166.76 L696.72,1166.05 L696.96,1165.86 L697.20,1166.05 L697.44,1165.50 L697.68,1164.48 L697.93,1163.17 L698.17,1161.20 L698.41,1158.69 L698.65,1155.50 L698.89,1151.22 L699.13,1145.69 L699.37,1139.51 L699.61,1134.36 L699.85,1131.56 L700.09,1129.71 L700.33,1132.17 L700.57,1135.81 L700.81,1140.76 L701.05,1146.49 L701.29,1151.89 L701.53,1156.35 L701.77,1159.58 L702.01,1161.60 L702.25,1163.39 L702.49,1165.17 L702.73,1166.63 L702.97,1167.86 L703.21,1168.49 L703.45,1168.63 L703.69,1168.71 L703.93,1168.66 L704.17,1169.06 L704.41,1169.59 L704.65,1169.70 L704.89,1169.56 L705.13,1169.25 L705.36,1169.35 L705.60,1169.71 L705.84,1169.83 L706.08,1169.84 L706.32,1169.93 L706.56,1169.95 L706.80,1169.74 L707.04,1169.66 L707.28,1169.77 L707.52,1169.90 L707.76,1170.09 L707.99,1169.85 L708.23,1169.49 L708.47,1170.11 L708.71,1170.49 L708.95,1170.05 L709.19,1170.09 L709.43,1170.77 L709.66,1171.28 L709.90,1171.27 L710.14,1171.10 L710.38,1170.90 L710.62,1170.53 L710.86,1170.11 L711.10,1170.17 L711.33,1170.50 L711.57,1170.38 L711.81,1170.07 L712.05,1170.13 L712.29,1170.61 L712.52,1170.83 L712.76,1170.43 L713.00,1170.35 L713.24,1170.52 L713.48,1170.19 L713.71,1170.22 L713.95,1171.03 L714.19,1171.57 L714.43,1171.46 L714.66,1171.14 L714.90,1171.17 L715.14,1171.09 L715.38,1170.27 L715.61,1170.17 L715.85,1171.23 L716.09,1171.78 L716.33,1171.43 L716.56,1170.94 L716.80,1170.73 L717.04,1170.94 L717.27,1171.56 L717.51,1171.85 L717.75,1171.36 L717.99,1171.06 L718.22,1171.24 L718.46,1171.21 L718.70,1171.18 L718.93,1171.40 L719.17,1171.46 L719.41,1171.38 L719.64,1171.23 L719.88,1170.97 L720.12,1170.99 L720.35,1171.07 L720.59,1171.05 L720.83,1170.99 L721.06,1170.90 L721.30,1170.97 L721.54,1171.38 L721.77,1171.64 L722.01,1171.42 L722.24,1171.45 L722.48,1171.70 L722.72,1171.79 L722.95,1171.72 L723.19,1171.43 L723.42,1171.25 L723.66,1170.83 L723.90,1170.36 L724.13,1170.62 L724.37,1170.84 L724.60,1170.81 L724.84,1171.03 L725.08,1171.03 L725.31,1170.64 L725.55,1170.92 L725.78,1171.60 L726.02,1171.39 L726.25,1171.06 L726.49,1170.87 L726.72,1170.62 L726.96,1170.64 L727.19,1170.66 L727.43,1170.80 L727.66,1170.77 L727.90,1170.60 L728.13,1170.75 L728.37,1170.90 L728.61,1171.05 L728.84,1170.90 L729.07,1170.45 L729.31,1170.54 L729.54,1171.10 L729.78,1170.90 L730.01,1170.39 L730.25,1170.88 L730.48,1171.29 L730.72,1171.22 L730.95,1171.42 L731.19,1171.39 L731.42,1171.03 L731.66,1171.05 L731.89,1171.19 L732.13,1171.16 L732.36,1171.38 L732.59,1171.58 L732.83,1171.56 L733.06,1171.47 L733.30,1171.28 L733.53,1171.34 L733.76,1171.49 L734.00,1171.41 L734.23,1171.42 L734.47,1171.41 L734.70,1171.07 L734.93,1170.73 L735.17,1170.59 L735.40,1170.35 L735.64,1170.33 L735.87,1170.80 L736.10,1171.21 L736.34,1171.19 L736.57,1170.84 L736.80,1170.42 L737.04,1170.54 L737.27,1170.93 L737.50,1170.68 L737.74,1170.12 L737.97,1170.02 L738.20,1170.47 L738.44,1171.05 L738.67,1171.40 L738.90,1171.45 L739.14,1171.44 L739.37,1171.46 L739.60,1171.52 L739.84,1171.50 L740.07,1171.14 L740.30,1170.76 L740.53,1170.71 L740.77,1170.74 L741.00,1170.52 L741.23,1170.71 L741.46,1171.24 L741.70,1171.38 L741.93,1171.43 L742.16,1171.33 L742.40,1171.01 L742.63,1170.73 L742.86,1170.26 L743.09,1170.13 L743.32,1170.62 L743.56,1171.03 L743.79,1171.10 L744.02,1170.98 L744.25,1170.98 L744.49,1171.05 L744.72,1170.94 L744.95,1170.74 L745.18,1170.38 L745.41,1169.98 L745.65,1170.02 L745.88,1170.59 L746.11,1171.18 L746.34,1171.20 L746.57,1170.99 L746.80,1171.15 L747.04,1171.21 L747.27,1171.02 L747.50,1170.84 L747.73,1170.36 L747.96,1170.16 L748.19,1170.60 L748.42,1171.09 L748.66,1171.36 L748.89,1171.30 L749.12,1171.39 L749.35,1171.76 L749.58,1171.56 L749.81,1171.16 L750.04,1171.54 L750.27,1171.73 L750.50,1171.33 L750.74,1171.11 L750.97,1171.14 L751.20,1171.37 L751.43,1171.47 L751.66,1171.24 L751.89,1171.40 L752.12,1171.49 L752.35,1171.10 L752.58,1170.99 L752.81,1171.18 L753.04,1171.57 L753.27,1171.68 L753.50,1171.42 L753.73,1171.07 L753.96,1170.92 L754.19,1171.11 L754.42,1171.08 L754.65,1170.89 L754.88,1170.60 L755.11,1170.50 L755.34,1170.29 L755.57,1169.86 L755.80,1169.88 L756.03,1170.16 L756.26,1170.47 L756.49,1170.41 L756.72,1170.15 L756.95,1170.17 L757.18,1170.37 L757.41,1170.90 L757.64,1171.26 L757.87,1170.92 L758.10,1170.57 L758.33,1170.27 L758.56,1169.67 L758.79,1169.37 L759.02,1169.59 L759.25,1169.76 L759.48,1169.81 L759.71,1169.89 L759.94,1170.08 L760.17,1170.40 L760.40,1170.52 L760.62,1170.21 L760.85,1169.92 L761.08,1169.96 L761.31,1170.36 L761.54,1170.91 L761.77,1170.93 L762.00,1170.71 L762.23,1170.98 L762.46,1171.61 L762.68,1172.08 L762.91,1172.02 L763.14,1171.20 L763.37,1170.49 L763.60,1170.90 L763.83,1171.37 L764.06,1171.20 L764.28,1171.06 L764.51,1171.07 L764.74,1171.25 L764.97,1171.42 L765.20,1171.10 L765.43,1170.66 L765.65,1170.44 L765.88,1170.54 L766.11,1170.73 L766.34,1170.58 L766.57,1170.52 L766.79,1170.44 L767.02,1170.28 L767.25,1170.42 L767.48,1170.40 L767.70,1170.17 L767.93,1170.02 L768.16,1169.84 L768.39,1169.73 L768.62,1169.97 L768.84,1169.92 L769.07,1169.57 L769.30,1169.81 L769.53,1170.23 L769.75,1170.72 L769.98,1171.13 L770.21,1170.86 L770.43,1170.40 L770.66,1170.27 L770.89,1170.27 L771.12,1170.12 L771.34,1169.97 L771.57,1170.09 L771.80,1170.34 L772.02,1170.47 L772.25,1170.59 L772.48,1170.42 L772.70,1170.16 L772.93,1170.33 L773.16,1170.23 L773.39,1170.21 L773.61,1170.32 L773.84,1169.89 L774.06,1169.61 L774.29,1169.60 L774.52,1169.78 L774.74,1169.90 L774.97,1169.55 L775.20,1169.18 L775.42,1169.00 L775.65,1169.34 L775.88,1169.65 L776.10,1169.22 L776.33,1168.92 L776.55,1169.02 L776.78,1169.27 L777.01,1169.45 L777.23,1169.36 L777.46,1168.91 L777.68,1168.48 L777.91,1168.98 L778.14,1169.51 L778.36,1169.10 L778.59,1168.73 L778.81,1169.33 L779.04,1169.60 L779.26,1168.92 L779.49,1168.84 L779.72,1169.10 L779.94,1169.12 L780.17,1169.47 L780.39,1169.44 L780.62,1169.01 L780.84,1168.88 L781.07,1168.75 L781.29,1168.48 L781.52,1168.25 L781.74,1168.49 L781.97,1168.65 L782.19,1168.11 L782.42,1167.60 L782.64,1167.23 L782.87,1166.79 L783.09,1166.48 L783.32,1166.78 L783.54,1166.97 L783.77,1166.12 L783.99,1165.21 L784.22,1164.79 L784.44,1163.92 L784.67,1162.68 L784.89,1161.60 L785.11,1160.21 L785.34,1158.79 L785.56,1157.01 L785.79,1153.61 L786.01,1148.45 L786.24,1142.02 L786.46,1134.32 L786.69,1124.29 L786.91,1111.13 L787.13,1095.76 L787.36,1079.41 L787.58,1062.37 L787.81,1048.18 L788.03,1043.70 L788.25,1046.51 L788.48,1055.73 L788.70,1069.35 L788.92,1086.25 L789.15,1103.42 L789.37,1118.51 L789.60,1130.24 L789.82,1138.66 L790.04,1145.49 L790.27,1151.19 L790.49,1154.83 L790.71,1157.30 L790.94,1159.68 L791.16,1160.98 L791.38,1161.20 L791.61,1161.52 L791.83,1162.01 L792.05,1162.23 L792.28,1162.44 L792.50,1163.10 L792.72,1163.47 L792.95,1163.13 L793.17,1163.15 L793.39,1163.85 L793.61,1164.39 L793.84,1164.68 L794.06,1164.92 L794.28,1164.93 L794.51,1164.72 L794.73,1163.64 L794.95,1162.22 L795.17,1160.91 L795.40,1159.18 L795.62,1157.19 L795.84,1154.43 L796.06,1150.31 L796.29,1145.03 L796.51,1138.66 L796.73,1131.16 L796.95,1123.94 L797.17,1118.92 L797.40,1115.90 L797.62,1115.14 L797.84,1117.08 L798.06,1123.09 L798.29,1130.24 L798.51,1136.88 L798.73,1143.80 L798.95,1150.04 L799.17,1153.73 L799.39,1156.71 L799.62,1159.83 L799.84,1162.12 L800.06,1163.46 L800.28,1164.67 L800.50,1165.79 L800.72,1166.18 L800.95,1166.35 L801.17,1166.58 L801.39,1167.09 L801.61,1167.73 L801.83,1167.92 L802.05,1167.97 L802.27,1168.12 L802.50,1168.38 L802.72,1168.89 L802.94,1169.24 L803.16,1169.34 L803.38,1169.49 L803.60,1169.36 L803.82,1169.32 L804.04,1169.79 L804.26,1169.79 L804.48,1169.44 L804.71,1169.55 L804.93,1169.86 L805.15,1170.20 L805.37,1170.29 L805.59,1169.84 L805.81,1169.40 L806.03,1169.84 L806.25,1170.37 L806.47,1170.05 L806.69,1169.68 L806.91,1169.98 L807.13,1170.42 L807.35,1170.04 L807.57,1169.66 L807.79,1170.00 L808.01,1170.17 L808.23,1170.32 L808.45,1170.43 L808.67,1170.00 L808.89,1169.39 L809.11,1169.40 L809.33,1169.89 L809.55,1170.13 L809.77,1170.38 L809.99,1170.43 L810.21,1169.73 L810.43,1169.13 L810.65,1169.33 L810.87,1169.69 L811.09,1169.53 L811.31,1169.58 L811.53,1170.00 L811.75,1170.19 L811.97,1170.17 L812.19,1169.84 L812.41,1169.71 L812.63,1170.33 L812.85,1170.53 L813.07,1170.12 L813.28,1170.37 L813.50,1170.95 L813.72,1170.98 L813.94,1170.81 L814.16,1170.62 L814.38,1170.25 L814.60,1170.11 L814.82,1170.31 L815.04,1170.52 L815.25,1170.48 L815.47,1170.04 L815.69,1169.91 L815.91,1170.37 L816.13,1170.32 L816.35,1169.72 L816.57,1169.87 L816.79,1170.64 L817.00,1170.89 L817.22,1170.35 L817.44,1169.94 L817.66,1170.15 L817.88,1170.31 L818.10,1170.15 L818.31,1169.73 L818.53,1169.73 L818.75,1170.24 L818.97,1170.34 L819.19,1170.26 L819.40,1170.49 L819.62,1170.48 L819.84,1170.15 L820.06,1170.05 L820.28,1169.97 L820.49,1170.03 L820.71,1170.42 L820.93,1170.65 L821.15,1170.83 L821.36,1170.87 L821.58,1170.81 L821.80,1171.09 L822.02,1171.10 L822.23,1170.58 L822.45,1170.66 L822.67,1171.30 L822.89,1171.39 L823.10,1170.72 L823.32,1170.05 L823.54,1169.73 L823.76,1169.75 L823.97,1169.90 L824.19,1170.03 L824.41,1170.17 L824.62,1169.80 L824.84,1169.49 L825.06,1169.69 L825.27,1169.71 L825.49,1169.54 L825.71,1169.30 L825.93,1169.30 L826.14,1169.53 L826.36,1169.62 L826.58,1169.99 L826.79,1170.28 L827.01,1170.19 L827.23,1170.14 L827.44,1170.08 L827.66,1169.98 L827.87,1169.71 L828.09,1169.46 L828.31,1169.79 L828.52,1170.17 L828.74,1170.07 L828.96,1170.05 L829.17,1170.37 L829.39,1170.70 L829.60,1170.58 L829.82,1170.14 L830.04,1169.83 L830.25,1169.89 L830.47,1169.98 L830.68,1170.00 L830.90,1170.09 L831.12,1169.85 L831.33,1169.47 L831.55,1169.39 L831.76,1169.65 L831.98,1170.08 L832.19,1170.40 L832.41,1170.46 L832.62,1170.35 L832.84,1170.66 L833.06,1171.06 L833.27,1170.90 L833.49,1170.98 L833.70,1171.50 L833.92,1171.31 L834.13,1170.66 L834.35,1170.59 L834.56,1170.96 L834.78,1170.93 L834.99,1170.27 L835.21,1169.95 L835.42,1170.29 L835.64,1170.52 L835.85,1170.11 L836.07,1169.82 L836.28,1170.05 L836.50,1170.19 L836.71,1170.03 L836.93,1169.84 L837.14,1169.92 L837.36,1170.23 L837.57,1170.62 L837.78,1170.51 L838.00,1169.76 L838.21,1169.37 L838.43,1169.47 L838.64,1169.77 L838.86,1170.27 L839.07,1170.43 L839.28,1170.40 L839.50,1170.31 L839.71,1170.36 L839.93,1170.89 L840.14,1171.11 L840.36,1171.00 L840.57,1170.85 L840.78,1170.84 L841.00,1170.94 L841.21,1170.43 L841.42,1170.06 L841.64,1170.02 L841.85,1169.57 L842.07,1169.35 L842.28,1169.64 L842.49,1169.73 L842.71,1169.62 L842.92,1169.68 L843.13,1169.90 L843.35,1169.86 L843.56,1169.64 L843.77,1169.55 L843.99,1169.33 L844.20,1169.38 L844.41,1169.69 L844.63,1169.73 L844.84,1169.79 L845.05,1169.76 L845.27,1169.64 L845.48,1169.78 L845.69,1170.23 L845.91,1170.48 L846.12,1170.37 L846.33,1170.45 L846.54,1170.15 L846.76,1169.41 L846.97,1169.38 L847.18,1170.09 L847.39,1170.41 L847.61,1170.17 L847.82,1170.06 L848.03,1170.22 L848.25,1170.26 L848.46,1169.75 L848.67,1169.72 L848.88,1170.42 L849.09,1170.63 L849.31,1170.27 L849.52,1170.18 L849.73,1170.37 L849.94,1170.12 L850.16,1169.94 L850.37,1169.89 L850.58,1169.89 L850.79,1170.36 L851.00,1170.52 L851.22,1170.13 L851.43,1169.87 L851.64,1170.16 L851.85,1170.41 L852.06,1170.39 L852.27,1170.65 L852.49,1170.91 L852.70,1170.84 L852.91,1170.35 L853.12,1170.16 L853.33,1170.72 L853.54,1170.91 L853.76,1170.80 L853.97,1170.56 L854.18,1170.08 L854.39,1169.95 L854.60,1170.15 L854.81,1170.44 L855.02,1170.45 L855.23,1170.17 L855.45,1170.13 L855.66,1170.06 L855.87,1169.96 L856.08,1170.22 L856.29,1170.11 L856.50,1169.72 L856.71,1169.65 L856.92,1169.79 L857.13,1169.92 L857.34,1169.92 L857.55,1169.85 L857.77,1169.58 L857.98,1169.53 L858.19,1169.59 L858.40,1169.54 L858.61,1169.91 L858.82,1170.07 L859.03,1169.78 L859.24,1169.70 L859.45,1169.79 L859.66,1169.84 L859.87,1170.00 L860.08,1170.49 L860.29,1170.92 L860.50,1170.70 L860.71,1170.47 L860.92,1170.89 L861.13,1171.15 L861.34,1170.73 L861.55,1170.11 L861.76,1169.93 L861.97,1169.95 L862.18,1169.64 L862.39,1169.31 L862.60,1169.05 L862.81,1169.13 L863.02,1169.41 L863.23,1169.33 L863.44,1169.12 L863.65,1168.93 L863.86,1168.85 L864.07,1168.75 L864.28,1168.58 L864.49,1168.48 L864.69,1168.39 L864.90,1168.44 L865.11,1168.35 L865.32,1167.98 L865.53,1167.69 L865.74,1167.64 L865.95,1167.87 L866.16,1168.14 L866.37,1168.15 L866.58,1168.41 L866.79,1168.93 L866.99,1168.68 L867.20,1168.08 L867.41,1168.65 L867.62,1169.39 L867.83,1169.00 L868.04,1168.76 L868.25,1168.63 L868.46,1167.95 L868.66,1167.79 L868.87,1168.16 L869.08,1168.33 L869.29,1168.12 L869.50,1167.85 L869.71,1167.95 L869.91,1168.11 L870.12,1167.91 L870.33,1167.68 L870.54,1167.76 L870.75,1167.87 L870.96,1167.66 L871.16,1167.45 L871.37,1167.37 L871.58,1167.54 L871.79,1167.62 L872.00,1167.09 L872.20,1166.98 L872.41,1167.33 L872.62,1167.24 L872.83,1167.06 L873.03,1166.64 L873.24,1166.00 L873.45,1165.48 L873.66,1165.17 L873.87,1165.50 L874.07,1165.74 L874.28,1165.68 L874.49,1165.33 L874.70,1164.29 L874.90,1163.72 L875.11,1163.59 L875.32,1163.44 L875.52,1163.28 L875.73,1162.85 L875.94,1162.38 L876.15,1161.66 L876.35,1160.91 L876.56,1159.99 L876.77,1158.80 L876.97,1157.84 L877.18,1156.61 L877.39,1155.38 L877.59,1153.66 L877.80,1150.71 L878.01,1147.41 L878.21,1143.45 L878.42,1138.05 L878.63,1130.50 L878.83,1120.25 L879.04,1107.02 L879.25,1089.35 L879.45,1067.92 L879.66,1043.59 L879.87,1014.81 L880.07,983.49 L880.28,953.94 L880.49,929.79 L880.69,915.00 L880.90,916.56 L881.10,933.70 L881.31,960.39 L881.52,989.29 L881.72,1019.06 L881.93,1048.31 L882.13,1073.76 L882.34,1093.20 L882.55,1107.37 L882.75,1119.38 L882.96,1129.90 L883.16,1137.35 L883.37,1141.98 L883.58,1145.42 L883.78,1148.38 L883.99,1151.04 L884.19,1153.00 L884.40,1154.31 L884.60,1155.52 L884.81,1156.56 L885.01,1157.29 L885.22,1158.25 L885.42,1158.94 L885.63,1158.95 L885.83,1159.53 L886.04,1160.26 L886.25,1159.96 L886.45,1159.43 L886.66,1158.81 L886.86,1158.23 L887.07,1158.21 L887.27,1157.97 L887.48,1157.29 L887.68,1155.70 L887.88,1152.88 L888.09,1149.33 L888.29,1144.71 L888.50,1138.50 L888.70,1130.69 L888.91,1121.57 L889.11,1110.92 L889.32,1098.75 L889.52,1085.71 L889.73,1072.56 L889.93,1062.34 L890.14,1056.84 L890.34,1061.88 L890.54,1066.90 L890.75,1075.84 L890.95,1090.21 L891.16,1104.77 L891.36,1116.46 L891.56,1126.49 L891.77,1135.58 L891.97,1143.33 L892.18,1149.14 L892.38,1153.20 L892.58,1156.09 L892.79,1157.72 L892.99,1158.79 L893.20,1160.38 L893.40,1162.17 L893.60,1163.49 L893.81,1164.05 L894.01,1164.01 L894.21,1164.08 L894.42,1164.45 L894.62,1165.16 L894.83,1166.15 L895.03,1166.41 L895.23,1166.09 L895.44,1166.02 L895.64,1166.30 L895.84,1167.16 L896.05,1167.62 L896.25,1167.38 L896.45,1167.06 L896.65,1167.07 L896.86,1167.34 L897.06,1167.58 L897.26,1167.98 L897.47,1168.25 L897.67,1168.37 L897.87,1168.41 L898.08,1168.32 L898.28,1167.71 L898.48,1167.48 L898.68,1168.42 L898.89,1168.80 L899.09,1168.58 L899.29,1168.54 L899.49,1168.69 L899.70,1169.03 L899.90,1169.14 L900.10,1169.12 L900.30,1168.97 L900.51,1168.88 L900.71,1169.03 L900.91,1169.39 L901.11,1169.70 L901.32,1169.33 L901.52,1168.76 L901.72,1168.58 L901.92,1168.70 L902.12,1168.86 L902.33,1168.55 L902.53,1168.66 L902.73,1169.23 L902.93,1168.78 L903.13,1168.39 L903.33,1168.75 L903.54,1168.82 L903.74,1168.76 L903.94,1168.87 L904.14,1169.20 L904.34,1169.46 L904.54,1169.41 L904.75,1169.39 L904.95,1169.51 L905.15,1169.35 L905.35,1169.09 L905.55,1169.41 L905.75,1169.82 L905.95,1169.66 L906.16,1169.63 L906.36,1169.85 L906.56,1169.45 L906.76,1168.95 L906.96,1169.05 L907.16,1169.58 L907.36,1169.85 L907.56,1169.67 L907.76,1169.41 L907.97,1169.30 L908.17,1169.60 L908.37,1170.07 L908.57,1170.25 L908.77,1170.00 L908.97,1169.57 L909.17,1169.34 L909.37,1169.29 L909.57,1169.08 L909.77,1169.21 L909.97,1169.86 L910.17,1170.20 L910.37,1170.06 L910.57,1169.98 L910.77,1169.90 L910.97,1169.58 L911.17,1169.33 L911.37,1169.34 L911.57,1169.67 L911.77,1169.93 L911.97,1170.00 L912.17,1170.14 L912.37,1170.17 L912.57,1170.02 L912.77,1170.15 L912.97,1170.47 L913.17,1169.98 L913.37,1169.57 L913.57,1169.75 L913.77,1169.77 L913.97,1169.58 L914.17,1169.22 L914.37,1169.20 L914.57,1169.41 L914.77,1169.54 L914.97,1169.85 L915.17,1169.92 L915.37,1170.06 L915.57,1170.36 L915.77,1170.34 L915.97,1170.22 L916.17,1170.21 L916.37,1170.63 L916.57,1171.07 L916.77,1170.87 L916.96,1170.38 L917.16,1170.09 L917.36,1170.18 L917.56,1170.25 L917.76,1170.14 L917.96,1170.23 L918.16,1170.14 L918.36,1169.89 L918.56,1170.29 L918.75,1170.57 L918.95,1170.18 L919.15,1170.08 L919.35,1170.08 L919.55,1169.96 L919.75,1170.13 L919.95,1170.15 L920.15,1169.80 L920.34,1169.84 L920.54,1170.50 L920.74,1170.56 L920.94,1170.13 L921.14,1170.09 L921.34,1170.42 L921.53,1170.36 L921.73,1170.01 L921.93,1170.07 L922.13,1170.10 L922.33,1169.96 L922.52,1170.07 L922.72,1170.33 L922.92,1170.23 L923.12,1169.92 L923.32,1169.64 L923.51,1169.41 L923.71,1169.43 L923.91,1169.61 L924.11,1169.63 L924.30,1169.65 L924.50,1169.98 L924.70,1170.37 L924.90,1170.70 L925.09,1170.57 L925.29,1170.16 L925.49,1170.46 L925.69,1170.90 L925.88,1170.70 L926.08,1170.64 L926.28,1170.72 L926.48,1170.49 L926.67,1170.39 L926.87,1170.22 L927.07,1170.09 L927.26,1170.13 L927.46,1170.02 L927.66,1170.14 L927.86,1170.09 L928.05,1169.76 L928.25,1169.91 L928.45,1170.22 L928.64,1170.20 L928.84,1170.29 L929.04,1170.42 L929.23,1170.14 L929.43,1170.21 L929.63,1170.62 L929.82,1170.44 L930.02,1170.16 L930.22,1170.01 L930.41,1169.77 L930.61,1169.98 L930.80,1170.42 L931.00,1170.60 L931.20,1170.27 L931.39,1169.81 L931.59,1169.53 L931.79,1169.46 L931.98,1169.22 L932.18,1168.72 L932.37,1168.95 L932.57,1169.42 L932.77,1169.81 L932.96,1170.30 L933.16,1169.90 L933.35,1169.37 L933.55,1169.61 L933.75,1169.93 L933.94,1170.00 L934.14,1169.79 L934.33,1169.78 L934.53,1169.82 L934.72,1169.50 L934.92,1169.31 L935.12,1169.83 L935.31,1170.38 L935.51,1170.13 L935.70,1170.03 L935.90,1170.48 L936.09,1170.58 L936.29,1170.20 L936.48,1169.88 L936.68,1169.80 L936.87,1169.75 L937.07,1169.49 L937.26,1169.36 L937.46,1169.38 L937.65,1169.41 L937.85,1169.76 L938.04,1170.01 L938.24,1169.64 L938.43,1168.98 L938.63,1169.12 L938.82,1170.11 L939.02,1170.48 L939.21,1170.27 L939.41,1170.22 L939.60,1170.30 L939.80,1170.09 L939.99,1169.97 L940.18,1170.28 L940.38,1170.12 L940.57,1169.66 L940.77,1170.01 L940.96,1170.34 L941.16,1170.06 L941.35,1170.20 L941.55,1170.44 L941.74,1170.53 L941.93,1170.69 L942.13,1170.59 L942.32,1170.45 L942.52,1170.74 L942.71,1170.99 L942.90,1170.77 L943.10,1170.79 L943.29,1170.87 L943.49,1170.53 L943.68,1170.31 L943.87,1169.96 L944.07,1169.64 L944.26,1169.73 L944.45,1169.88 L944.65,1170.07 L944.84,1170.37 L945.03,1170.43 L945.23,1170.10 L945.42,1170.16 L945.61,1170.33 L945.81,1169.62 L946.00,1169.03 L946.19,1169.06 L946.39,1169.22 L946.58,1169.65 L946.77,1169.93 L946.97,1169.79 L947.16,1169.88 L947.35,1169.85 L947.55,1169.46 L947.74,1169.50 L947.93,1169.74 L948.13,1169.65 L948.32,1169.51 L948.51,1169.19 L948.70,1169.12 L948.90,1169.71 L949.09,1169.83 L949.28,1169.02 L949.47,1168.80 L949.67,1169.58 L949.86,1170.15 L950.05,1170.11 L950.25,1169.79 L950.44,1169.63 L950.63,1169.56 L950.82,1169.53 L951.01,1169.82 L951.21,1170.08 L951.40,1169.84 L951.59,1169.20 L951.78,1168.85 L951.98,1169.13 L952.17,1169.38 L952.36,1169.19 L952.55,1169.09 L952.74,1169.12 L952.94,1169.20 L953.13,1169.43 L953.32,1169.69 L953.51,1169.90 L953.70,1169.75 L953.89,1169.63 L954.09,1169.68 L954.28,1169.29 L954.47,1169.06 L954.66,1169.52 L954.85,1169.96 L955.04,1169.91 L955.24,1169.43 L955.43,1169.11 L955.62,1169.41 L955.81,1169.90 L956.00,1170.09 L956.19,1169.78 L956.38,1169.62 L956.58,1169.81 L956.77,1169.92 L956.96,1169.82 L957.15,1169.38 L957.34,1169.09 L957.53,1169.21 L957.72,1169.31 L957.91,1169.45 L958.10,1169.65 L958.29,1169.63 L958.49,1169.36 L958.68,1169.06 L958.87,1168.77 L959.06,1168.44 L959.25,1168.20 L959.44,1168.07 L959.63,1168.29 L959.82,1168.62 L960.01,1168.91 L960.20,1168.87 L960.39,1168.46 L960.58,1168.60 L960.77,1168.52 L960.96,1168.23 L961.15,1168.66 L961.34,1168.84 L961.53,1168.65 L961.72,1168.58 L961.91,1168.39 L962.10,1168.13 L962.29,1168.05 L962.48,1168.04 L962.67,1167.99 L962.86,1167.95 L963.05,1167.61 L963.24,1167.60 L963.43,1168.02 L963.62,1167.73 L963.81,1167.47 L964.00,1167.99 L964.19,1167.87 L964.38,1166.84 L964.57,1166.06 L964.76,1165.55 L964.95,1165.23 L965.14,1165.06 L965.33,1164.69 L965.52,1164.31 L965.71,1163.97 L965.90,1163.10 L966.09,1161.90 L966.28,1160.79 L966.46,1159.33 L966.65,1157.52 L966.84,1155.32 L967.03,1151.85 L967.22,1147.10 L967.41,1141.38 L967.60,1134.37 L967.79,1125.54 L967.98,1114.12 L968.17,1101.38 L968.35,1088.82 L968.54,1075.50 L968.73,1061.92 L968.92,1051.91 L969.11,1047.13 L969.30,1049.95 L969.49,1056.85 L969.68,1068.78 L969.86,1082.42 L970.05,1095.52 L970.24,1108.56 L970.43,1120.03 L970.62,1129.18 L970.81,1136.88 L970.99,1143.17 L971.18,1148.23 L971.37,1151.70 L971.56,1154.12 L971.75,1156.42 L971.94,1158.26 L972.12,1159.52 L972.31,1160.59 L972.50,1161.59 L972.69,1162.43 L972.88,1162.83 L973.06,1163.18 L973.25,1163.89 L973.44,1164.43 L973.63,1164.76 L973.81,1164.63 L974.00,1164.65 L974.19,1164.94 L974.38,1164.88 L974.56,1165.27 L974.75,1165.41 L974.94,1165.13 L975.13,1164.88 L975.31,1164.25 L975.50,1164.26 L975.69,1164.75 L975.88,1164.12 L976.06,1162.63 L976.25,1161.27 L976.44,1160.08 L976.63,1158.04 L976.81,1155.28 L977.00,1152.25 L977.19,1148.52 L977.37,1143.79 L977.56,1137.55 L977.75,1131.53 L977.93,1127.10 L978.12,1122.69 L978.31,1117.41 L978.49,1113.92 L978.68,1113.73 L978.87,1116.97 L979.05,1122.77 L979.24,1129.03 L979.43,1134.39 L979.61,1139.81 L979.80,1145.63 L979.99,1150.56 L980.17,1153.97 L980.36,1156.74 L980.55,1159.16 L980.73,1161.28 L980.92,1162.89 L981.11,1164.28 L981.29,1165.41 L981.48,1165.44 L981.66,1165.33 L981.85,1166.08 L982.04,1167.11 L982.22,1167.38 L982.41,1167.10 L982.59,1167.37 L982.78,1167.67 L982.97,1167.75 L983.15,1167.95 L983.34,1167.76 L983.52,1167.61 L983.71,1167.69 L983.89,1167.55 L984.08,1167.70 L984.27,1167.89 L984.45,1167.74 L984.64,1167.65 L984.82,1167.71 L985.01,1168.03 L985.19,1168.14 L985.38,1167.94 L985.56,1168.28 L985.75,1168.53 L985.93,1168.19 L986.12,1168.15 L986.30,1168.40 L986.49,1168.42 L986.67,1168.07 L986.86,1167.91 L987.04,1168.47 L987.23,1169.01 L987.41,1168.81 L987.60,1168.49 L987.78,1168.61 L987.97,1168.64 L988.15,1168.31 L988.34,1168.24 L988.52,1168.46 L988.71,1168.60 L988.89,1168.80 L989.08,1168.89 L989.26,1168.96 L989.45,1168.98 L989.63,1168.71 L989.81,1168.66 L990.00,1168.79 L990.18,1168.71 L990.37,1168.79 L990.55,1169.09 L990.74,1169.27 L990.92,1169.06 L991.10,1168.97 L991.29,1169.36 L991.47,1169.23 L991.66,1169.02 L991.84,1169.41 L992.03,1169.62 L992.21,1169.67 L992.39,1169.40 L992.58,1168.79 L992.76,1168.82 L992.94,1169.15 L993.13,1168.96 L993.31,1168.70 L993.50,1168.79 L993.68,1168.83 L993.86,1168.73 L994.05,1168.91 L994.23,1168.96 L994.41,1168.95 L994.60,1169.11 L994.78,1169.23 L994.96,1168.97 L995.15,1168.68 L995.33,1169.05 L995.51,1169.50 L995.70,1169.90 L995.88,1170.11 L996.06,1169.91 L996.25,1169.82 L996.43,1169.78 L996.61,1169.50 L996.80,1168.97 L996.98,1168.43 L997.16,1168.45 L997.34,1168.65 L997.53,1168.36 L997.71,1168.41 L997.89,1169.02 L998.08,1169.22 L998.26,1168.76 L998.44,1168.40 L998.62,1168.73 L998.81,1168.84 L998.99,1168.62 L999.17,1168.85 L999.35,1168.98 L999.54,1168.84 L999.72,1169.25 L999.90,1169.91 L1000.08,1169.69 L1000.27,1169.30 L1000.45,1169.30 L1000.63,1169.08 L1000.81,1169.10 L1000.99,1169.27 L1001.18,1169.60 L1001.36,1170.12 L1001.54,1170.24 L1001.72,1170.08 L1001.90,1169.64 L1002.09,1169.39 L1002.27,1169.72 L1002.45,1170.23 L1002.63,1170.58 L1002.81,1170.43 L1003.00,1170.18 L1003.18,1170.05 L1003.36,1169.71 L1003.54,1169.57 L1003.72,1169.80 L1003.90,1170.16 L1004.08,1170.33 L1004.27,1170.05 L1004.45,1170.14 L1004.63,1170.42 L1004.81,1170.20 L1004.99,1169.93 L1005.17,1169.66 L1005.35,1169.62 L1005.54,1169.56 L1005.72,1169.39 L1005.90,1169.69 L1006.08,1169.92 L1006.26,1169.79 L1006.44,1169.83 L1006.62,1169.86 L1006.80,1169.59 L1006.98,1169.56 L1007.16,1170.01 L1007.35,1170.08 L1007.53,1169.45 L1007.71,1169.12 L1007.89,1169.26 L1008.07,1169.23 L1008.25,1169.24 L1008.43,1169.40 L1008.61,1169.52 L1008.79,1169.98 L1008.97,1170.33 L1009.15,1170.23 L1009.33,1170.08 L1009.51,1169.68 L1009.69,1169.36 L1009.87,1169.44 L1010.05,1169.25 L1010.23,1168.83 L1010.41,1168.94 L1010.59,1169.51 L1010.77,1169.50 L1010.95,1169.18 L1011.13,1169.75 L1011.31,1170.42 L1011.49,1170.09 L1011.67,1169.59 L1011.85,1169.76 L1012.03,1169.84 L1012.21,1169.50 L1012.39,1169.56 L1012.57,1170.03 L1012.75,1170.07 L1012.93,1169.72 L1013.11,1169.66 L1013.29,1169.93 L1013.47,1170.09 L1013.65,1169.93 L1013.83,1169.55 L1014.01,1169.49 L1014.19,1169.64 L1014.37,1169.74 L1014.55,1169.85 L1014.73,1169.73 L1014.91,1169.63 L1015.09,1169.37 L1015.26,1168.69 L1015.44,1168.42 L1015.62,1168.89 L1015.80,1169.33 L1015.98,1169.32 L1016.16,1169.22 L1016.34,1169.21 L1016.52,1168.96 L1016.70,1168.79 L1016.88,1169.12 L1017.05,1169.36 L1017.23,1169.34 L1017.41,1169.70 L1017.59,1169.74 L1017.77,1168.88 L1017.95,1168.26 L1018.13,1168.53 L1018.30,1169.54 L1018.48,1170.29 L1018.66,1169.79 L1018.84,1169.20 L1019.02,1169.09 L1019.20,1169.11 L1019.38,1169.37 L1019.55,1169.40 L1019.73,1169.34 L1019.91,1169.65 L1020.09,1169.97 L1020.27,1169.79 L1020.44,1169.61 L1020.62,1169.90 L1020.80,1170.18 L1020.98,1170.17 L1021.16,1170.05 L1021.33,1169.70 L1021.51,1169.49 L1021.69,1169.64 L1021.87,1169.86 L1022.05,1170.00 L1022.22,1170.32 L1022.40,1170.61 L1022.58,1170.20 L1022.76,1169.84 L1022.93,1169.91 L1023.11,1170.01 L1023.29,1170.17 L1023.47,1169.99 L1023.64,1169.65 L1023.82,1169.45 L1024.00,1169.06 L1024.18,1169.21 L1024.35,1170.16 L1024.53,1170.26 L1024.71,1169.59 L1024.88,1169.29 L1025.06,1169.33 L1025.24,1169.51 L1025.42,1169.69 L1025.59,1169.65 L1025.77,1169.11 L1025.95,1168.69 L1026.12,1168.53 L1026.30,1168.14 L1026.48,1168.40 L1026.65,1168.98 L1026.83,1168.93 L1027.01,1169.14 L1027.18,1169.93 L1027.36,1170.01 L1027.54,1169.60 L1027.71,1169.66 L1027.89,1169.56 L1028.07,1169.74 L1028.24,1170.16 L1028.42,1169.86 L1028.60,1169.46 L1028.77,1169.46 L1028.95,1169.66 L1029.12,1169.70 L1029.30,1169.71 L1029.48,1169.57 L1029.65,1169.15 L1029.83,1168.92 L1030.01,1168.95 L1030.18,1169.02 L1030.36,1169.19 L1030.53,1169.57 L1030.71,1169.48 L1030.89,1169.06 L1031.06,1169.15 L1031.24,1169.25 L1031.41,1169.33 L1031.59,1169.49 L1031.76,1169.18 L1031.94,1168.96 L1032.12,1169.30 L1032.29,1169.28 L1032.47,1168.80 L1032.64,1169.05 L1032.82,1169.67 L1032.99,1169.97 L1033.17,1170.28 L1033.34,1170.54 L1033.52,1170.48 L1033.69,1170.02 L1033.87,1169.46 L1034.05,1169.32 L1034.22,1169.36 L1034.40,1169.24 L1034.57,1169.47 L1034.75,1170.03 L1034.92,1170.05 L1035.10,1169.64 L1035.27,1169.32 L1035.45,1169.52 L1035.62,1170.28 L1035.80,1170.23 L1035.97,1169.48 L1036.15,1169.37 L1036.32,1169.45 L1036.49,1169.74 L1036.67,1169.87 L1036.84,1169.38 L1037.02,1169.08 L1037.19,1169.05 L1037.37,1169.40 L1037.54,1169.87 L1037.72,1169.69 L1037.89,1169.51 L1038.07,1169.74 L1038.24,1169.60 L1038.41,1169.53 L1038.59,1169.96 L1038.76,1169.97 L1038.94,1169.54 L1039.11,1169.36 L1039.29,1169.62 L1039.46,1169.74 L1039.63,1169.61 L1039.81,1169.60 L1039.98,1169.47 L1040.16,1169.40 L1040.33,1169.40 L1040.50,1169.10 L1040.68,1169.18 L1040.85,1169.55 L1041.02,1169.42 L1041.20,1169.32 L1041.37,1169.34 L1041.55,1169.03 L1041.72,1168.79 L1041.89,1169.00 L1042.07,1169.35 L1042.24,1169.47 L1042.41,1169.24 L1042.59,1169.16 L1042.76,1169.31 L1042.93,1169.13 L1043.11,1168.65 L1043.28,1168.49 L1043.45,1168.49 L1043.63,1168.20 L1043.80,1168.15 L1043.97,1168.37 L1044.15,1168.53 L1044.32,1168.83 L1044.49,1169.05 L1044.66,1169.00 L1044.84,1168.90 L1045.01,1168.69 L1045.18,1168.25 L1045.36,1168.18 L1045.53,1168.54 L1045.70,1168.93 L1045.87,1169.61 L1046.05,1170.02 L1046.22,1169.66 L1046.39,1169.16 L1046.56,1168.67 L1046.74,1168.56 L1046.91,1168.93 L1047.08,1169.01 L1047.25,1169.10 L1047.43,1169.35 L1047.60,1169.42 L1047.77,1169.34 L1047.94,1169.48 L1048.12,1170.30 L1048.29,1170.71 L1048.46,1170.07 L1048.63,1169.45 L1048.80,1169.51 L1048.98,1169.77 L1049.15,1169.82 L1049.32,1169.77 L1049.49,1169.72 L1049.66,1169.95 L1049.84,1169.92 L1050.01,1169.67 L1050.18,1170.01 L1050.35,1170.03 L1050.52,1169.47 L1050.70,1169.66 L1050.87,1169.93 L1051.04,1169.59 L1051.21,1169.66 L1051.38,1169.73 L1051.55,1169.20 L1051.72,1168.83 L1051.90,1168.98 L1052.07,1169.16 L1052.24,1169.22 L1052.41,1169.44 L1052.58,1169.66 L1052.75,1169.57 L1052.92,1169.54 L1053.10,1169.50 L1053.27,1169.00 L1053.44,1168.61 L1053.61,1168.74 L1053.78,1168.86 L1053.95,1168.91 L1054.12,1169.06 L1054.29,1168.86 L1054.46,1168.67 L1054.63,1168.83 L1054.81,1168.91 L1054.98,1168.92 L1055.15,1169.03 L1055.32,1168.91 L1055.49,1169.00 L1055.66,1169.22 L1055.83,1168.84 L1056.00,1168.70 L1056.17,1169.11 L1056.34,1169.46 L1056.51,1169.52 L1056.68,1169.30 L1056.85,1168.93 L1057.02,1168.63 L1057.19,1168.58 L1057.36,1169.05 L1057.53,1169.58 L1057.70,1169.40 L1057.87,1168.88 L1058.04,1168.79 L1058.21,1168.98 L1058.38,1168.79 L1058.55,1168.61 L1058.72,1168.71 L1058.89,1168.35 L1059.06,1167.95 L1059.23,1168.03 L1059.40,1168.11 L1059.57,1168.55 L1059.74,1168.98 L1059.91,1168.97 L1060.08,1169.09 L1060.25,1169.51 L1060.42,1169.76 L1060.59,1169.49 L1060.76,1169.14 L1060.93,1168.92 L1061.10,1169.02 L1061.27,1169.39 L1061.44,1169.48 L1061.61,1169.29 L1061.78,1169.29 L1061.95,1169.06 L1062.12,1168.63 L1062.28,1168.68 L1062.45,1168.59 L1062.62,1168.43 L1062.79,1168.64 L1062.96,1168.76 L1063.13,1168.71 L1063.30,1168.65 L1063.47,1168.70 L1063.64,1168.82 L1063.81,1169.00 L1063.97,1169.20 L1064.14,1169.27 L1064.31,1169.16 L1064.48,1168.75 L1064.65,1168.59 L1064.82,1169.01 L1064.99,1169.28 L1065.16,1169.19 L1065.32,1168.81 L1065.49,1168.57 L1065.66,1168.74 L1065.83,1169.16 L1066.00,1169.56 L1066.17,1169.25 L1066.33,1168.95 L1066.50,1169.36 L1066.67,1169.54 L1066.84,1169.17 L1067.01,1168.75 L1067.18,1168.61 L1067.34,1168.94 L1067.51,1169.18 L1067.68,1169.09 L1067.85,1169.24 L1068.02,1169.25 L1068.18,1168.70 L1068.35,1168.58 L1068.52,1168.98 L1068.69,1169.04 L1068.86,1168.86 L1069.02,1168.93 L1069.19,1169.18 L1069.36,1169.19 L1069.53,1169.15 L1069.69,1169.31 L1069.86,1169.44 L1070.03,1169.46 L1070.20,1169.60 L1070.36,1169.83 L1070.53,1169.68 L1070.70,1169.20 L1070.87,1169.02 L1071.03,1169.74 L1071.20,1170.60 L1071.37,1170.25 L1071.53,1169.22 L1071.70,1168.67 L1071.87,1168.85 L1072.04,1169.37 L1072.20,1169.65 L1072.37,1169.39 L1072.54,1169.00 L1072.70,1169.29 L1072.87,1169.56 L1073.04,1169.18 L1073.20,1169.31 L1073.37,1169.91 L1073.54,1169.62 L1073.71,1168.88 L1073.87,1168.92 L1074.04,1169.32 L1074.21,1169.10 L1074.37,1168.70 L1074.54,1168.92 L1074.70,1169.27 L1074.87,1169.10 L1075.04,1168.76 L1075.20,1168.91 L1075.37,1168.89 L1075.54,1168.45 L1075.70,1168.84 L1075.87,1169.49 L1076.04,1169.75 L1076.20,1169.97 L1076.37,1169.60 L1076.53,1168.71 L1076.70,1168.16 L1076.87,1168.37 L1077.03,1168.52 L1077.20,1168.37 L1077.36,1168.50 L1077.53,1168.43 L1077.70,1167.99 L1077.86,1167.69 L1078.03,1167.48 L1078.19,1167.69 L1078.36,1168.20 L1078.52,1168.28 L1078.69,1168.13 L1078.86,1167.95 L1079.02,1167.77 L1079.19,1167.91 L1079.35,1167.85 L1079.52,1167.30 L1079.68,1167.23 L1079.85,1167.86 L1080.01,1168.38 L1080.18,1168.52 L1080.34,1168.61 L1080.51,1168.78 L1080.68,1168.75 L1080.84,1168.50 L1081.01,1168.38 L1081.17,1168.63 L1081.34,1168.92 L1081.50,1168.59 L1081.67,1168.25 L1081.83,1168.69 L1082.00,1168.75 L1082.16,1168.36 L1082.33,1168.83 L1082.49,1169.32 L1082.65,1169.32 L1082.82,1169.58 L1082.98,1169.57 L1083.15,1169.40 L1083.31,1169.82 L1083.48,1170.01 L1083.64,1169.48 L1083.81,1169.43 L1083.97,1169.88 L1084.14,1169.66 L1084.30,1169.17 L1084.47,1169.07 L1084.63,1169.11 L1084.79,1169.31 L1084.96,1169.53 L1085.12,1169.48 L1085.29,1169.26 L1085.45,1169.44 L1085.61,1170.03 L1085.78,1169.89 L1085.94,1169.07 L1086.11,1168.74 L1086.27,1168.89 L1086.43,1169.01 L1086.60,1169.24 L1086.76,1169.24 L1086.93,1168.86 L1087.09,1168.77 L1087.25,1169.07 L1087.42,1169.21 L1087.58,1169.00 L1087.75,1168.94 L1087.91,1169.07 L1088.07,1169.18 L1088.24,1169.18 L1088.40,1169.05 L1088.56,1168.82 L1088.73,1168.54 L1088.89,1168.69 L1089.05,1169.36 L1089.22,1169.65 L1089.38,1169.46 L1089.54,1169.23 L1089.71,1169.21 L1089.87,1169.59 L1090.03,1169.40 L1090.20,1168.86 L1090.36,1168.87 L1090.52,1168.84 L1090.68,1168.87 L1090.85,1168.97 L1091.01,1168.95 L1091.17,1169.14 L1091.34,1168.86 L1091.50,1168.39 L1091.66,1168.63 L1091.83,1169.02 L1091.99,1169.03 L1092.15,1168.90 L1092.31,1169.22 L1092.48,1169.51 L1092.64,1169.54 L1092.80,1169.72 L1092.96,1169.78 L1093.13,1169.58 L1093.29,1169.44 L1093.45,1169.50 L1093.61,1169.70 L1093.78,1169.72 L1093.94,1169.49 L1094.10,1169.43 L1094.26,1169.51 L1094.42,1169.39 L1094.59,1169.10 L1094.75,1168.79 L1094.91,1168.71 L1095.07,1168.71 L1095.23,1168.80 L1095.40,1168.89 L1095.56,1168.71 L1095.72,1168.84 L1095.88,1169.06 L1096.04,1169.10 L1096.21,1168.96 L1096.37,1168.53 L1096.53,1168.77 L1096.69,1169.39 L1096.85,1169.39 L1097.01,1169.10 L1097.18,1168.82 L1097.34,1168.42 L1097.50,1168.08 L1097.66,1168.02 L1097.82,1168.32 L1097.98,1168.51 L1098.14,1168.12 L1098.31,1168.26 L1098.47,1168.98 L1098.63,1169.04 L1098.79,1168.88 L1098.95,1168.76 L1099.11,1168.43 L1099.27,1168.45 L1099.43,1168.89 L1099.60,1169.50 L1099.76,1169.83 L1099.92,1169.67 L1100.08,1169.55 L1100.24,1169.78 L1100.40,1170.09 L1100.56,1169.97 L1100.72,1169.46 L1100.88,1169.20 L1101.04,1169.28 L1101.20,1169.28 L1101.36,1169.17 L1101.53,1168.95 L1101.69,1168.86 L1101.85,1169.11 L1102.01,1169.33 L1102.17,1169.27 L1102.33,1168.84 L1102.49,1168.57 L1102.65,1168.68 L1102.81,1168.91 L1102.97,1169.24 L1103.13,1169.34 L1103.29,1168.86 L1103.45,1168.89 L1103.61,1169.24 L1103.77,1168.88 L1103.93,1168.76 L1104.09,1168.94 L1104.25,1169.03 L1104.41,1168.89 L1104.57,1168.67 L1104.73,1168.54 L1104.89,1168.37 L1105.05,1168.51 L1105.21,1168.78 L1105.37,1169.04 L1105.53,1169.17 L1105.69,1168.99 L1105.85,1168.54 L1106.01,1168.31 L1106.17,1168.82 L1106.33,1169.35 L1106.49,1169.47 L1106.65,1169.33 L1106.81,1168.98 L1106.96,1169.00 L1107.12,1169.28 L1107.28,1169.03 L1107.44,1168.61 L1107.60,1168.68 L1107.76,1168.84 L1107.92,1168.63 L1108.08,1168.65 L1108.24,1168.84 L1108.40,1168.49 L1108.56,1168.29 L1108.72,1168.57 L1108.87,1168.51 L1109.03,1168.39 L1109.19,1168.32 L1109.35,1168.25 L1109.51,1168.34 L1109.67,1168.42 L1109.83,1168.31 L1109.99,1168.11 L1110.15,1168.36 L1110.30,1168.68 L1110.46,1168.31 L1110.62,1167.88 L1110.78,1168.02 L1110.94,1168.62 L1111.10,1169.00 L1111.26,1168.63 L1111.41,1168.18 L1111.57,1168.32 L1111.73,1168.83 L1111.89,1169.04 L1112.05,1169.00 L1112.21,1169.20 L1112.36,1169.41 L1112.52,1169.26 L1112.68,1169.07 L1112.84,1168.77 L1113.00,1168.51 L1113.15,1168.85 L1113.31,1168.90 L1113.47,1168.67 L1113.63,1168.69 L1113.79,1168.54 L1113.94,1168.67 L1114.10,1169.13 L1114.26,1169.20 L1114.42,1169.03 L1114.57,1168.98 L1114.73,1169.06 L1114.89,1169.05 L1115.05,1169.00 L1115.20,1169.19 L1115.36,1169.29 L1115.52,1169.35 L1115.68,1169.51 L1115.83,1169.41 L1115.99,1169.46 L1116.15,1169.90 L1116.31,1169.79 L1116.46,1169.22 L1116.62,1169.25 L1116.78,1169.56 L1116.94,1169.41 L1117.09,1169.14 L1117.25,1169.61 L1117.41,1170.03 L1117.56,1169.82 L1117.72,1169.70 L1117.88,1169.56 L1118.03,1169.26 L1118.19,1168.97 L1118.35,1169.04 L1118.51,1169.04 L1118.66,1168.34 L1118.82,1168.07 L1118.98,1168.50 L1119.13,1168.52 L1119.29,1168.40 L1119.45,1168.66 L1119.60,1169.03 L1119.76,1168.78 L1119.91,1168.16 L1120.07,1168.22 L1120.23,1168.21 L1120.38,1167.67 L1120.54,1167.54 L1120.70,1168.02 L1120.85,1168.48 L1121.01,1168.27 L1121.17,1168.27 L1121.32,1169.11 L1121.48,1169.46 L1121.63,1168.98 L1121.79,1168.52 L1121.95,1168.49 L1122.10,1168.59 L1122.26,1168.64 L1122.41,1168.50 L1122.57,1167.76 L1122.73,1167.26 L1122.88,1167.61 L1123.04,1167.97 L1123.19,1167.96 L1123.35,1167.74 L1123.50,1167.78 L1123.66,1168.01 L1123.82,1168.18 L1123.97,1168.31 L1124.13,1168.34 L1124.28,1168.49 L1124.44,1168.19 L1124.59,1167.53 L1124.75,1167.42 L1124.90,1167.57 L1125.06,1167.95 L1125.21,1168.40 L1125.37,1168.40 L1125.53,1168.45 L1125.68,1168.44 L1125.84,1168.16 L1125.99,1167.95 L1126.15,1167.88 L1126.30,1167.90 L1126.46,1167.92 L1126.61,1167.65 L1126.77,1167.03 L1126.92,1166.66 L1127.08,1167.00 L1127.23,1167.43 L1127.38,1167.31 L1127.54,1166.99 L1127.69,1166.80 L1127.85,1166.66 L1128.00,1166.69 L1128.16,1166.97 L1128.31,1167.43 L1128.47,1167.43 L1128.62,1166.79 L1128.78,1166.67 L1128.93,1166.97 L1129.09,1166.91 L1129.24,1166.84 L1129.39,1166.50 L1129.55,1166.08 L1129.70,1165.88 L1129.86,1165.66 L1130.01,1166.04 L1130.17,1166.40 L1130.32,1165.70 L1130.47,1165.06 L1130.63,1165.20 L1130.78,1165.59 L1130.94,1165.61 L1131.09,1165.08 L1131.24,1164.62 L1131.40,1163.77 L1131.55,1162.75 L1131.70,1162.20 L1131.86,1161.49 L1132.01,1160.67 L1132.17,1159.51 L1132.32,1157.53 L1132.47,1155.26 L1132.63,1152.97 L1132.78,1150.26 L1132.93,1147.02 L1133.09,1142.49 L1133.24,1136.39 L1133.39,1129.72 L1133.55,1122.38 L1133.70,1114.47 L1133.85,1107.52 L1134.01,1101.49 L1134.16,1095.73 L1134.31,1092.07 L1134.47,1093.04 L1134.62,1095.53 L1134.77,1099.42 L1134.93,1104.28 L1135.08,1110.87 L1135.23,1118.85 L1135.39,1126.08 L1135.54,1131.75 L1135.69,1137.65 L1135.84,1143.05 L1136.00,1146.93 L1136.15,1150.36 L1136.30,1153.64 L1136.46,1156.32 L1136.61,1157.99 L1136.76,1159.10 L1136.91,1160.23 L1137.07,1161.53 L1137.22,1162.75 L1137.37,1163.26 L1137.52,1163.48 L1137.68,1164.16 L1137.83,1164.77 L1137.98,1164.49 L1138.13,1164.04 L1138.29,1164.50 L1138.44,1165.23 L1138.59,1165.72 L1138.74,1165.86 L1138.89,1165.75 L1139.05,1165.88 L1139.20,1165.81 L1139.35,1165.40 L1139.50,1165.29 L1139.65,1165.82 L1139.81,1166.47 L1139.96,1166.22 L1140.11,1165.86 L1140.26,1165.92 L1140.41,1165.65 L1140.57,1165.41 L1140.72,1165.39 L1140.87,1165.63 L1141.02,1165.85 L1141.17,1165.25 L1141.32,1164.37 L1141.48,1164.31 L1141.63,1164.07 L1141.78,1163.32 L1141.93,1162.78 L1142.08,1161.64 L1142.23,1159.98 L1142.38,1158.36 L1142.54,1156.58 L1142.69,1155.11 L1142.84,1153.15 L1142.99,1149.76 L1143.14,1146.33 L1143.29,1143.23 L1143.44,1139.96 L1143.59,1137.38 L1143.75,1135.67 L1143.90,1135.43 L1144.05,1134.96 L1144.20,1137.69 L1144.35,1141.24 L1144.50,1144.34 L1144.65,1147.28 L1144.80,1150.16 L1144.95,1152.16 L1145.10,1154.56 L1145.25,1157.31 L1145.40,1159.31 L1145.55,1161.26 L1145.71,1162.57 L1145.86,1163.29 L1146.01,1164.19 L1146.16,1164.79 L1146.31,1164.95 L1146.46,1165.09 L1146.61,1165.38 L1146.76,1165.58 L1146.91,1166.11 L1147.06,1167.02 L1147.21,1167.73 L1147.36,1167.90 L1147.51,1167.93 L1147.66,1168.28 L1147.81,1168.44 L1147.96,1168.44 L1148.11,1168.00 L1148.26,1167.63 L1148.41,1167.94 L1148.56,1168.16 L1148.71,1168.05 L1148.86,1168.17 L1149.01,1168.43 L1149.16,1168.32 L1149.31,1168.36 L1149.46,1168.73 L1149.61,1168.56 L1149.76,1167.98 L1149.91,1167.85 L1150.06,1168.22 L1150.21,1168.57 L1150.36,1168.75 L1150.51,1169.02 L1150.66,1169.08 L1150.80,1168.74 L1150.95,1168.64 L1151.10,1168.81 L1151.25,1168.62 L1151.40,1168.21 L1151.55,1168.35 L1151.70,1168.23 L1151.85,1167.85 L1152.00,1168.14 L1152.15,1168.31 L1152.30,1168.15 L1152.45,1167.94 L1152.59,1167.76 L1152.74,1167.77 L1152.89,1168.11 L1153.04,1168.21 L1153.19,1167.93 L1153.34,1168.14 L1153.49,1168.46 L1153.64,1168.62 L1153.79,1168.67 L1153.93,1168.28 L1154.08,1167.78 L1154.23,1167.84 L1154.38,1168.19 L1154.53,1168.26 L1154.68,1168.39 L1154.83,1168.46 L1154.97,1168.21 L1155.12,1168.58 L1155.27,1169.02 L1155.42,1168.83 L1155.57,1168.74 L1155.72,1168.53 L1155.86,1168.36 L1156.01,1168.47 L1156.16,1168.22 L1156.31,1168.14 L1156.46,1168.78 L1156.60,1168.99 L1156.75,1168.45 L1156.90,1167.77 L1157.05,1167.18 L1157.20,1167.18 L1157.34,1167.56 L1157.49,1168.10 L1157.64,1168.69 L1157.79,1168.68 L1157.94,1168.28 L1158.08,1168.13 L1158.23,1168.23 L1158.38,1168.12 L1158.53,1168.11 L1158.67,1168.42 L1158.82,1168.62 L1158.97,1168.38 L1159.12,1168.24 L1159.26,1168.44 L1159.41,1168.05 L1159.56,1167.98 L1159.71,1168.53 L1159.85,1168.23 L1160.00,1167.83 L1160.15,1168.17 L1160.29,1168.33 L1160.44,1167.97 L1160.59,1167.64 L1160.74,1167.90 L1160.88,1168.57 L1161.03,1169.04 L1161.18,1168.95 L1161.32,1168.82 L1161.47,1169.07 L1161.62,1168.80 L1161.76,1168.48 L1161.91,1168.71 L1162.06,1168.68 L1162.20,1168.35 L1162.35,1168.37 L1162.50,1168.67 L1162.64,1168.60 L1162.79,1168.42 L1162.94,1168.67 L1163.08,1168.87 L1163.23,1168.73 L1163.38,1168.74 L1163.52,1168.85 L1163.67,1168.56 L1163.82,1168.12 L1163.96,1167.95 L1164.11,1168.03 L1164.25,1168.50 L1164.40,1168.55 L1164.55,1168.26 L1164.69,1168.45 L1164.84,1168.41 L1164.99,1168.35 L1165.13,1168.81 L1165.28,1169.13 L1165.42,1168.91 L1165.57,1168.60 L1165.72,1168.49 L1165.86,1168.57 L1166.01,1168.93 L1166.15,1169.31 L1166.30,1169.37 L1166.44,1169.22 L1166.59,1169.05 L1166.74,1169.03 L1166.88,1169.13 L1167.03,1169.09 L1167.17,1168.72 L1167.32,1168.45 L1167.46,1168.69 L1167.61,1168.72 L1167.75,1168.23 L1167.90,1168.14 L1168.05,1168.59 L1168.19,1169.06 L1168.34,1169.49 L1168.48,1169.42 L1168.63,1168.71 L1168.77,1167.98 L1168.92,1167.80 L1169.06,1168.25 L1169.21,1168.66 L1169.35,1168.88 L1169.50,1169.13 L1169.64,1169.19 L1169.79,1169.14 L1169.93,1168.74 L1170.08,1168.02 L1170.22,1167.87 L1170.37,1168.31 L1170.51,1168.85 L1170.66,1169.27 L1170.80,1168.92 L1170.94,1168.13 L1171.09,1167.91 L1171.23,1168.07 L1171.38,1167.99 L1171.52,1167.92 L1171.67,1168.25 L1171.81,1168.03 L1171.96,1167.66 L1172.10,1168.13 L1172.25,1168.44 L1172.39,1168.27 L1172.53,1168.16 L1172.68,1168.50 L1172.82,1168.87 L1172.97,1168.77 L1173.11,1168.75 L1173.25,1169.24 L1173.40,1169.46 L1173.54,1169.13 L1173.69,1168.81 L1173.83,1168.65 L1173.97,1168.73 L1174.12,1168.72 L1174.26,1168.37 L1174.41,1168.00 L1174.55,1167.86 L1174.69,1168.27 L1174.84,1168.67 L1174.98,1168.37 L1175.13,1168.10 L1175.27,1168.03 L1175.41,1168.01 L1175.56,1167.99 L1175.70,1167.94 L1175.84,1167.94 L1175.99,1168.06 L1176.13,1168.78 L1176.27,1169.35 L1176.42,1168.55 L1176.56,1167.67 L1176.70,1168.02 L1176.85,1168.40 L1176.99,1168.39 L1177.13,1168.47 L1177.28,1168.42 L1177.42,1168.10 L1177.56,1167.70 L1177.71,1167.84 L1177.85,1168.22 L1177.99,1168.26 L1178.13,1168.49 L1178.28,1168.69 L1178.42,1168.54 L1178.56,1168.51 L1178.71,1168.44 L1178.85,1168.30 L1178.99,1168.08 L1179.13,1167.94 L1179.28,1168.28 L1179.42,1168.71 L1179.56,1168.69 L1179.70,1168.55 L1179.85,1168.71 L1179.99,1168.80 L1180.13,1168.73 L1180.27,1168.61 L1180.42,1168.50 L1180.56,1168.55 L1180.70,1168.61 L1180.84,1168.89 L1180.99,1168.88 L1181.13,1168.18 L1181.27,1167.91 L1181.41,1168.08 L1181.55,1167.94 L1181.70,1168.08 L1181.84,1168.22 L1181.98,1168.19 L1182.12,1168.49 L1182.26,1168.26 L1182.41,1167.99 L1182.55,1168.00 L1182.69,1167.76 L1182.83,1167.71 L1182.97,1167.68 L1183.12,1167.69 L1183.26,1167.75 L1183.40,1167.48 L1183.54,1167.17 L1183.68,1167.34 L1183.82,1167.54 L1183.97,1167.67 L1184.11,1168.00 L1184.25,1168.17 L1184.39,1167.99 L1184.53,1167.75 L1184.67,1167.76 L1184.81,1168.00 L1184.95,1168.14 L1185.10,1168.25 L1185.24,1168.50 L1185.38,1168.79 L1185.52,1169.07 L1185.66,1168.91 L1185.80,1168.77 L1185.94,1169.07 L1186.08,1168.89 L1186.23,1168.30 L1186.37,1168.03 L1186.51,1167.90 L1186.65,1167.85 L1186.79,1167.95 L1186.93,1168.02 L1187.07,1167.97 L1187.21,1168.14 L1187.35,1168.61 L1187.49,1168.41 L1187.63,1167.85 L1187.77,1167.83 L1187.91,1168.15 L1188.05,1168.20 L1188.20,1168.06 L1188.34,1168.33 L1188.48,1168.42 L1188.62,1168.09 L1188.76,1168.11 L1188.90,1168.42 L1189.04,1168.99 L1189.18,1169.04 L1189.32,1168.02 L1189.46,1167.73 L1189.60,1168.42 L1189.74,1168.26 L1189.88,1167.67 L1190.02,1167.61 L1190.16,1167.70 L1190.30,1167.89 L1190.44,1167.89 L1190.58,1167.46 L1190.72,1167.32 L1190.86,1167.99 L1191.00,1168.35 L1191.14,1167.88 L1191.28,1167.77 L1191.42,1167.70 L1191.56,1167.32 L1191.70,1167.53 L1191.84,1167.88 L1191.98,1167.80 L1192.12,1167.92 L1192.26,1168.21 L1192.39,1168.42 L1192.53,1168.82 L1192.67,1168.76 L1192.81,1167.98 L1192.95,1167.71 L1193.09,1167.93 L1193.23,1167.81 L1193.37,1167.57 L1193.51,1167.59 L1193.65,1167.52 L1193.79,1167.25 L1193.93,1167.65 L1194.07,1168.20 L1194.20,1168.52 L1194.34,1168.79 L1194.48,1168.58 L1194.62,1168.37 L1194.76,1168.38 L1194.90,1168.91 L1195.04,1169.78 L1195.18,1169.83 L1195.32,1169.31 L1195.45,1168.86 L1195.59,1168.57 L1195.73,1168.58 L1195.87,1168.47 L1196.01,1168.12 L1196.15,1167.88 L1196.29,1168.01 L1196.43,1168.37 L1196.56,1168.49 L1196.70,1168.19 L1196.84,1168.00 L1196.98,1168.07 L1197.12,1168.19 L1197.26,1168.46 L1197.39,1168.35 L1197.53,1168.11 L1197.67,1167.95 L1197.81,1167.61 L1197.95,1167.69 L1198.08,1168.15 L1198.22,1168.23 L1198.36,1168.03 L1198.50,1168.00 L1198.64,1168.06 L1198.77,1167.90 L1198.91,1167.48 L1199.05,1167.33 L1199.19,1167.30 L1199.33,1167.61 L1199.46,1168.15 L1199.60,1167.98 L1199.74,1167.59 L1199.88,1167.41 L1200.01,1167.34 L1200.15,1167.25 L1200.29,1167.50 L1200.43,1168.21 L1200.56,1168.06 L1200.70,1167.14 L1200.84,1167.00 L1200.98,1167.28 L1201.11,1166.99 L1201.25,1167.03 L1201.39,1167.56 L1201.53,1167.46 L1201.66,1167.05 L1201.80,1166.70 L1201.94,1166.34 L1202.07,1166.37 L1202.21,1166.71 L1202.35,1167.25 L1202.49,1167.59 L1202.62,1167.20 L1202.76,1166.43 L1202.90,1166.42 L1203.03,1167.12 L1203.17,1167.73 L1203.31,1167.81 L1203.44,1167.44 L1203.58,1167.35 L1203.72,1167.05 L1203.85,1167.04 L1203.99,1167.77 L1204.13,1167.82 L1204.26,1167.18 L1204.40,1167.05 L1204.54,1167.64 L1204.67,1167.89 L1204.81,1167.38 L1204.95,1167.22 L1205.08,1167.73 L1205.22,1167.64 L1205.35,1167.05 L1205.49,1167.12 L1205.63,1167.36 L1205.76,1167.08 L1205.90,1166.60 L1206.04,1166.35 L1206.17,1166.44 L1206.31,1166.82 L1206.44,1166.95 L1206.58,1166.40 L1206.72,1165.99 L1206.85,1166.01 L1206.99,1165.99 L1207.12,1165.71 L1207.26,1165.49 L1207.40,1165.77 L1207.53,1165.74 L1207.67,1165.22 L1207.80,1165.08 L1207.94,1164.94 L1208.07,1164.59 L1208.21,1164.44 L1208.34,1164.42 L1208.48,1164.05 L1208.62,1163.54 L1208.75,1163.22 L1208.89,1162.79 L1209.02,1162.66 L1209.16,1162.31 L1209.29,1161.20 L1209.43,1159.98 L1209.56,1159.13 L1209.70,1158.46 L1209.83,1156.95 L1209.97,1154.56 L1210.10,1152.15 L1210.24,1149.55 L1210.37,1146.48 L1210.51,1142.50 L1210.64,1137.39 L1210.78,1131.63 L1210.91,1125.38 L1211.05,1119.45 L1211.18,1112.81 L1211.32,1104.67 L1211.45,1097.23 L1211.59,1092.12 L1211.72,1088.23 L1211.86,1083.90 L1211.99,1081.47 L1212.13,1083.26 L1212.26,1086.79 L1212.40,1092.24 L1212.53,1099.77 L1212.66,1107.56 L1212.80,1114.40 L1212.93,1121.26 L1213.07,1128.61 L1213.20,1135.31 L1213.34,1139.97 L1213.47,1143.39 L1213.61,1147.40 L1213.74,1151.02 L1213.87,1153.07 L1214.01,1154.49 L1214.14,1155.84 L1214.28,1157.09 L1214.41,1158.39 L1214.54,1159.81 L1214.68,1160.83 L1214.81,1160.81 L1214.95,1160.90 L1215.08,1161.58 L1215.21,1162.06 L1215.35,1162.81 L1215.48,1163.26 L1215.61,1163.21 L1215.75,1163.49 L1215.88,1163.88 L1216.02,1164.13 L1216.15,1163.94 L1216.28,1164.06 L1216.42,1164.55 L1216.55,1164.42 L1216.68,1164.18 L1216.82,1164.66 L1216.95,1165.15 L1217.08,1164.98 L1217.22,1165.01 L1217.35,1165.10 L1217.48,1165.11 L1217.62,1165.31 L1217.75,1165.31 L1217.88,1165.05 L1218.02,1164.58 L1218.15,1164.35 L1218.28,1164.32 L1218.42,1164.11 L1218.55,1163.82 L1218.68,1163.82 L1218.81,1164.00 L1218.95,1163.64 L1219.08,1163.03 L1219.21,1162.47 L1219.35,1161.64 L1219.48,1160.76 L1219.61,1159.86 L1219.74,1158.79 L1219.88,1157.54 L1220.01,1156.01 L1220.14,1153.80 L1220.27,1150.91 L1220.41,1147.93 L1220.54,1145.31 L1220.67,1142.93 L1220.80,1139.43 L1220.94,1135.37 L1221.07,1133.44 L1221.20,1132.53 L1221.33,1130.95 L1221.47,1130.53 L1221.60,1131.97 L1221.73,1134.10 L1221.86,1136.80 L1221.99,1139.75 L1222.13,1142.97 L1222.26,1146.10 L1222.39,1148.87 L1222.52,1151.27 L1222.65,1153.08 L1222.79,1155.00 L1222.92,1157.30 L1223.05,1158.99 L1223.18,1160.10 L1223.31,1160.88 L1223.45,1161.95 L1223.58,1163.85 L1223.71,1164.91 L1223.84,1164.62 L1223.97,1164.20 L1224.10,1164.37 L1224.24,1164.93 L1224.37,1165.27 L1224.50,1165.36 L1224.63,1165.08 L1224.76,1165.28 L1224.89,1165.80 L1225.02,1165.30 L1225.16,1165.21 L1225.29,1165.74 L1225.42,1165.79 L1225.55,1165.74 L1225.68,1165.67 L1225.81,1165.54 L1225.94,1165.74 L1226.07,1166.04 L1226.20,1166.05 L1226.34,1166.20 L1226.47,1166.19 L1226.60,1166.08 L1226.73,1166.30 L1226.86,1166.38 L1226.99,1166.42 L1227.12,1166.83 L1227.25,1167.14 L1227.38,1166.97 L1227.51,1166.57 L1227.64,1166.56 L1227.77,1166.98 L1227.91,1167.10 L1228.04,1167.22 L1228.17,1167.09 L1228.30,1166.72 L1228.43,1166.83 L1228.56,1166.93 L1228.69,1167.17 L1228.82,1167.52 L1228.95,1167.54 L1229.08,1167.53 L1229.21,1167.25 L1229.34,1166.88 L1229.47,1167.43 L1229.60,1167.87 L1229.73,1167.42 L1229.86,1167.33 L1229.99,1167.37 L1230.12,1167.50 L1230.25,1167.99 L1230.38,1168.07 L1230.51,1168.05 L1230.64,1168.12 L1230.77,1168.00 L1230.90,1167.61 L1231.03,1167.17 L1231.16,1167.11 L1231.29,1167.09 L1231.42,1167.35 L1231.55,1167.89 L1231.68,1167.62 L1231.81,1167.16 L1231.94,1166.97 L1232.07,1166.87 L1232.20,1166.94 L1232.33,1167.06 L1232.46,1167.28 L1232.59,1167.41 L1232.71,1167.56 L1232.84,1167.69 L1232.97,1167.54 L1233.10,1167.65 L1233.23,1167.82 L1233.36,1167.66 L1233.49,1167.68 L1233.62,1168.16 L1233.75,1168.51 L1233.88,1168.36 L1234.01,1168.05 L1234.14,1167.68 L1234.26,1167.66 L1234.39,1167.72 L1234.52,1167.72 L1234.65,1167.80 L1234.78,1167.72 L1234.91,1167.71 L1235.04,1167.41 L1235.17,1166.84 L1235.30,1166.52 L1235.42,1166.67 L1235.55,1167.30 L1235.68,1167.59 L1235.81,1167.13 L1235.94,1167.00 L1236.07,1167.29 L1236.20,1167.25 L1236.32,1167.80 L1236.45,1168.41 L1236.58,1167.70 L1236.71,1166.91 L1236.84,1166.94 L1236.97,1167.12 L1237.09,1167.61 L1237.22,1168.48 L1237.35,1168.84 L1237.48,1168.46 L1237.61,1168.18 L1237.73,1168.28 L1237.86,1168.10 L1237.99,1167.50 L1238.12,1167.57 L1238.25,1168.37 L1238.37,1168.54 L1238.50,1168.18 L1238.63,1168.42 L1238.76,1168.29 L1238.89,1167.34 L1239.01,1167.26 L1239.14,1168.06 L1239.27,1168.46 L1239.40,1168.33 L1239.52,1168.14 L1239.65,1167.83 L1239.78,1167.63 L1239.91,1167.63 L1240.03,1167.65 L1240.16,1167.74 L1240.29,1168.01 L1240.42,1168.17 L1240.54,1167.69 L1240.67,1167.04 L1240.80,1166.69 L1240.93,1167.39 L1241.05,1167.93 L1241.18,1167.46 L1241.31,1167.64 L1241.43,1167.97 L1241.56,1167.50 L1241.69,1166.83 L1241.82,1166.80 L1241.94,1167.34 L1242.07,1167.52 L1242.20,1167.57 L1242.32,1167.83 L1242.45,1167.87 L1242.58,1167.72 L1242.70,1167.47 L1242.83,1167.57 L1242.96,1167.95 L1243.08,1167.68 L1243.21,1167.18 L1243.34,1167.15 L1243.46,1167.53 L1243.59,1167.72 L1243.72,1167.67 L1243.84,1167.80 L1243.97,1167.91 L1244.10,1167.93 L1244.22,1167.99 L1244.35,1168.03 L1244.48,1167.97 L1244.60,1167.95 L1244.73,1168.05 L1244.85,1167.87 L1244.98,1167.34 L1245.11,1167.23 L1245.23,1167.60 L1245.36,1167.71 L1245.48,1167.48 L1245.61,1167.47 L1245.74,1167.56 L1245.86,1167.54 L1245.99,1167.45 L1246.11,1167.47 L1246.24,1167.89 L1246.37,1168.06 L1246.49,1167.91 L1246.62,1167.85 L1246.74,1167.68 L1246.87,1167.43 L1246.99,1167.35 L1247.12,1167.65 L1247.25,1168.12 L1247.37,1168.34 L1247.50,1168.17 L1247.62,1167.96 L1247.75,1168.26 L1247.87,1168.71 L1248.00,1168.58 L1248.12,1168.30 L1248.25,1168.78 L1248.37,1169.04 L1248.50,1168.30 L1248.63,1167.79 L1248.75,1167.64 L1248.88,1167.52 L1249.00,1167.61 L1249.13,1167.72 L1249.25,1167.94 L1249.38,1168.43 L1249.50,1168.93 L1249.63,1168.71 L1249.75,1167.90 L1249.88,1167.53 L1250.00,1167.83 L1250.13,1167.98 L1250.25,1167.75 L1250.38,1167.71 L1250.50,1167.81 L1250.62,1167.99 L1250.75,1168.21 L1250.87,1167.99 L1251.00,1167.26 L1251.12,1166.57 L1251.25,1166.57 L1251.37,1167.00 L1251.50,1167.15 L1251.62,1167.16 L1251.75,1167.11 L1251.87,1166.90 L1251.99,1167.01 L1252.12,1167.11 L1252.24,1166.81 L1252.37,1167.06 L1252.49,1167.08 L1252.62,1166.64 L1252.74,1166.95 L1252.86,1167.23 L1252.99,1166.95 L1253.11,1167.00 L1253.24,1167.38 L1253.36,1167.30 L1253.48,1166.91 L1253.61,1166.14 L1253.73,1165.69 L1253.86,1166.28 L1253.98,1166.74 L1254.10,1166.31 L1254.23,1166.07 L1254.35,1166.70 L1254.47,1167.01 L1254.60,1167.06 L1254.72,1167.57 L1254.84,1167.72 L1254.97,1167.52 L1255.09,1167.32 L1255.22,1167.22 L1255.34,1167.62 L1255.46,1168.15 L1255.59,1168.18 L1255.71,1167.70 L1255.83,1167.18 L1255.96,1166.92 L1256.08,1167.20 L1256.20,1167.50 L1256.33,1167.33 L1256.45,1167.04 L1256.57,1166.82 L1256.69,1166.96 L1256.82,1167.21 L1256.94,1167.03 L1257.06,1166.75 L1257.19,1166.40 L1257.31,1165.94 L1257.43,1166.36 L1257.56,1167.19 L1257.68,1167.05 L1257.80,1166.60 L1257.92,1166.56 L1258.05,1166.73 L1258.17,1167.17 L1258.29,1167.79 L1258.41,1167.71 L1258.54,1167.21 L1258.66,1167.20 L1258.78,1167.13 L1258.90,1167.23 L1259.03,1167.92 L1259.15,1167.92 L1259.27,1167.32 L1259.39,1167.24 L1259.52,1167.09 L1259.64,1166.79 L1259.76,1166.96 L1259.88,1167.07 L1260.01,1167.26 L1260.13,1167.32 L1260.25,1166.81 L1260.37,1166.88 L1260.49,1167.18 L1260.62,1167.18 L1260.74,1167.57 L1260.86,1167.93 L1260.98,1167.92 L1261.10,1167.77 L1261.23,1167.60 L1261.35,1167.48 L1261.47,1167.45 L1261.59,1167.26 L1261.71,1167.07 L1261.83,1167.08 L1261.96,1167.16 L1262.08,1167.44 L1262.20,1168.00 L1262.32,1168.18 L1262.44,1167.94 L1262.56,1167.86 L1262.69,1167.64 L1262.81,1167.46 L1262.93,1167.47 L1263.05,1167.31 L1263.17,1167.32 L1263.29,1167.47 L1263.41,1167.15 L1263.53,1166.72 L1263.66,1166.63 L1263.78,1166.79 L1263.90,1167.14 L1264.02,1166.99 L1264.14,1166.55 L1264.26,1166.70 L1264.38,1166.85 L1264.50,1166.92 L1264.62,1167.23 L1264.75,1167.14 L1264.87,1166.85 L1264.99,1166.60 L1265.11,1166.28 L1265.23,1166.23 L1265.35,1166.48 L1265.47,1166.79 L1265.59,1166.80 L1265.71,1166.61 L1265.83,1166.49 L1265.95,1166.56 L1266.07,1166.71 L1266.19,1166.45 L1266.31,1166.30 L1266.44,1166.92 L1266.56,1167.26 L1266.68,1166.81 L1266.80,1166.71 L1266.92,1167.01 L1267.04,1167.49 L1267.16,1167.95 L1267.28,1167.75 L1267.40,1167.18 L1267.52,1166.82 L1267.64,1166.79 L1267.76,1166.87 L1267.88,1167.23 L1268.00,1167.58 L1268.12,1167.74 L1268.24,1167.84 L1268.36,1167.44 L1268.48,1167.19 L1268.60,1167.46 L1268.72,1167.15 L1268.84,1166.65 L1268.96,1166.65 L1269.08,1166.65 L1269.20,1166.54 L1269.32,1166.79 L1269.44,1166.88 L1269.56,1166.23 L1269.68,1166.06 L1269.79,1166.35 L1269.91,1166.24 L1270.03,1165.86 L1270.15,1165.73 L1270.27,1166.08 L1270.39,1166.29 L1270.51,1165.84 L1270.63,1165.32 L1270.75,1165.28 L1270.87,1165.36 L1270.99,1165.35 L1271.11,1165.20 L1271.23,1165.15 L1271.35,1164.94 L1271.46,1164.49 L1271.58,1164.67 L1271.70,1164.61 L1271.82,1164.21 L1271.94,1164.78 L1272.06,1165.49 L1272.18,1165.14 L1272.30,1164.36 L1272.42,1164.27 L1272.54,1164.36 L1272.65,1164.29 L1272.77,1164.44 L1272.89,1164.31 L1273.01,1164.20 L1273.13,1164.50 L1273.25,1164.71 L1273.37,1164.88 L1273.48,1164.83 L1273.60,1164.59 L1273.72,1164.71 L1273.84,1165.31 L1273.96,1165.90 L1274.08,1165.89 L1274.19,1165.56 L1274.31,1165.24 L1274.43,1165.04 L1274.55,1165.10 L1274.67,1165.16 L1274.79,1165.05 L1274.90,1164.88 L1275.02,1165.15 L1275.14,1165.49 L1275.26,1164.88 L1275.38,1164.29 L1275.49,1164.69 L1275.61,1165.46 L1275.73,1165.78 L1275.85,1165.40 L1275.97,1165.01 L1276.08,1165.54 L1276.20,1166.69 L1276.32,1166.91 L1276.44,1165.58 L1276.55,1164.89 L1276.67,1165.62 L1276.79,1165.77 L1276.91,1165.25 L1277.03,1164.85 L1277.14,1164.92 L1277.26,1165.25 L1277.38,1165.12 L1277.49,1164.74 L1277.61,1164.34 L1277.73,1164.03 L1277.85,1164.17 L1277.96,1164.74 L1278.08,1164.96 L1278.20,1164.68 L1278.32,1164.48 L1278.43,1164.50 L1278.55,1164.49 L1278.67,1164.38 L1278.78,1164.01 L1278.90,1163.37 L1279.02,1163.38 L1279.14,1163.49 L1279.25,1163.28 L1279.37,1163.16 L1279.49,1162.79 L1279.60,1162.23 L1279.72,1161.74 L1279.84,1161.93 L1279.95,1162.21 L1280.07,1161.87 L1280.19,1161.60 L1280.30,1162.04 L1280.42,1162.62 L1280.54,1162.11 L1280.65,1161.06 L1280.77,1160.59 L1280.89,1160.60 L1281.00,1160.32 L1281.12,1160.20 L1281.24,1160.32 L1281.35,1159.77 L1281.47,1159.08 L1281.58,1158.88 L1281.70,1158.71 L1281.82,1158.33 L1281.93,1157.87 L1282.05,1157.44 L1282.17,1157.40 L1282.28,1157.28 L1282.40,1156.42 L1282.51,1155.07 L1282.63,1154.19 L1282.75,1153.60 L1282.86,1152.60 L1282.98,1151.47 L1283.09,1150.67 L1283.21,1150.19 L1283.32,1149.31 L1283.44,1148.15 L1283.56,1146.27 L1283.67,1143.43 L1283.79,1140.83 L1283.90,1138.39 L1284.02,1135.46 L1284.13,1131.53 L1284.25,1126.85 L1284.37,1121.60 L1284.48,1114.66 L1284.60,1107.62 L1284.71,1100.39 L1284.83,1090.55 L1284.94,1078.17 L1285.06,1063.70 L1285.17,1047.37 L1285.29,1029.51 L1285.40,1010.85 L1285.52,990.38 L1285.63,967.04 L1285.75,941.55 L1285.86,915.96 L1285.98,891.82 L1286.09,869.26 L1286.21,850.64 L1286.32,838.88 L1286.44,831.97 L1286.55,836.24 L1286.67,844.37 L1286.78,857.86 L1286.90,875.86 L1287.01,899.17 L1287.13,925.12 L1287.24,950.32 L1287.36,974.55 L1287.47,997.70 L1287.59,1019.18 L1287.70,1037.67 L1287.82,1054.42 L1287.93,1069.76 L1288.04,1083.23 L1288.16,1094.79 L1288.27,1103.81 L1288.39,1111.25 L1288.50,1117.60 L1288.62,1122.93 L1288.73,1127.54 L1288.84,1132.16 L1288.96,1136.07 L1289.07,1138.80 L1289.19,1141.54 L1289.30,1143.60 L1289.42,1145.01 L1289.53,1146.60 L1289.64,1147.54 L1289.76,1148.24 L1289.87,1149.65 L1289.99,1151.05 L1290.10,1151.10 L1290.21,1150.74 L1290.33,1151.75 L1290.44,1152.79 L1290.55,1152.96 L1290.67,1153.34 L1290.78,1154.33 L1290.90,1155.12 L1291.01,1155.43 L1291.12,1155.96 L1291.24,1156.69 L1291.35,1156.85 L1291.46,1156.45 L1291.58,1156.02 L1291.69,1155.87 L1291.80,1156.32 L1291.92,1156.35 L1292.03,1156.27 L1292.14,1156.59 L1292.26,1156.43 L1292.37,1156.53 L1292.48,1156.51 L1292.60,1155.77 L1292.71,1155.52 L1292.82,1155.41 L1292.94,1154.33 L1293.05,1153.04 L1293.16,1152.49 L1293.27,1152.21 L1293.39,1151.50 L1293.50,1150.07 L1293.61,1148.39 L1293.73,1146.65 L1293.84,1144.22 L1293.95,1141.87 L1294.06,1139.49 L1294.18,1135.52 L1294.29,1130.80 L1294.40,1126.18 L1294.52,1120.07 L1294.63,1112.60 L1294.74,1105.32 L1294.85,1097.54 L1294.97,1088.56 L1295.08,1078.71 L1295.19,1068.27 L1295.30,1058.34 L1295.42,1049.47 L1295.53,1040.56 L1295.64,1031.89 L1295.75,1025.74 L1295.86,1022.35 L1295.98,1021.86 L1296.09,1024.88 L1296.20,1030.75 L1296.31,1040.02 L1296.43,1050.75 L1296.54,1059.38 L1296.65,1068.48 L1296.76,1079.54 L1296.87,1090.42 L1296.99,1099.92 L1297.10,1108.09 L1297.21,1116.11 L1297.32,1122.97 L1297.43,1127.66 L1297.54,1132.09 L1297.66,1136.83 L1297.77,1140.87 L1297.88,1143.67 L1297.99,1145.64 L1298.10,1148.04 L1298.21,1150.50 L1298.33,1152.11 L1298.44,1153.06 L1298.55,1154.07 L1298.66,1155.64 L1298.77,1156.78 L1298.88,1157.29 L1298.99,1158.24 L1299.11,1159.27 L1299.22,1159.68 L1299.33,1160.08 L1299.44,1160.55 L1299.55,1160.78 L1299.66,1160.75 L1299.77,1160.72 L1299.88,1161.06 L1299.99,1161.62 L1300.11,1162.14 L1300.22,1162.48 L1300.33,1162.76 L1300.44,1162.73 L1300.55,1162.06 L1300.66,1161.68 L1300.77,1162.12 L1300.88,1162.58 L1300.99,1162.67 L1301.10,1162.85 L1301.21,1163.25 L1301.32,1163.44 L1301.44,1163.19 L1301.55,1163.15 L1301.66,1163.94 L1301.77,1164.51 L1301.88,1164.20 L1301.99,1164.26 L1302.10,1164.80 L1302.21,1165.46 L1302.32,1165.93 L1302.43,1165.51 L1302.54,1164.87 L1302.65,1164.70 L1302.76,1164.99 L1302.87,1165.35 L1302.98,1165.29 L1303.09,1165.00 L1303.20,1164.83 L1303.31,1164.77 L1303.42,1165.12 L1303.53,1165.62 L1303.64,1165.39 L1303.75,1165.25 L1303.86,1165.48 L1303.97,1165.44 L1304.08,1165.62 L1304.19,1165.99 L1304.30,1165.83 L1304.41,1165.22 L1304.52,1164.81 L1304.63,1164.68 L1304.74,1164.75 L1304.85,1165.16 L1304.96,1165.61 L1305.07,1165.66 L1305.18,1165.27 L1305.29,1165.14 L1305.40,1165.93 L1305.51,1166.65 L1305.62,1166.47 L1305.72,1166.20 L1305.83,1166.33 L1305.94,1166.48 L1306.05,1166.51 L1306.16,1166.71 L1306.27,1167.17 L1306.38,1167.10 L1306.49,1166.74 L1306.60,1166.96 L1306.71,1166.93 L1306.82,1166.74 L1306.93,1167.19 L1307.03,1167.14 L1307.14,1166.31 L1307.25,1166.06 L1307.36,1166.70 L1307.47,1167.35 L1307.58,1167.45 L1307.69,1167.16 L1307.80,1166.58 L1307.91,1166.05 L1308.01,1165.93 L1308.12,1166.22 L1308.23,1166.50 L1308.34,1166.37 L1308.45,1166.20 L1308.56,1166.38 L1308.67,1166.78 L1308.77,1166.88 L1308.88,1166.46 L1308.99,1166.43 L1309.10,1166.89 L1309.21,1166.90 L1309.32,1166.51 L1309.42,1166.20 L1309.53,1166.29 L1309.64,1166.53 L1309.75,1166.71 L1309.86,1167.36 L1309.97,1167.68 L1310.07,1167.04 L1310.18,1166.70 L1310.29,1166.86 L1310.40,1166.60 L1310.51,1166.27 L1310.61,1166.21 L1310.72,1166.02 L1310.83,1165.94 L1310.94,1166.32 L1311.04,1166.51 L1311.15,1166.20 L1311.26,1166.19 L1311.37,1166.37 L1311.48,1166.19 L1311.58,1166.33 L1311.69,1166.76 L1311.80,1166.95 L1311.91,1166.90 L1312.01,1166.62 L1312.12,1166.23 L1312.23,1166.40 L1312.34,1167.27 L1312.44,1167.40 L1312.55,1166.75 L1312.66,1166.41 L1312.77,1166.56 L1312.87,1166.63 L1312.98,1166.47 L1313.09,1166.47 L1313.19,1166.33 L1313.30,1166.05 L1313.41,1166.38 L1313.52,1167.10 L1313.62,1167.13 L1313.73,1166.81 L1313.84,1166.99 L1313.94,1167.13 L1314.05,1166.95 L1314.16,1166.90 L1314.26,1166.85 L1314.37,1166.90 L1314.48,1167.04 L1314.58,1166.94 L1314.69,1166.98 L1314.80,1166.96 L1314.90,1167.11 L1315.01,1167.80 L1315.12,1168.11 L1315.22,1167.61 L1315.33,1166.97 L1315.44,1166.94 L1315.54,1167.30 L1315.65,1167.62 L1315.76,1167.56 L1315.86,1167.07 L1315.97,1166.78 L1316.08,1166.62 L1316.18,1166.50 L1316.29,1166.45 L1316.39,1166.49 L1316.50,1166.56 L1316.61,1166.38 L1316.71,1166.53 L1316.82,1166.83 L1316.93,1166.38 L1317.03,1166.10 L1317.14,1166.68 L1317.24,1166.90 L1317.35,1166.58 L1317.45,1166.32 L1317.56,1165.93 L1317.67,1165.68 L1317.77,1165.89 L1317.88,1166.13 L1317.98,1166.47 L1318.09,1166.73 L1318.20,1166.60 L1318.30,1166.41 L1318.41,1166.12 L1318.51,1166.15 L1318.62,1166.46 L1318.72,1166.70 L1318.83,1166.79 L1318.93,1166.87 L1319.04,1167.39 L1319.14,1167.56 L1319.25,1167.34 L1319.36,1167.58 L1319.46,1167.65 L1319.57,1167.45 L1319.67,1167.35 L1319.78,1167.32 L1319.88,1167.29 L1319.99,1166.82 L1320.09,1166.44 L1320.20,1166.38 L1320.30,1166.37 L1320.41,1166.58 L1320.51,1166.49 L1320.62,1166.41 L1320.72,1166.78 L1320.83,1166.88 L1320.93,1166.77 L1321.04,1166.80 L1321.14,1167.18 L1321.25,1167.50 L1321.35,1167.05 L1321.45,1166.44 L1321.56,1166.16 L1321.66,1166.35 L1321.77,1166.79 L1321.87,1166.85" stroke="#ff0000" stroke-width="1.7" fill="none" stroke-linejoin="bevel"/>
<text x="1.00" y="64.80" text-anchor="start" font-family="'Liberation Sans', Arial, sans-serif" font-size="31" fill="#000" stroke="#000" stroke-width="0.2" >(a)</text>
<text x="1.00" y="677.60" text-anchor="start" font-family="'Liberation Sans', Arial, sans-serif" font-size="31" fill="#000" stroke="#000" stroke-width="0.2" >(b)</text>
<text x="777.70" y="24.00" text-anchor="middle" font-family="'Liberation Serif', 'Times New Roman', serif" font-size="35" fill="#000" stroke="#000" stroke-width="0.3" >2<tspan font-style="italic">θ</tspan> (º)</text>
<text x="185.70" y="76.80" text-anchor="middle" font-family="'Liberation Serif', 'Times New Roman', serif" font-size="35" fill="#000" stroke="#000" stroke-width="0.3" >90</text>
<text x="383.20" y="76.80" text-anchor="middle" font-family="'Liberation Serif', 'Times New Roman', serif" font-size="35" fill="#000" stroke="#000" stroke-width="0.3" >100</text>
<text x="580.70" y="76.80" text-anchor="middle" font-family="'Liberation Serif', 'Times New Roman', serif" font-size="35" fill="#000" stroke="#000" stroke-width="0.3" >110</text>
<text x="778.20" y="76.80" text-anchor="middle" font-family="'Liberation Serif', 'Times New Roman', serif" font-size="35" fill="#000" stroke="#000" stroke-width="0.3" >120</text>
<text x="975.70" y="76.80" text-anchor="middle" font-family="'Liberation Serif', 'Times New Roman', serif" font-size="35" fill="#000" stroke="#000" stroke-width="0.3" >130</text>
<text x="1173.20" y="76.80" text-anchor="middle" font-family="'Liberation Serif', 'Times New Roman', serif" font-size="35" fill="#000" stroke="#000" stroke-width="0.3" >140</text>
<text x="1370.70" y="76.80" text-anchor="middle" font-family="'Liberation Serif', 'Times New Roman', serif" font-size="35" fill="#000" stroke="#000" stroke-width="0.3" >150</text>
<text x="141.00" y="565.30" text-anchor="end" font-family="'Liberation Serif', 'Times New Roman', serif" font-size="35" fill="#000" stroke="#000" stroke-width="0.3" >0</text>
<text x="141.00" y="1196.90" text-anchor="end" font-family="'Liberation Serif', 'Times New Roman', serif" font-size="35" fill="#000" stroke="#000" stroke-width="0.3" >0</text>
<text x="141.00" y="460.15" text-anchor="end" font-family="'Liberation Serif', 'Times New Roman', serif" font-size="35" fill="#000" stroke="#000" stroke-width="0.3" >5000</text>
<text x="141.00" y="1091.75" text-anchor="end" font-family="'Liberation Serif', 'Times New Roman', serif" font-size="35" fill="#000" stroke="#000" stroke-width="0.3" >5000</text>
<text x="141.00" y="355.00" text-anchor="end" font-family="'Liberation Serif', 'Times New Roman', serif" font-size="35" fill="#000" stroke="#000" stroke-width="0.3" >10000</text>
<text x="141.00" y="986.60" text-anchor="end" font-family="'Liberation Serif', 'Times New Roman', serif" font-size="35" fill="#000" stroke="#000" stroke-width="0.3" >10000</text>
<text x="141.00" y="249.85" text-anchor="end" font-family="'Liberation Serif', 'Times New Roman', serif" font-size="35" fill="#000" stroke="#000" stroke-width="0.3" >15000</text>
<text x="141.00" y="881.45" text-anchor="end" font-family="'Liberation Serif', 'Times New Roman', serif" font-size="35" fill="#000" stroke="#000" stroke-width="0.3" >15000</text>
<text x="141.00" y="144.70" text-anchor="end" font-family="'Liberation Serif', 'Times New Roman', serif" font-size="35" fill="#000" stroke="#000" stroke-width="0.3" >20000</text>
<text x="141.00" y="776.30" text-anchor="end" font-family="'Liberation Serif', 'Times New Roman', serif" font-size="35" fill="#000" stroke="#000" stroke-width="0.3" >20000</text>
<text x="362.34" y="1265.30" text-anchor="middle" font-family="'Liberation Serif', 'Times New Roman', serif" font-size="35" fill="#000" stroke="#000" stroke-width="0.3" >-0.30</text>
<text x="552.31" y="1265.30" text-anchor="middle" font-family="'Liberation Serif', 'Times New Roman', serif" font-size="35" fill="#000" stroke="#000" stroke-width="0.3" >-0.25</text>
<text x="742.27" y="1265.30" text-anchor="middle" font-family="'Liberation Serif', 'Times New Roman', serif" font-size="35" fill="#000" stroke="#000" stroke-width="0.3" >-0.20</text>
<text x="932.23" y="1265.30" text-anchor="middle" font-family="'Liberation Serif', 'Times New Roman', serif" font-size="35" fill="#000" stroke="#000" stroke-width="0.3" >-0.15</text>
<text x="1122.19" y="1265.30" text-anchor="middle" font-family="'Liberation Serif', 'Times New Roman', serif" font-size="35" fill="#000" stroke="#000" stroke-width="0.3" >-0.10</text>
<text x="1312.15" y="1265.30" text-anchor="middle" font-family="'Liberation Serif', 'Times New Roman', serif" font-size="35" fill="#000" stroke="#000" stroke-width="0.3" >-0.05</text>
<text x="778.50" y="1316.00" text-anchor="middle" font-family="'Liberation Serif', 'Times New Roman', serif" font-size="35" fill="#000" stroke="#000" stroke-width="0.3" >ln sin <tspan font-style="italic">θ</tspan></text>
<text transform="translate(256.2,185.8) scale(0.989,1)" font-family="'Liberation Serif', 'Times New Roman', serif" font-size="35" fill="#000" stroke="#000" stroke-width="0.3">Diffraction intensity plotted on 2<tspan font-style="italic">θ</tspan></text>
<text transform="translate(257.6,817.0) scale(0.992,1)" font-family="'Liberation Serif', 'Times New Roman', serif" font-size="35" fill="#000" stroke="#000" stroke-width="0.3">Diffraction intensity plotted on ln sin <tspan font-style="italic">θ</tspan></text>
<text transform="translate(26.5,343.7) rotate(-90) scale(0.985,1)" text-anchor="middle" font-family="'Liberation Serif', 'Times New Roman', serif" font-size="35" fill="#000" stroke="#000" stroke-width="0.3">Intensity (counts)</text>
<text transform="translate(26.5,975.3) rotate(-90) scale(0.985,1)" text-anchor="middle" font-family="'Liberation Serif', 'Times New Roman', serif" font-size="35" fill="#000" stroke="#000" stroke-width="0.3">Intensity (counts)</text>
</svg>
</body></html>
